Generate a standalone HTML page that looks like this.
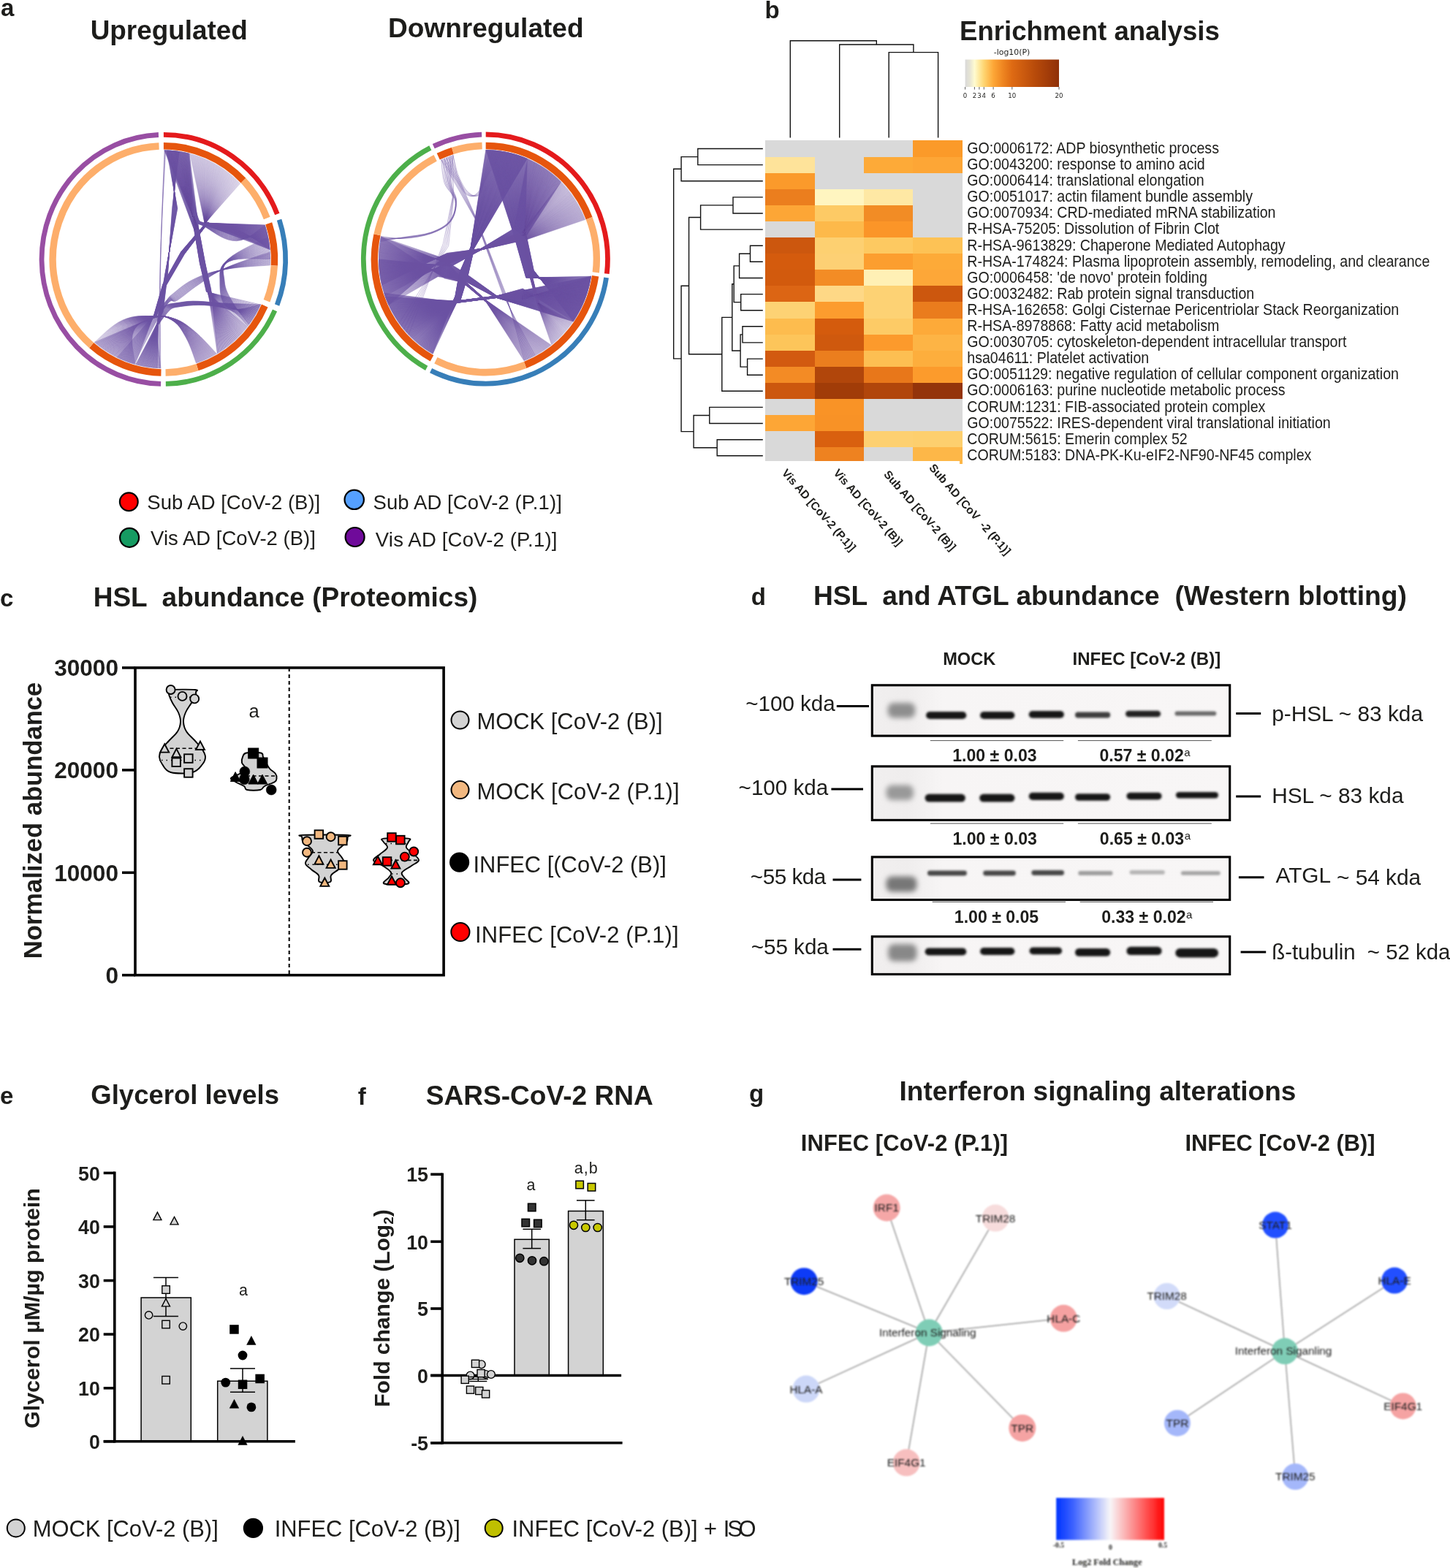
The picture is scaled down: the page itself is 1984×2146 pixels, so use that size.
<!DOCTYPE html>
<html lang="en"><head><meta charset="utf-8"><title>Figure</title>
<style>
html,body{margin:0;padding:0;background:#fff;}
body{width:1984px;height:2146px;overflow:hidden;}
svg{display:block;}
text{font-family:"Liberation Sans",sans-serif;fill:#1d1d1b;white-space:pre;}
.b{font-weight:700;}
.ser{font-family:"Liberation Serif",serif;font-weight:700;}
</style></head><body>
<svg width="1984" height="2146" viewBox="0 0 1984 2146">
<defs>
<filter id="bl1" x="-20%" y="-20%" width="140%" height="140%"><feGaussianBlur stdDeviation="1"/></filter>
<filter id="bl15" x="-30%" y="-60%" width="160%" height="220%"><feGaussianBlur stdDeviation="1.5"/></filter>
<filter id="bl08" x="-10%" y="-30%" width="120%" height="160%"><feGaussianBlur stdDeviation="0.85"/></filter>
<filter id="bl2" x="-30%" y="-60%" width="160%" height="220%"><feGaussianBlur stdDeviation="2.2"/></filter>
<filter id="bl3" x="-30%" y="-60%" width="160%" height="220%"><feGaussianBlur stdDeviation="3.5"/></filter>
<filter id="bl05" x="-10%" y="-10%" width="120%" height="120%"><feGaussianBlur stdDeviation="0.6"/></filter>
</defs>
<!-- p10_a.py -->
<text x="1.0" y="21.5" font-size="33.00" xml:space="preserve" class="b">a</text>
<text x="123.7" y="53.8" font-size="36.90" xml:space="preserve" class="b">Upregulated</text>
<text x="531.0" y="51.3" font-size="37.05" xml:space="preserve" class="b">Downregulated</text>
<g transform="translate(223.90 354.90) scale(0.9780 1)">
<path d="M1.1 -149.4C0.0 -118.5 -3.1 -54.6 -4.2 5.1C-5.3 64.9 -4.3 120.5 -4.3 149.3M1.7 -149.4C0.4 -118.5 -3.1 -54.6 -4.4 5.1C-5.7 64.8 -4.9 120.5 -5.0 149.3M2.2 -149.4C0.9 -118.5 -3.0 -54.6 -4.6 5.1C-6.2 64.8 -5.5 120.5 -5.7 149.3M2.8 -149.4C1.3 -118.5 -2.9 -54.6 -4.8 5.1C-6.6 64.8 -6.1 120.4 -6.4 149.3M141.8 -46.9L59.1 -49.8L24.3 -10.3L-1.1 34.1L-13.2 75.2L-39.9 144.0M142.0 -46.4L59.1 -49.8L24.3 -10.3L-1.1 34.1L-13.2 75.2L-40.8 143.7M142.2 -46.0L59.1 -49.7L24.4 -10.2L-1.0 34.1L-13.2 75.3L-41.7 143.5M142.3 -45.5L59.1 -49.7L24.5 -10.2L-0.9 34.2L-13.1 75.3L-42.6 143.2M142.5 -45.0L59.1 -49.7L24.5 -10.1L-0.9 34.2L-13.1 75.3L-43.5 142.9M142.6 -44.5L59.1 -49.6L24.6 -10.1L-0.8 34.2L-13.0 75.4L-44.4 142.7M142.8 -44.1L59.2 -49.6L24.7 -10.1L-0.7 34.3L-13.0 75.4L-45.3 142.4M142.9 -43.6L59.2 -49.5L24.8 -10.0L-0.7 34.3L-12.9 75.4L-46.2 142.1M143.0 -43.1L59.2 -49.5L24.8 -10.0L-0.6 34.3L-12.9 75.5L-47.1 141.8M143.2 -42.6L59.2 -49.4L24.9 -9.9L-0.5 34.4L-12.8 75.5L-48.0 141.5M143.3 -42.2L59.2 -49.4L25.0 -9.9L-0.5 34.4L-12.8 75.5L-48.9 141.2M143.5 -41.7L59.2 -49.3L25.0 -9.8L-0.4 34.4L-12.7 75.6L-49.8 140.9M143.6 -41.2L59.2 -49.3L25.1 -9.8L-0.3 34.4L-12.7 75.6L-50.7 140.6M143.7 -40.7L59.2 -49.2L25.2 -9.7L-0.3 34.5L-12.6 75.6L-51.5 140.2M143.9 -40.2L59.2 -49.2L25.2 -9.7L-0.2 34.5L-12.6 75.7L-52.4 139.9M144.0 -39.8L59.2 -49.1L25.3 -9.6L-0.1 34.5L-12.6 75.7L-53.3 139.6M144.1 -39.3L59.2 -49.1L25.4 -9.6L-0.1 34.6L-12.5 75.7L-54.2 139.2M144.3 -38.8L59.3 -49.0L25.5 -9.5L-0.0 34.6L-12.5 75.8L-55.1 138.9M144.4 -38.3L59.3 -49.0L25.5 -9.5L0.1 34.6L-12.4 75.8L-55.9 138.5M144.5 -37.8L59.3 -48.9L25.6 -9.4L0.1 34.6L-12.4 75.8L-56.8 138.2M144.7 -37.3L59.3 -48.9L25.7 -9.4L0.2 34.7L-12.3 75.9L-57.7 137.8M144.8 -36.9L59.3 -48.8L25.7 -9.3L0.2 34.7L-12.3 75.9L-58.5 137.5M144.9 -36.4L59.3 -48.8L25.8 -9.3L0.3 34.7L-12.2 75.9L-59.4 137.1M145.0 -35.9L59.3 -48.7L25.9 -9.2L0.4 34.8L-12.2 76.0L-60.3 136.7M145.1 -35.4L59.3 -48.7L25.9 -9.2L0.4 34.8L-12.1 76.0L-61.1 136.3M145.3 -34.9L59.3 -48.6L26.0 -9.1L0.5 34.8L-12.1 76.0L-62.0 135.9M145.4 -34.4L59.3 -48.6L26.1 -9.1L0.6 34.9L-12.0 76.1L-62.9 135.5M145.5 -34.0L59.3 -48.5L26.2 -9.0L0.6 34.9L-12.0 76.1L-63.7 135.1M145.6 -33.5L59.3 -48.5L26.2 -9.0L0.7 34.9L-12.0 76.1L-64.6 134.7M145.7 -33.0L59.4 -48.4L26.3 -8.9L0.8 34.9L-11.9 76.2L-65.4 134.3M145.8 -32.5L59.4 -48.4L26.4 -8.9L0.8 35.0L-11.9 76.2L-66.2 133.9M145.9 -32.0L59.4 -48.3L26.4 -8.8L0.9 35.0L-11.8 76.2L-67.1 133.5M146.0 -31.5L59.4 -48.3L26.5 -8.8L1.0 35.0L-11.8 76.3L-67.9 133.1M146.1 -31.0L59.4 -48.2L26.6 -8.7L1.0 35.1L-11.7 76.3L-68.8 132.6M146.2 -30.5L59.4 -48.2L26.7 -8.7L1.1 35.1L-11.7 76.3L-69.6 132.2M146.3 -30.1L59.4 -48.1L26.7 -8.6L1.2 35.1L-11.6 76.4L-70.4 131.8M146.4 -29.6L59.4 -48.1L26.8 -8.6L1.2 35.1L-11.6 76.4L-71.3 131.3M146.5 -29.1L59.4 -48.0L26.9 -8.5L1.3 35.2L-11.5 76.4L-72.1 130.9M146.6 -28.6L59.4 -48.0L26.9 -8.5L1.4 35.2L-11.5 76.5L-72.9 130.4M146.7 -28.1L59.4 -47.9L27.0 -8.4L1.4 35.2L-11.4 76.5L-73.7 129.9M146.8 -27.6L59.5 -47.9L27.1 -8.4L1.5 35.3L-11.4 76.5L-74.6 129.5M146.9 -27.1L59.5 -47.8L27.1 -8.3L1.5 35.3L-11.4 76.6L-75.4 129.0M147.0 -26.6L59.5 -47.8L27.2 -8.3L1.6 35.3L-11.3 76.6L-76.2 128.5M147.1 -26.1L59.5 -47.7L27.3 -8.2L1.7 35.3L-11.3 76.6L-77.0 128.0M147.2 -25.6L59.5 -47.7L27.4 -8.2L1.7 35.4L-11.2 76.7L-77.8 127.5M147.3 -25.1L59.5 -47.6L27.4 -8.1L1.8 35.4L-11.2 76.7L-78.6 127.0M147.4 -24.7L59.5 -47.6L27.5 -8.1L1.9 35.4L-11.1 76.7L-79.4 126.6M147.4 -24.2L59.5 -47.5L27.6 -8.0L1.9 35.5L-11.1 76.8L-80.2 126.0M147.5 -23.7L59.5 -47.5L27.6 -8.0L2.0 35.5L-11.0 76.8L-81.0 125.5M147.6 -23.2L59.5 -47.4L27.7 -7.9L2.1 35.5L-11.0 76.8L-81.8 125.0M147.7 -22.7L59.5 -47.4L27.8 -7.9L2.1 35.6L-10.9 76.9L-82.6 124.5M147.7 -22.2L59.6 -47.3L27.8 -7.8L2.2 35.6L-10.9 76.9L-83.4 124.0M147.8 -21.7L59.6 -47.3L27.9 -7.8L2.3 35.6L-10.9 76.9L-84.1 123.5M147.9 -21.2L59.6 -47.2L28.0 -7.7L2.3 35.6L-10.8 77.0L-84.9 122.9M148.0 -20.7L59.6 -47.2L28.1 -7.7L2.4 35.7L-10.8 77.0L-85.7 122.4M148.0 -20.2L59.6 -47.1L28.1 -7.6L2.5 35.7L-10.7 77.0L-86.5 121.8M148.1 -19.7L59.6 -47.1L28.2 -7.6L2.5 35.7L-10.7 77.1L-87.2 121.3M148.2 -19.2L59.6 -47.0L28.3 -7.5L2.6 35.8L-10.6 77.1L-88.0 120.7M148.2 -18.7L59.6 -47.0L28.3 -7.5L2.7 35.8L-10.6 77.1L-88.7 120.2M148.3 -18.2L59.6 -46.9L28.4 -7.4L2.7 35.8L-10.5 77.2L-89.5 119.6M148.3 -17.7L59.6 -46.9L28.5 -7.4L2.8 35.8L-10.5 77.2L-90.3 119.1M148.4 -17.2L59.6 -46.8L28.5 -7.3L2.9 35.9L-10.4 77.2L-91.0 118.5M148.5 -16.7L59.7 -46.8L28.6 -7.3L2.9 35.9L-10.4 77.3L-91.8 117.9M148.5 -16.2L59.7 -46.7L28.7 -7.2L3.0 35.9L-10.3 77.3L-92.5 117.3M148.6 -15.8L59.7 -46.7L28.8 -7.2L3.0 36.0L-10.3 77.3L-93.2 116.7M148.6 -15.3L59.7 -46.6L28.8 -7.2L3.1 36.0L-10.3 77.4L-94.0 116.1M148.7 -14.8L59.7 -46.6L28.9 -7.1L3.2 36.0L-10.2 77.4L-94.7 115.6M148.7 -14.3L59.7 -46.6L29.0 -7.1L3.2 36.1L-10.2 77.4L-95.4 115.0M148.8 -13.8L59.7 -46.5L29.0 -7.0L3.3 36.1L-10.1 77.5L-96.1 114.4M148.8 -13.3L59.7 -46.5L29.1 -7.0L3.4 36.1L-10.1 77.5L-96.9 113.7" fill="none" stroke="#6A51A3" stroke-width="0.50" stroke-opacity="0.80" stroke-linejoin="round"/>
<path d="M4.1 -149.3L19.3 -69.7L2.5 17.4L-7.1 70.7L-8.2 149.2M4.6 -149.3L19.2 -69.7L2.6 17.4L-6.9 70.7L-9.0 149.1M5.1 -149.3L19.0 -69.7L2.7 17.4L-6.8 70.8L-9.8 149.1M5.5 -149.3L18.8 -69.7L2.8 17.4L-6.6 70.8L-10.6 149.0M6.0 -149.3L18.6 -69.7L2.8 17.4L-6.5 70.8L-11.4 149.0M6.4 -149.3L18.4 -69.8L2.9 17.4L-6.3 70.9L-12.2 148.9M6.9 -149.2L18.2 -69.8L3.0 17.4L-6.1 70.9L-13.0 148.8M7.3 -149.2L18.0 -69.8L3.1 17.4L-6.0 70.9L-13.8 148.8M7.8 -149.2L17.8 -69.8L3.2 17.5L-5.8 71.0L-14.6 148.7M8.2 -149.2L17.7 -69.8L3.3 17.5L-5.7 71.0L-15.4 148.6M8.7 -149.1L17.5 -69.8L3.4 17.5L-5.5 71.0L-16.2 148.5M9.2 -149.1L17.3 -69.8L3.5 17.5L-5.3 71.1L-17.0 148.4M9.6 -149.1L17.1 -69.8L3.5 17.5L-5.2 71.1L-17.8 148.3M10.1 -149.1L16.9 -69.8L3.6 17.5L-5.0 71.1L-18.6 148.2M10.5 -149.0L16.7 -69.8L3.7 17.5L-4.9 71.2L-19.4 148.1M11.0 -149.0L16.5 -69.9L3.8 17.5L-4.7 71.2L-20.2 148.0M11.4 -149.0L16.4 -69.9L3.9 17.6L-4.5 71.2L-21.0 147.9M11.9 -148.9L16.2 -69.9L4.0 17.6L-4.4 71.3L-21.8 147.8M12.3 -148.9L16.0 -69.9L4.1 17.6L-4.2 71.3L-22.6 147.7M12.8 -148.9L15.8 -69.9L4.1 17.6L-4.1 71.3L-23.4 147.6M13.2 -148.8L15.6 -69.9L4.2 17.6L-3.9 71.4L-24.2 147.4M13.7 -148.8L15.4 -69.9L4.3 17.6L-3.7 71.4L-24.9 147.3M14.2 -148.7L15.2 -69.9L4.4 17.6L-3.6 71.4L-25.7 147.2M14.6 -148.7L15.0 -69.9L4.5 17.6L-3.4 71.5L-26.5 147.0M15.1 -148.6L14.9 -69.9L4.6 17.7L-3.3 71.5L-27.3 146.9M15.5 -148.6L14.7 -70.0L4.7 17.7L-3.1 71.5L-28.1 146.7M16.0 -148.5L14.5 -70.0L4.8 17.7L-3.0 71.6L-28.9 146.6M16.4 -148.5L14.3 -70.0L4.8 17.7L-2.8 71.6L-29.7 146.4M16.9 -148.4L14.1 -70.0L4.9 17.7L-2.6 71.6L-30.5 146.3M17.3 -148.4L13.9 -70.0L5.0 17.7L-2.5 71.7L-31.2 146.1M17.8 -148.3L13.7 -70.0L5.1 17.7L-2.3 71.7L-32.0 145.9M18.2 -148.3L13.5 -70.0L5.2 17.7L-2.2 71.7L-32.8 145.8M18.7 -148.2L13.4 -70.0L5.3 17.8L-2.0 71.8L-33.6 145.6M19.1 -148.2L13.2 -70.0L5.4 17.8L-1.8 71.8L-34.4 145.4M19.6 -148.1L13.0 -70.0L5.4 17.8L-1.7 71.8L-35.2 145.2M20.0 -148.0L12.8 -70.1L5.5 17.8L-1.5 71.9L-35.9 145.0M20.5 -148.0L12.6 -70.1L5.6 17.8L-1.4 71.9L-36.7 144.8M21.0 -147.9L12.4 -70.1L5.7 17.8L-1.2 71.9L-37.5 144.6M21.4 -147.9L12.2 -70.1L5.8 17.8L-1.0 72.0L-38.3 144.4M21.9 -147.8L12.0 -70.1L5.9 17.8L-0.9 72.0L-39.0 144.2M1.1 -149.4L42.7 -40.4L50.7 5.8L59.8 44.5L135.8 62.2M1.7 -149.4L42.9 -40.4L50.8 5.8L59.9 44.4L135.2 63.6M2.3 -149.4L43.0 -40.5L50.9 5.8L60.0 44.4L134.5 65.0M2.9 -149.4L43.1 -40.5L51.0 5.8L60.1 44.3L133.8 66.4M3.5 -149.4L43.2 -40.5L51.2 5.7L60.2 44.2L133.1 67.8M4.1 -149.3L43.3 -40.5L51.3 5.7L60.4 44.2L132.4 69.2M4.7 -149.3L43.4 -40.6L51.4 5.7L60.5 44.1L131.7 70.5M5.2 -149.3L43.5 -40.6L51.5 5.7L60.6 44.0L131.0 71.9M5.8 -149.3L43.6 -40.6L51.7 5.6L60.7 44.0L130.2 73.2M6.4 -149.3L43.7 -40.6L51.8 5.6L60.8 43.9L129.4 74.6M7.0 -149.2L43.8 -40.7L51.9 5.6L60.9 43.8L128.7 75.9M7.6 -149.2L43.9 -40.7L52.0 5.6L61.0 43.8L127.9 77.3M8.2 -149.2L44.0 -40.7L52.2 5.5L61.1 43.7L127.1 78.6M8.8 -149.1L44.1 -40.7L52.3 5.5L61.2 43.7L126.2 79.9M9.4 -149.1L44.2 -40.8L52.4 5.5L61.3 43.6L125.4 81.2M10.0 -149.1L44.3 -40.8L52.5 5.5L61.4 43.5L124.6 82.5M10.6 -149.0L44.4 -40.8L52.6 5.4L61.5 43.5L123.7 83.8M11.2 -149.0L44.5 -40.8L52.8 5.4L61.6 43.4L122.8 85.1M11.8 -148.9L44.6 -40.9L52.9 5.4L61.7 43.3L121.9 86.3M12.4 -148.9L44.8 -40.9L53.0 5.4L61.9 43.3L121.0 87.6M13.0 -148.8L44.9 -40.9L53.1 5.3L62.0 43.2L120.1 88.9M13.6 -148.8L45.0 -40.9L53.3 5.3L62.1 43.1L119.2 90.1M14.2 -148.7L45.1 -41.0L53.4 5.3L62.2 43.1L118.2 91.3M14.7 -148.7L45.2 -41.0L53.5 5.3L62.3 43.0L117.3 92.6M15.3 -148.6L45.3 -41.0L53.6 5.2L62.4 43.0L116.3 93.8M15.9 -148.5L45.4 -41.0L53.7 5.2L62.5 42.9L115.3 95.0M16.5 -148.5L45.5 -41.1L53.9 5.2L62.6 42.8L114.3 96.2M17.1 -148.4L45.6 -41.1L54.0 5.2L62.7 42.8L113.3 97.3M17.7 -148.3L45.7 -41.1L54.1 5.1L62.8 42.7L112.3 98.5M18.3 -148.3L45.8 -41.1L54.2 5.1L62.9 42.6L111.3 99.7M18.9 -148.2L45.9 -41.2L54.4 5.1L63.0 42.6L110.2 100.8M19.5 -148.1L46.0 -41.2L54.5 5.1L63.1 42.5L109.2 102.0M20.1 -148.0L46.1 -41.2L54.6 5.0L63.3 42.4L108.1 103.1M20.7 -148.0L46.2 -41.2L54.7 5.0L63.4 42.4L107.0 104.2M21.3 -147.9L46.3 -41.3L54.8 5.0L63.5 42.3L106.0 105.3M21.8 -147.8L46.4 -41.3L55.0 5.0L63.6 42.2L104.9 106.4M22.4 -147.7L46.5 -41.3L55.1 4.9L63.7 42.2L103.7 107.5M23.0 -147.6L46.7 -41.3L55.2 4.9L63.8 42.1L102.6 108.6M23.6 -147.5L46.8 -41.4L55.3 4.9L63.9 42.1L101.5 109.6M24.2 -147.4L46.9 -41.4L55.5 4.9L64.0 42.0L100.4 110.7M24.8 -147.3L47.0 -41.4L55.6 4.8L64.1 41.9L99.2 111.7M25.4 -147.2L47.1 -41.4L55.7 4.8L64.2 41.9L98.0 112.7M26.0 -147.1L47.2 -41.5L55.8 4.8L64.3 41.8L96.9 113.8M26.5 -147.0L47.3 -41.5L55.9 4.8L64.4 41.7L95.7 114.8M27.1 -146.9L47.4 -41.5L56.1 4.7L64.5 41.7L94.5 115.7M27.7 -146.8L47.5 -41.5L56.2 4.7L64.7 41.6L93.3 116.7M28.3 -146.7L47.6 -41.6L56.3 4.7L64.8 41.5L92.0 117.7M28.9 -146.6L47.7 -41.6L56.4 4.7L64.9 41.5L90.8 118.6M29.5 -146.5L47.8 -41.6L56.6 4.6L65.0 41.4L89.6 119.6M30.0 -146.3L47.9 -41.6L56.7 4.6L65.1 41.4L88.3 120.5M30.6 -146.2L48.0 -41.7L56.8 4.6L65.2 41.3L87.1 121.4M31.2 -146.1L48.1 -41.7L56.9 4.6L65.3 41.2L85.8 122.3M31.8 -146.0L48.2 -41.7L57.0 4.5L65.4 41.2L84.5 123.2M32.4 -145.8L48.3 -41.7L57.2 4.5L65.5 41.1L83.3 124.1M33.0 -145.7L48.4 -41.8L57.3 4.5L65.6 41.0L82.0 124.9M33.5 -145.6L48.5 -41.8L57.4 4.5L65.7 41.0L80.7 125.8M34.1 -145.5L48.7 -41.8L57.5 4.4L65.8 40.9L79.4 126.6M34.7 -145.3L48.8 -41.8L57.7 4.4L65.9 40.8L78.0 127.4M35.3 -145.2L48.9 -41.9L57.8 4.4L66.0 40.8L76.7 128.2M35.9 -145.0L49.0 -41.9L57.9 4.4L66.2 40.7L75.4 129.0M1.8 -149.4C9.2 -132.2 27.3 -84.6 38.7 -63.5C50.1 -42.4 46.1 -51.7 58.8 -44.0C71.5 -36.3 85.4 -24.7 102.1 -25.2C118.7 -25.8 134.0 -42.4 141.9 -46.7M2.8 -149.4C10.0 -132.2 27.6 -84.7 38.9 -63.6C50.1 -42.6 46.2 -51.7 58.9 -44.1C71.5 -36.5 85.5 -25.4 102.1 -25.7C118.8 -26.0 134.2 -41.7 142.2 -45.7M3.8 -149.4C10.8 -132.2 28.0 -84.7 39.1 -63.7C50.1 -42.7 46.3 -51.8 58.9 -44.3C71.6 -36.7 85.5 -26.0 102.2 -26.1C118.9 -26.2 134.5 -41.0 142.6 -44.7M4.8 -149.3C11.7 -132.2 28.4 -84.8 39.3 -63.8C50.1 -42.8 46.4 -51.8 59.0 -44.4C71.6 -36.9 85.5 -26.7 102.3 -26.5C119.1 -26.4 134.7 -40.3 142.9 -43.7M5.8 -149.3C12.5 -132.2 28.8 -84.8 39.5 -63.9C50.1 -42.9 46.5 -51.9 59.1 -44.5C71.6 -37.1 85.6 -27.3 102.4 -27.0C119.2 -26.6 135.0 -39.6 143.2 -42.7M6.8 -149.2C13.4 -132.2 29.2 -84.9 39.7 -63.9C50.1 -43.0 46.6 -52.0 59.1 -44.7C71.7 -37.3 85.6 -28.0 102.5 -27.4C119.3 -26.8 135.2 -38.9 143.4 -41.8M7.8 -149.2C14.2 -132.2 29.6 -84.9 39.9 -64.0C50.2 -43.1 46.7 -52.0 59.2 -44.8C71.7 -37.5 85.6 -28.6 102.5 -27.8C119.4 -27.0 135.5 -38.2 143.7 -40.8M8.8 -149.1C15.0 -132.1 30.0 -85.0 40.1 -64.1C50.2 -43.3 46.8 -52.1 59.3 -44.9C71.8 -37.7 85.7 -29.3 102.6 -28.3C119.6 -27.3 135.7 -37.5 144.0 -39.8M9.8 -149.1C15.9 -132.1 30.4 -85.0 40.3 -64.2C50.2 -43.4 46.9 -52.1 59.3 -45.0C71.8 -37.9 85.7 -30.0 102.7 -28.7C119.7 -27.5 136.0 -36.8 144.3 -38.8M10.8 -149.0C16.7 -132.1 30.8 -85.0 40.5 -64.3C50.2 -43.5 46.9 -52.2 59.4 -45.2C71.9 -38.1 85.7 -30.6 102.8 -29.1C119.8 -27.7 136.2 -36.1 144.5 -37.8M11.8 -148.9C17.5 -132.0 31.2 -85.1 40.7 -64.4C50.2 -43.6 47.0 -52.3 59.5 -45.3C71.9 -38.3 85.8 -31.3 102.9 -29.6C119.9 -27.9 136.4 -35.4 144.8 -36.8M12.8 -148.9C18.4 -132.0 31.5 -85.1 40.9 -64.4C50.3 -43.8 47.1 -52.3 59.5 -45.4C71.9 -38.5 85.8 -31.9 102.9 -30.0C120.0 -28.1 136.6 -34.6 145.0 -35.8M13.7 -148.8C19.2 -131.9 31.9 -85.2 41.1 -64.5C50.3 -43.9 47.2 -52.4 59.6 -45.6C72.0 -38.7 85.9 -32.6 103.0 -30.4C120.2 -28.3 136.8 -33.9 145.3 -34.8M14.7 -148.7C20.1 -131.9 32.3 -85.2 41.3 -64.6C50.3 -44.0 47.3 -52.4 59.7 -45.7C72.0 -38.9 85.9 -33.3 103.1 -30.9C120.3 -28.5 137.0 -33.2 145.5 -33.8M15.7 -148.6C20.9 -131.8 32.7 -85.2 41.5 -64.7C50.3 -44.1 47.4 -52.5 59.7 -45.8C72.1 -39.1 86.0 -33.9 103.2 -31.3C120.4 -28.7 137.2 -32.5 145.8 -32.8M16.7 -148.5C21.7 -131.7 33.1 -85.3 41.7 -64.8C50.3 -44.3 47.5 -52.6 59.8 -46.0C72.1 -39.3 86.0 -34.6 103.3 -31.7C120.5 -28.9 137.4 -31.8 146.0 -31.8M17.7 -148.3C22.6 -131.6 33.5 -85.3 41.9 -64.9C50.4 -44.4 47.6 -52.6 59.9 -46.1C72.2 -39.5 86.1 -35.2 103.3 -32.2C120.6 -29.1 137.6 -31.1 146.2 -30.8M18.7 -148.2C23.4 -131.6 33.9 -85.3 42.1 -64.9C50.4 -44.5 47.7 -52.7 60.0 -46.2C72.2 -39.8 86.1 -35.9 103.4 -32.6C120.7 -29.3 137.8 -30.4 146.4 -29.8M19.7 -148.1C24.2 -131.5 34.3 -85.4 42.3 -65.0C50.4 -44.7 47.8 -52.7 60.0 -46.3C72.3 -40.0 86.2 -36.6 103.5 -33.1C120.8 -29.5 138.0 -29.6 146.6 -28.8M20.7 -148.0C25.0 -131.4 34.7 -85.4 42.5 -65.1C50.4 -44.8 47.9 -52.8 60.1 -46.5C72.3 -40.2 86.2 -37.2 103.6 -33.5C120.9 -29.7 138.2 -28.9 146.8 -27.8M21.7 -147.8C25.9 -131.3 35.0 -85.4 42.7 -65.2C50.4 -44.9 48.0 -52.9 60.2 -46.6C72.3 -40.4 86.3 -37.9 103.7 -33.9C121.0 -30.0 138.3 -28.2 147.0 -26.8M22.7 -147.7C26.7 -131.2 35.4 -85.5 42.9 -65.3C50.5 -45.1 48.1 -52.9 60.2 -46.7C72.4 -40.6 86.3 -38.5 103.7 -34.4C121.1 -30.2 138.5 -27.5 147.2 -25.8M23.6 -147.5C27.5 -131.1 35.8 -85.5 43.1 -65.4C50.5 -45.2 48.2 -53.0 60.3 -46.9C72.4 -40.8 86.4 -39.2 103.8 -34.8C121.2 -30.4 138.6 -26.8 147.3 -24.7M24.6 -147.4C28.4 -131.0 36.2 -85.5 43.4 -65.4C50.5 -45.4 48.3 -53.0 60.4 -47.0C72.5 -41.0 86.5 -39.9 103.9 -35.2C121.3 -30.6 138.8 -26.0 147.5 -23.7M25.6 -147.2C29.2 -130.9 36.6 -85.5 43.6 -65.5C50.5 -45.5 48.4 -53.1 60.4 -47.1C72.5 -41.2 86.5 -40.5 104.0 -35.7C121.4 -30.8 138.9 -25.3 147.7 -22.7M26.6 -147.0C30.0 -130.7 37.0 -85.6 43.8 -65.6C50.5 -45.7 48.4 -53.2 60.5 -47.3C72.6 -41.4 86.6 -41.2 104.1 -36.1C121.5 -31.0 139.1 -24.6 147.8 -21.7M27.6 -146.8C30.8 -130.6 37.4 -85.6 44.0 -65.7C50.6 -45.8 48.5 -53.2 60.6 -47.4C72.6 -41.6 86.7 -41.9 104.1 -36.5C121.6 -31.2 139.2 -23.8 148.0 -20.7M28.5 -146.6C31.7 -130.5 37.7 -85.6 44.2 -65.8C50.6 -45.9 48.6 -53.3 60.6 -47.5C72.6 -41.8 86.7 -42.5 104.2 -37.0C121.7 -31.4 139.3 -23.1 148.1 -19.7M29.5 -146.5C32.5 -130.3 38.1 -85.6 44.4 -65.9C50.6 -46.1 48.7 -53.3 60.7 -47.6C72.7 -42.0 86.8 -43.2 104.3 -37.4C121.8 -31.6 139.4 -22.4 148.2 -18.6M30.5 -146.3C33.3 -130.2 38.5 -85.6 44.6 -65.9C50.6 -46.2 48.8 -53.4 60.8 -47.8C72.7 -42.2 86.9 -43.9 104.4 -37.8C121.9 -31.8 139.6 -21.7 148.4 -17.6M31.5 -146.0C34.1 -130.0 38.9 -85.7 44.8 -66.0C50.7 -46.4 48.9 -53.5 60.8 -47.9C72.8 -42.4 86.9 -44.5 104.4 -38.3C122.0 -32.0 139.7 -20.9 148.5 -16.6M32.4 -145.8C35.0 -129.9 39.3 -85.7 45.0 -66.1C50.7 -46.5 49.0 -53.5 60.9 -48.0C72.8 -42.6 87.0 -45.2 104.5 -38.7C122.1 -32.2 139.8 -20.2 148.6 -15.6M33.4 -145.6C35.8 -129.7 39.7 -85.7 45.2 -66.2C50.7 -46.7 49.1 -53.6 61.0 -48.2C72.9 -42.8 87.1 -45.8 104.6 -39.1C122.1 -32.4 139.9 -19.5 148.7 -14.6M34.4 -145.4C36.6 -129.6 40.1 -85.7 45.4 -66.3C50.7 -46.9 49.2 -53.6 61.1 -48.3C72.9 -43.0 87.1 -46.5 104.7 -39.6C122.2 -32.6 140.0 -18.7 148.8 -13.5M135.9 62.0C126.5 61.6 110.5 61.0 88.6 60.3C66.7 59.6 45.4 55.1 26.2 58.5C7.1 61.8 -1.1 58.9 -7.2 77.1C-13.2 95.2 -4.8 134.9 -4.2 149.3M135.5 62.9C126.1 62.4 110.4 61.3 88.6 60.5C66.7 59.6 45.4 55.3 26.2 58.7C7.1 62.0 -0.7 59.0 -7.0 77.2C-13.3 95.3 -5.6 134.9 -5.2 149.3M135.1 63.9C125.8 63.2 110.3 61.7 88.5 60.7C66.8 59.7 45.3 55.5 26.3 58.8C7.2 62.1 -0.3 59.2 -6.8 77.3C-13.3 95.4 -6.4 134.9 -6.3 149.3M134.6 64.8C125.4 64.0 110.2 62.1 88.5 60.9C66.8 59.7 45.3 55.7 26.3 59.0C7.3 62.3 0.1 59.4 -6.6 77.4C-13.3 95.4 -7.2 134.9 -7.4 149.2M134.2 65.8C125.0 64.8 110.0 62.4 88.5 61.1C66.9 59.8 45.3 55.9 26.3 59.2C7.4 62.4 0.6 59.5 -6.4 77.5C-13.3 95.5 -8.0 134.8 -8.4 149.2M133.7 66.7C124.6 65.6 109.9 62.8 88.4 61.3C67.0 59.9 45.3 56.1 26.4 59.3C7.4 62.6 1.0 59.7 -6.2 77.6C-13.4 95.6 -8.8 134.8 -9.5 149.1M133.2 67.6C124.2 66.4 109.8 63.2 88.4 61.6C67.0 59.9 45.3 56.3 26.4 59.5C7.5 62.8 1.4 59.8 -6.0 77.7C-13.4 95.6 -9.7 134.8 -10.6 149.0M132.7 68.6C123.9 67.2 109.6 63.6 88.4 61.8C67.1 60.0 45.3 56.5 26.4 59.7C7.6 62.9 1.8 60.0 -5.8 77.8C-13.4 95.7 -10.5 134.7 -11.6 148.9M132.2 69.5C123.5 68.0 109.5 63.9 88.3 62.0C67.2 60.1 45.2 56.7 26.4 59.9C7.7 63.1 2.2 60.1 -5.6 77.9C-13.5 95.7 -11.3 134.7 -12.7 148.9M131.8 70.4C123.1 68.8 109.4 64.3 88.3 62.2C67.2 60.1 45.2 56.9 26.5 60.0C7.7 63.2 2.6 60.3 -5.4 78.0C-13.5 95.8 -12.1 134.6 -13.8 148.8M131.3 71.4C122.7 69.6 109.2 64.7 88.3 62.4C67.3 60.2 45.2 57.1 26.5 60.2C7.8 63.4 3.0 60.5 -5.2 78.1C-13.5 95.8 -12.9 134.6 -14.8 148.7M130.8 72.3C122.2 70.4 109.1 65.0 88.2 62.7C67.4 60.3 45.2 57.3 26.5 60.4C7.9 63.5 3.4 60.6 -5.0 78.3C-13.5 95.9 -13.7 134.5 -15.9 148.6M130.2 73.2C121.8 71.1 108.9 65.4 88.2 62.9C67.5 60.3 45.2 57.5 26.6 60.6C8.0 63.7 3.8 60.8 -4.9 78.4C-13.6 95.9 -14.5 134.4 -16.9 148.4M129.7 74.1C121.4 71.9 108.8 65.8 88.2 63.1C67.5 60.4 45.2 57.7 26.6 60.7C8.0 63.8 4.3 61.0 -4.7 78.5C-13.6 96.0 -15.3 134.3 -18.0 148.3M129.2 75.0C121.0 72.7 108.6 66.1 88.1 63.3C67.6 60.5 45.1 57.9 26.6 60.9C8.1 64.0 4.7 61.1 -4.5 78.6C-13.6 96.0 -16.1 134.3 -19.1 148.2M128.7 75.9C120.6 73.4 108.5 66.5 88.1 63.5C67.7 60.6 45.1 58.1 26.6 61.1C8.2 64.1 5.1 61.3 -4.3 78.7C-13.6 96.1 -16.9 134.2 -20.1 148.0M128.1 76.8C120.1 74.2 108.3 66.9 88.1 63.7C67.8 60.6 45.1 58.3 26.7 61.3C8.2 64.3 5.5 61.5 -4.1 78.8C-13.7 96.1 -17.8 134.1 -21.2 147.9M127.6 77.7C119.7 75.0 108.2 67.2 88.0 64.0C67.8 60.7 45.1 58.4 26.7 61.4C8.3 64.4 5.9 61.6 -3.9 78.9C-13.7 96.2 -18.6 134.0 -22.2 147.7M127.0 78.6C119.2 75.7 108.0 67.6 88.0 64.2C67.9 60.8 45.1 58.6 26.7 61.6C8.4 64.6 6.3 61.8 -3.7 79.0C-13.7 96.2 -19.4 133.9 -23.3 147.6M126.5 79.5C118.8 76.5 107.9 67.9 88.0 64.4C68.0 60.8 45.0 58.8 26.8 61.8C8.5 64.7 6.7 62.0 -3.5 79.1C-13.7 96.2 -20.2 133.7 -24.3 147.4M125.9 80.4C118.3 77.2 107.7 68.3 87.9 64.6C68.1 60.9 45.0 59.0 26.8 62.0C8.5 64.9 7.1 62.2 -3.3 79.2C-13.7 96.3 -21.0 133.6 -25.4 147.2M125.3 81.3C117.9 78.0 107.6 68.7 87.9 64.8C68.2 61.0 45.0 59.2 26.8 62.1C8.6 65.0 7.5 62.4 -3.1 79.3C-13.8 96.3 -21.8 133.5 -26.4 147.0M124.8 82.2C117.4 78.7 107.4 69.0 87.8 65.0C68.3 61.1 45.0 59.4 26.8 62.3C8.7 65.2 7.9 62.5 -2.9 79.4C-13.8 96.4 -22.6 133.4 -27.5 146.9M124.2 83.0C116.9 79.5 107.3 69.4 87.8 65.3C68.3 61.2 45.0 59.6 26.9 62.5C8.8 65.3 8.3 62.7 -2.7 79.6C-13.8 96.4 -23.4 133.2 -28.5 146.7M123.6 83.9C116.4 80.2 107.1 69.7 87.8 65.5C68.4 61.2 45.0 59.8 26.9 62.7C8.8 65.5 8.8 62.9 -2.5 79.7C-13.8 96.4 -24.2 133.1 -29.6 146.4M123.0 84.8C116.0 81.0 107.0 70.1 87.7 65.7C68.5 61.3 44.9 60.0 26.9 62.8C8.9 65.6 9.2 63.1 -2.4 79.8C-13.9 96.4 -25.0 132.9 -30.6 146.2M122.4 85.6C115.5 81.7 106.8 70.4 87.7 65.9C68.6 61.4 44.9 60.2 27.0 63.0C9.0 65.8 9.6 63.3 -2.2 79.9C-13.9 96.5 -25.8 132.8 -31.7 146.0M121.8 86.5C115.0 82.4 106.6 70.8 87.7 66.1C68.7 61.5 44.9 60.4 27.0 63.2C9.1 65.9 10.0 63.5 -2.0 80.0C-13.9 96.5 -26.6 132.6 -32.7 145.8M121.2 87.4C114.5 83.2 106.5 71.2 87.6 66.4C68.8 61.6 44.9 60.6 27.0 63.4C9.1 66.1 10.4 63.7 -1.8 80.1C-13.9 96.5 -27.3 132.5 -33.7 145.5M120.6 88.2C114.0 83.9 106.3 71.5 87.6 66.6C68.9 61.6 44.9 60.8 27.0 63.5C9.2 66.3 10.8 63.8 -1.6 80.2C-13.9 96.6 -28.1 132.3 -34.8 145.3M120.0 89.1C113.5 84.6 106.2 71.9 87.6 66.8C69.0 61.7 44.9 61.0 27.1 63.7C9.3 66.4 11.2 64.0 -1.4 80.3C-14.0 96.6 -28.9 132.1 -35.8 145.0M119.3 89.9C113.0 85.3 106.0 72.2 87.5 67.0C69.1 61.8 44.8 61.2 27.1 63.9C9.4 66.6 11.6 64.2 -1.2 80.4C-14.0 96.6 -29.7 131.9 -36.8 144.8M118.7 90.7C112.5 86.0 105.8 72.6 87.5 67.2C69.2 61.9 44.8 61.4 27.1 64.0C9.4 66.7 12.0 64.4 -1.0 80.5C-14.0 96.6 -30.5 131.7 -37.9 144.5M118.1 91.6C111.9 86.7 105.6 72.9 87.5 67.4C69.3 62.0 44.8 61.6 27.2 64.2C9.5 66.9 12.4 64.6 -0.8 80.6C-14.0 96.6 -31.3 131.5 -38.9 144.2" fill="none" stroke="#6A51A3" stroke-width="0.50" stroke-opacity="0.90" stroke-linejoin="round"/>
<path d="M36.4 -144.9L57.4 -49.5L141.8 -47.0M37.0 -144.8L57.4 -49.5L141.9 -46.8M37.5 -144.6L57.5 -49.6L141.9 -46.6M38.0 -144.5L57.5 -49.6L142.0 -46.4M38.6 -144.3L57.5 -49.6L142.1 -46.2M39.1 -144.2L57.5 -49.6L142.2 -45.9M39.6 -144.0L57.5 -49.6L142.2 -45.7M40.2 -143.9L57.5 -49.6L142.3 -45.5M40.7 -143.7L57.6 -49.6L142.4 -45.3M41.2 -143.6L57.6 -49.6L142.4 -45.1M41.8 -143.4L57.6 -49.6L142.5 -44.8M42.3 -143.3L57.6 -49.7L142.6 -44.6M42.8 -143.1L57.6 -49.7L142.7 -44.4M43.4 -143.0L57.6 -49.7L142.7 -44.2M43.9 -142.8L57.7 -49.7L142.8 -43.9M44.4 -142.6L57.7 -49.7L142.9 -43.7M45.0 -142.5L57.7 -49.7L142.9 -43.5M45.5 -142.3L57.7 -49.7L143.0 -43.3M46.0 -142.1L57.7 -49.7L143.1 -43.0M46.6 -142.0L57.7 -49.7L143.1 -42.8M47.1 -141.8L57.8 -49.8L143.2 -42.6M47.6 -141.6L57.8 -49.8L143.3 -42.4M48.1 -141.4L57.8 -49.8L143.3 -42.2M48.7 -141.2L57.8 -49.8L143.4 -41.9M49.2 -141.1L57.8 -49.8L143.5 -41.7M49.7 -140.9L57.8 -49.8L143.5 -41.5M50.2 -140.7L57.9 -49.8L143.6 -41.3M50.8 -140.5L57.9 -49.8L143.7 -41.0M51.3 -140.3L57.9 -49.9L143.7 -40.8M51.8 -140.1L57.9 -49.9L143.8 -40.6M52.3 -139.9L57.9 -49.9L143.8 -40.4M52.9 -139.7L57.9 -49.9L143.9 -40.1M53.4 -139.5L58.0 -49.9L144.0 -39.9M53.9 -139.3L58.0 -49.9L144.0 -39.7M54.4 -139.1L58.0 -49.9L144.1 -39.5M54.9 -138.9L58.0 -49.9L144.2 -39.2M55.5 -138.7L58.0 -49.9L144.2 -39.0M56.0 -138.5L58.0 -50.0L144.3 -38.8M56.5 -138.3L58.0 -50.0L144.3 -38.6M57.0 -138.1L58.1 -50.0L144.4 -38.3M57.5 -137.9L58.1 -50.0L144.5 -38.1M58.0 -137.7L58.1 -50.0L144.5 -37.9M58.5 -137.5L58.1 -50.0L144.6 -37.7M59.0 -137.2L58.1 -50.0L144.6 -37.4M59.6 -137.0L58.1 -50.0L144.7 -37.2M60.1 -136.8L58.2 -50.1L144.7 -37.0M60.6 -136.6L58.2 -50.1L144.8 -36.8M61.1 -136.3L58.2 -50.1L144.9 -36.5M61.6 -136.1L58.2 -50.1L144.9 -36.3M62.1 -135.9L58.2 -50.1L145.0 -36.1M62.6 -135.7L58.2 -50.1L145.0 -35.9M63.1 -135.4L58.3 -50.1L145.1 -35.6M63.6 -135.2L58.3 -50.1L145.1 -35.4M64.1 -134.9L58.3 -50.1L145.2 -35.2M64.6 -134.7L58.3 -50.2L145.3 -35.0M65.1 -134.5L58.3 -50.2L145.3 -34.7M65.6 -134.2L58.3 -50.2L145.4 -34.5M66.1 -134.0L58.4 -50.2L145.4 -34.3M66.6 -133.7L58.4 -50.2L145.5 -34.0M67.1 -133.5L58.4 -50.2L145.5 -33.8M67.6 -133.2L58.4 -50.2L145.6 -33.6M68.1 -133.0L58.4 -50.2L145.6 -33.4M68.6 -132.7L58.4 -50.3L145.7 -33.1M69.1 -132.5L58.5 -50.3L145.7 -32.9M69.6 -132.2L58.5 -50.3L145.8 -32.7M70.1 -131.9L58.5 -50.3L145.8 -32.5M70.6 -131.7L58.5 -50.3L145.9 -32.2M71.1 -131.4L58.5 -50.3L145.9 -32.0M71.5 -131.2L58.5 -50.3L146.0 -31.8M72.0 -130.9L58.6 -50.3L146.0 -31.5M72.5 -130.6L58.6 -50.3L146.1 -31.3M73.0 -130.3L58.6 -50.4L146.1 -31.1M73.5 -130.1L58.6 -50.4L146.2 -30.9M74.0 -129.8L58.6 -50.4L146.2 -30.6M74.5 -129.5L58.6 -50.4L146.3 -30.4M74.9 -129.2L58.6 -50.4L146.3 -30.2M75.4 -129.0L58.7 -50.4L146.4 -30.0M75.9 -128.7L58.7 -50.4L146.4 -29.7M76.4 -128.4L58.7 -50.4L146.5 -29.5M76.9 -128.1L58.7 -50.5L146.5 -29.3M77.3 -127.8L58.7 -50.5L146.6 -29.0M77.8 -127.5L58.7 -50.5L146.6 -28.8M78.3 -127.2L58.8 -50.5L146.6 -28.6M78.8 -127.0L58.8 -50.5L146.7 -28.4M79.2 -126.7L58.8 -50.5L146.7 -28.1M79.7 -126.4L58.8 -50.5L146.8 -27.9M80.2 -126.1L58.8 -50.5L146.8 -27.7M80.6 -125.8L58.8 -50.5L146.9 -27.4M81.1 -125.5L58.9 -50.6L146.9 -27.2M81.6 -125.2L58.9 -50.6L146.9 -27.0M82.0 -124.9L58.9 -50.6L147.0 -26.8M82.5 -124.6L58.9 -50.6L147.0 -26.5M83.0 -124.2L58.9 -50.6L147.1 -26.3M83.4 -123.9L58.9 -50.6L147.1 -26.1M83.9 -123.6L59.0 -50.6L147.1 -25.8M84.3 -123.3L59.0 -50.6L147.2 -25.6M84.8 -123.0L59.0 -50.7L147.2 -25.4M85.3 -122.7L59.0 -50.7L147.3 -25.1M85.7 -122.4L59.0 -50.7L147.3 -24.9M86.2 -122.0L59.0 -50.7L147.3 -24.7M86.6 -121.7L59.1 -50.7L147.4 -24.5M87.1 -121.4L59.1 -50.7L147.4 -24.2M87.5 -121.1L59.1 -50.7L147.5 -24.0M88.0 -120.7L59.1 -50.7L147.5 -23.8M88.4 -120.4L59.1 -50.7L147.5 -23.5M88.9 -120.1L59.1 -50.8L147.6 -23.3M89.3 -119.8L59.2 -50.8L147.6 -23.1M89.8 -119.4L59.2 -50.8L147.6 -22.8M90.2 -119.1L59.2 -50.8L147.7 -22.6M90.7 -118.7L59.2 -50.8L147.7 -22.4M91.1 -118.4L59.2 -50.8L147.7 -22.2M91.5 -118.1L59.2 -50.8L147.8 -21.9M92.0 -117.7L59.2 -50.8L147.8 -21.7M92.4 -117.4L59.3 -50.9L147.8 -21.5M92.9 -117.0L59.3 -50.9L147.9 -21.2M93.3 -116.7L59.3 -50.9L147.9 -21.0M93.7 -116.3L59.3 -50.9L147.9 -20.8M94.2 -116.0L59.3 -50.9L148.0 -20.5M94.6 -115.6L59.3 -50.9L148.0 -20.3M95.0 -115.3L59.4 -50.9L148.0 -20.1M95.4 -114.9L59.4 -50.9L148.1 -19.9M95.9 -114.6L59.4 -50.9L148.1 -19.6M96.3 -114.2L59.4 -51.0L148.1 -19.4M96.7 -113.9L59.4 -51.0L148.2 -19.2M97.1 -113.5L59.4 -51.0L148.2 -18.9M97.6 -113.1L59.5 -51.0L148.2 -18.7M98.0 -112.8L59.5 -51.0L148.3 -18.5M98.4 -112.4L59.5 -51.0L148.3 -18.2M98.8 -112.0L59.5 -51.0L148.3 -18.0M99.2 -111.7L59.5 -51.0L148.3 -17.8M99.7 -111.3L59.5 -51.1L148.4 -17.5M100.1 -110.9L59.6 -51.1L148.4 -17.3M100.5 -110.6L59.6 -51.1L148.4 -17.1M100.9 -110.2L59.6 -51.1L148.4 -16.8M101.3 -109.8L59.6 -51.1L148.5 -16.6M101.7 -109.4L59.6 -51.1L148.5 -16.4M102.1 -109.1L59.6 -51.1L148.5 -16.2M102.5 -108.7L59.7 -51.1L148.5 -15.9M102.9 -108.3L59.7 -51.1L148.6 -15.7M103.3 -107.9L59.7 -51.2L148.6 -15.5M103.7 -107.5L59.7 -51.2L148.6 -15.2M104.1 -107.1L59.7 -51.2L148.6 -15.0M104.5 -106.7L59.7 -51.2L148.7 -14.8M104.9 -106.4L59.8 -51.2L148.7 -14.5M105.3 -106.0L59.8 -51.2L148.7 -14.3M105.7 -105.6L59.8 -51.2L148.7 -14.1M106.1 -105.2L59.8 -51.2L148.8 -13.8M106.5 -104.8L59.8 -51.2L148.8 -13.6M106.9 -104.4L59.8 -51.3L148.8 -13.4M107.3 -104.0L59.8 -51.3L148.8 -13.1M117.6 92.2L66.6 50.7L57.9 4.3L49.0 -41.9L0.9 -149.4M117.2 92.6L66.6 50.7L57.9 4.4L48.9 -41.9L1.3 -149.4M116.9 93.0L66.6 50.7L57.8 4.4L48.9 -41.9L1.6 -149.4M116.6 93.4L66.5 50.7L57.7 4.4L48.8 -41.8L1.9 -149.4M116.3 93.8L66.5 50.7L57.7 4.4L48.8 -41.8L2.2 -149.4M115.9 94.2L66.5 50.8L57.6 4.4L48.7 -41.8L2.6 -149.4M115.6 94.6L66.5 50.8L57.5 4.4L48.7 -41.8L2.9 -149.4M115.3 95.0L66.4 50.8L57.5 4.4L48.6 -41.8L3.2 -149.4M114.9 95.4L66.4 50.8L57.4 4.5L48.5 -41.8L3.5 -149.4M114.6 95.8L66.4 50.8L57.3 4.5L48.5 -41.8L3.9 -149.3M114.3 96.2L66.3 50.8L57.3 4.5L48.4 -41.7L4.2 -149.3M113.9 96.6L66.3 50.8L57.2 4.5L48.4 -41.7L4.5 -149.3M113.6 97.0L66.3 50.8L57.1 4.5L48.3 -41.7L4.8 -149.3M113.3 97.4L66.3 50.9L57.1 4.5L48.2 -41.7L5.2 -149.3M112.9 97.8L66.2 50.9L57.0 4.5L48.2 -41.7L5.5 -149.3M112.6 98.2L66.2 50.9L56.9 4.6L48.1 -41.7L5.8 -149.3M112.2 98.6L66.2 50.9L56.9 4.6L48.1 -41.7L6.1 -149.3M111.9 99.0L66.1 50.9L56.8 4.6L48.0 -41.7L6.5 -149.3M111.5 99.4L66.1 50.9L56.7 4.6L48.0 -41.6L6.8 -149.2M111.2 99.8L66.1 50.9L56.7 4.6L47.9 -41.6L7.1 -149.2M110.9 100.2L66.0 50.9L56.6 4.6L47.8 -41.6L7.4 -149.2M110.5 100.5L66.0 50.9L56.5 4.6L47.8 -41.6L7.8 -149.2M110.1 100.9L66.0 51.0L56.5 4.7L47.7 -41.6L8.1 -149.2M109.8 101.3L66.0 51.0L56.4 4.7L47.7 -41.6L8.4 -149.2M109.4 101.7L65.9 51.0L56.3 4.7L47.6 -41.6L8.7 -149.1M109.1 102.1L65.9 51.0L56.3 4.7L47.6 -41.5L9.1 -149.1M108.7 102.5L65.9 51.0L56.2 4.7L47.5 -41.5L9.4 -149.1M108.4 102.8L65.8 51.0L56.1 4.7L47.4 -41.5L9.7 -149.1M108.0 103.2L65.8 51.0L56.1 4.7L47.4 -41.5L10.0 -149.1M107.7 103.6L65.8 51.0L56.0 4.7L47.3 -41.5L10.4 -149.0M107.3 104.0L65.8 51.1L55.9 4.8L47.3 -41.5L10.7 -149.0M106.9 104.3L65.7 51.1L55.9 4.8L47.2 -41.5L11.0 -149.0M106.6 104.7L65.7 51.1L55.8 4.8L47.2 -41.5L11.3 -149.0M106.2 105.1L65.7 51.1L55.7 4.8L47.1 -41.4L11.6 -148.9M105.8 105.5L65.6 51.1L55.7 4.8L47.0 -41.4L12.0 -148.9M105.5 105.8L65.6 51.1L55.6 4.8L47.0 -41.4L12.3 -148.9M105.1 106.2L65.6 51.1L55.5 4.8L46.9 -41.4L12.6 -148.9M104.7 106.6L65.5 51.1L55.5 4.9L46.9 -41.4L12.9 -148.8M104.3 106.9L65.5 51.2L55.4 4.9L46.8 -41.4L13.3 -148.8M104.0 107.3L65.5 51.2L55.3 4.9L46.8 -41.4L13.6 -148.8M103.6 107.7L65.5 51.2L55.3 4.9L46.7 -41.3L13.9 -148.8M103.2 108.0L65.4 51.2L55.2 4.9L46.6 -41.3L14.2 -148.7M102.8 108.4L65.4 51.2L55.1 4.9L46.6 -41.3L14.6 -148.7M102.5 108.7L65.4 51.2L55.1 4.9L46.5 -41.3L14.9 -148.7M102.1 109.1L65.3 51.2L55.0 5.0L46.5 -41.3L15.2 -148.6M101.7 109.4L65.3 51.2L54.9 5.0L46.4 -41.3L15.5 -148.6M101.3 109.8L65.3 51.2L54.9 5.0L46.3 -41.3L15.9 -148.6M100.9 110.1L65.3 51.3L54.8 5.0L46.3 -41.3L16.2 -148.5M100.5 110.5L65.2 51.3L54.7 5.0L46.2 -41.2L16.5 -148.5M100.2 110.9L65.2 51.3L54.7 5.0L46.2 -41.2L16.8 -148.4M99.8 111.2L65.2 51.3L54.6 5.0L46.1 -41.2L17.1 -148.4M99.4 111.5L65.1 51.3L54.5 5.1L46.1 -41.2L17.5 -148.4M99.0 111.9L65.1 51.3L54.5 5.1L46.0 -41.2L17.8 -148.3M98.6 112.2L65.1 51.3L54.4 5.1L45.9 -41.2L18.1 -148.3M98.2 112.6L65.0 51.3L54.3 5.1L45.9 -41.2L18.4 -148.3M97.8 112.9L65.0 51.4L54.3 5.1L45.8 -41.1L18.8 -148.2M97.4 113.3L65.0 51.4L54.2 5.1L45.8 -41.1L19.1 -148.2M97.0 113.6L65.0 51.4L54.1 5.1L45.7 -41.1L19.4 -148.1M96.6 113.9L64.9 51.4L54.1 5.1L45.7 -41.1L19.7 -148.1M96.2 114.3L64.9 51.4L54.0 5.2L45.6 -41.1L20.0 -148.0M95.8 114.6L64.9 51.4L53.9 5.2L45.5 -41.1L20.4 -148.0M95.4 114.9L64.8 51.4L53.9 5.2L45.5 -41.1L20.7 -148.0M95.0 115.3L64.8 51.4L53.8 5.2L45.4 -41.0L21.0 -147.9M94.6 115.6L64.8 51.5L53.7 5.2L45.4 -41.0L21.3 -147.9M94.2 115.9L64.8 51.5L53.7 5.2L45.3 -41.0L21.7 -147.8M93.8 116.3L64.7 51.5L53.6 5.2L45.3 -41.0L22.0 -147.8M93.4 116.6L64.7 51.5L53.5 5.3L45.2 -41.0L22.3 -147.7M93.0 116.9L64.7 51.5L53.5 5.3L45.1 -41.0L22.6 -147.7M92.6 117.2L64.6 51.5L53.4 5.3L45.1 -41.0L22.9 -147.6M92.2 117.6L64.6 51.5L53.3 5.3L45.0 -41.0L23.3 -147.6M91.8 117.9L64.6 51.5L53.3 5.3L45.0 -40.9L23.6 -147.5M91.4 118.2L64.5 51.5L53.2 5.3L44.9 -40.9L23.9 -147.5M90.9 118.5L64.5 51.6L53.1 5.3L44.9 -40.9L24.2 -147.4M90.5 118.8L64.5 51.6L53.1 5.4L44.8 -40.9L24.5 -147.4M90.1 119.2L64.5 51.6L53.0 5.4L44.7 -40.9L24.9 -147.3M89.7 119.5L64.4 51.6L52.9 5.4L44.7 -40.9L25.2 -147.3M89.3 119.8L64.4 51.6L52.9 5.4L44.6 -40.9L25.5 -147.2M88.9 120.1L64.4 51.6L52.8 5.4L44.6 -40.8L25.8 -147.2M88.4 120.4L64.3 51.6L52.7 5.4L44.5 -40.8L26.1 -147.1M88.0 120.7L64.3 51.6L52.7 5.4L44.4 -40.8L26.5 -147.0M87.6 121.0L64.3 51.7L52.6 5.5L44.4 -40.8L26.8 -147.0M87.2 121.3L64.2 51.7L52.5 5.5L44.3 -40.8L27.1 -146.9M86.8 121.6L64.2 51.7L52.5 5.5L44.3 -40.8L27.4 -146.9M86.3 121.9L64.2 51.7L52.4 5.5L44.2 -40.8L27.7 -146.8M85.9 122.2L64.2 51.7L52.3 5.5L44.2 -40.8L28.1 -146.7M85.5 122.5L64.1 51.7L52.3 5.5L44.1 -40.7L28.4 -146.7M85.1 122.8L64.1 51.7L52.2 5.5L44.0 -40.7L28.7 -146.6M84.6 123.1L64.1 51.7L52.1 5.5L44.0 -40.7L29.0 -146.6M84.2 123.4L64.0 51.8L52.1 5.6L43.9 -40.7L29.3 -146.5M83.8 123.7L64.0 51.8L52.0 5.6L43.9 -40.7L29.6 -146.4M83.3 124.0L64.0 51.8L51.9 5.6L43.8 -40.7L30.0 -146.4M82.9 124.3L64.0 51.8L51.9 5.6L43.8 -40.7L30.3 -146.3M82.5 124.6L63.9 51.8L51.8 5.6L43.7 -40.6L30.6 -146.2M82.0 124.9L63.9 51.8L51.7 5.6L43.6 -40.6L30.9 -146.2M81.6 125.2L63.9 51.8L51.7 5.6L43.6 -40.6L31.2 -146.1M81.2 125.4L63.8 51.8L51.6 5.7L43.5 -40.6L31.6 -146.0M80.7 125.7L63.8 51.8L51.5 5.7L43.5 -40.6L31.9 -146.0M80.3 126.0L63.8 51.9L51.5 5.7L43.4 -40.6L32.2 -145.9M79.8 126.3L63.7 51.9L51.4 5.7L43.4 -40.6L32.5 -145.8M79.4 126.6L63.7 51.9L51.3 5.7L43.3 -40.6L32.8 -145.7M78.9 126.8L63.7 51.9L51.3 5.7L43.2 -40.5L33.1 -145.7M78.5 127.1L63.7 51.9L51.2 5.7L43.2 -40.5L33.5 -145.6M78.1 127.4L63.6 51.9L51.1 5.8L43.1 -40.5L33.8 -145.5M77.6 127.7L63.6 51.9L51.1 5.8L43.1 -40.5L34.1 -145.5M77.2 127.9L63.6 51.9L51.0 5.8L43.0 -40.5L34.4 -145.4M76.7 128.2L63.5 52.0L50.9 5.8L43.0 -40.5L34.7 -145.3M76.3 128.5L63.5 52.0L50.9 5.8L42.9 -40.5L35.0 -145.2M75.8 128.7L63.5 52.0L50.8 5.8L42.8 -40.4L35.4 -145.2M75.4 129.0L63.5 52.0L50.7 5.8L42.8 -40.4L35.7 -145.1M74.9 129.3L63.4 52.0L50.7 5.9L42.7 -40.4L36.0 -145.0M-39.7 144.0C-40.2 135.1 -47.3 112.1 -42.3 99.4C-37.3 86.7 -25.6 84.3 -14.5 80.6C-3.4 76.8 1.8 77.3 13.2 80.7C24.6 84.2 30.2 88.0 42.5 97.7C54.8 107.4 68.2 123.1 74.6 129.4M-40.2 143.9C-40.6 135.0 -47.5 112.0 -42.4 99.3C-37.3 86.6 -25.6 84.3 -14.5 80.5C-3.4 76.8 1.8 77.3 13.2 80.8C24.6 84.2 30.2 88.0 42.4 97.8C54.7 107.5 68.0 123.2 74.4 129.6M-40.6 143.8C-41.0 134.8 -47.8 111.8 -42.5 99.2C-37.3 86.5 -25.7 84.2 -14.5 80.5C-3.4 76.9 1.9 77.3 13.2 80.8C24.6 84.3 30.1 88.1 42.3 97.8C54.5 107.6 67.8 123.3 74.2 129.7M-41.1 143.6C-41.4 134.7 -48.0 111.7 -42.6 99.0C-37.3 86.4 -25.7 84.2 -14.5 80.5C-3.3 76.9 1.9 77.3 13.2 80.8C24.6 84.3 30.1 88.1 42.2 97.9C54.4 107.7 67.6 123.4 74.0 129.8M-41.6 143.5C-41.8 134.6 -48.2 111.5 -42.8 98.9C-37.3 86.3 -25.7 84.1 -14.5 80.5C-3.3 76.9 1.9 77.3 13.2 80.8C24.5 84.3 30.1 88.2 42.2 98.0C54.3 107.8 67.4 123.5 73.7 129.9M-42.1 143.3C-42.3 134.4 -48.4 111.4 -42.9 98.8C-37.4 86.2 -25.7 84.0 -14.5 80.5C-3.3 76.9 1.9 77.3 13.2 80.9C24.5 84.4 30.0 88.2 42.1 98.1C54.1 107.9 67.2 123.7 73.5 130.1M-42.6 143.2C-42.7 134.3 -48.6 111.2 -43.0 98.7C-37.4 86.1 -25.8 84.0 -14.5 80.4C-3.3 76.9 1.9 77.3 13.2 80.9C24.5 84.4 30.0 88.3 42.0 98.2C54.0 108.0 67.0 123.8 73.3 130.2M-43.1 143.1C-43.1 134.2 -48.8 111.1 -43.1 98.5C-37.4 86.0 -25.8 83.9 -14.5 80.4C-3.3 76.9 1.9 77.3 13.2 80.9C24.5 84.5 29.9 88.3 41.9 98.2C53.9 108.1 66.9 123.9 73.1 130.3M-43.6 142.9C-43.5 134.0 -49.0 110.9 -43.2 98.4C-37.4 85.9 -25.8 83.9 -14.5 80.4C-3.3 76.9 1.9 77.3 13.2 80.9C24.4 84.5 29.9 88.4 41.8 98.3C53.8 108.2 66.7 124.0 72.9 130.4M-44.1 142.8C-43.9 133.9 -49.3 110.8 -43.4 98.3C-37.5 85.8 -25.8 83.8 -14.5 80.4C-3.2 76.9 1.9 77.3 13.2 80.9C24.4 84.5 29.8 88.5 41.7 98.4C53.6 108.3 66.5 124.1 72.7 130.5M-44.5 142.6C-44.3 133.7 -49.5 110.6 -43.5 98.2C-37.5 85.7 -25.9 83.8 -14.5 80.3C-3.2 76.9 1.9 77.3 13.1 81.0C24.4 84.6 29.8 88.5 41.6 98.5C53.5 108.4 66.3 124.2 72.4 130.7M-45.0 142.5C-44.7 133.6 -49.7 110.5 -43.6 98.0C-37.5 85.6 -25.9 83.7 -14.5 80.3C-3.2 76.9 1.9 77.3 13.1 81.0C24.4 84.6 29.7 88.6 41.6 98.5C53.4 108.5 66.1 124.3 72.2 130.8M-45.5 142.3C-45.1 133.4 -49.9 110.3 -43.7 97.9C-37.5 85.5 -25.9 83.7 -14.5 80.3C-3.2 76.9 1.9 77.3 13.1 81.0C24.3 84.7 29.7 88.6 41.5 98.6C53.2 108.6 65.9 124.4 72.0 130.9M-46.0 142.1C-45.6 133.3 -50.1 110.2 -43.8 97.8C-37.6 85.4 -25.9 83.6 -14.6 80.3C-3.2 76.9 1.9 77.3 13.1 81.0C24.3 84.7 29.6 88.7 41.4 98.7C53.1 108.7 65.7 124.6 71.8 131.0M-46.5 142.0C-46.0 133.1 -50.3 110.0 -44.0 97.7C-37.6 85.3 -26.0 83.6 -14.6 80.3C-3.1 76.9 1.9 77.3 13.1 81.0C24.3 84.7 29.6 88.7 41.3 98.8C53.0 108.8 65.5 124.7 71.6 131.1M-47.0 141.8C-46.4 133.0 -50.6 109.9 -44.1 97.5C-37.6 85.2 -26.0 83.5 -14.6 80.2C-3.1 76.9 1.9 77.3 13.1 81.1C24.3 84.8 29.6 88.8 41.2 98.8C52.9 108.9 65.3 124.8 71.4 131.3M-47.4 141.7C-46.8 132.8 -50.8 109.7 -44.2 97.4C-37.6 85.1 -26.0 83.5 -14.6 80.2C-3.1 76.9 2.0 77.3 13.1 81.1C24.2 84.8 29.5 88.9 41.1 98.9C52.7 109.0 65.1 124.9 71.1 131.4M-47.9 141.5C-47.2 132.7 -51.0 109.6 -44.3 97.3C-37.6 85.0 -26.0 83.4 -14.6 80.2C-3.1 76.9 2.0 77.3 13.1 81.1C24.2 84.9 29.5 88.9 41.0 99.0C52.6 109.1 65.0 125.0 70.9 131.5M-48.4 141.3C-47.6 132.5 -51.2 109.4 -44.4 97.2C-37.7 84.9 -26.1 83.4 -14.6 80.2C-3.1 77.0 2.0 77.3 13.1 81.1C24.2 84.9 29.4 89.0 40.9 99.1C52.5 109.2 64.8 125.1 70.7 131.6M-48.9 141.2C-48.0 132.4 -51.4 109.3 -44.6 97.0C-37.7 84.8 -26.1 83.3 -14.6 80.1C-3.0 77.0 2.0 77.3 13.1 81.1C24.1 84.9 29.4 89.0 40.9 99.1C52.3 109.3 64.6 125.2 70.5 131.7M-49.4 141.0C-48.4 132.2 -51.6 109.1 -44.7 96.9C-37.7 84.7 -26.1 83.3 -14.6 80.1C-3.0 77.0 2.0 77.3 13.1 81.2C24.1 85.0 29.3 89.1 40.8 99.2C52.2 109.4 64.4 125.3 70.3 131.8M-49.8 140.8C-48.8 132.0 -51.8 108.9 -44.8 96.8C-37.7 84.6 -26.1 83.2 -14.6 80.1C-3.0 77.0 2.0 77.3 13.0 81.2C24.1 85.0 29.3 89.1 40.7 99.3C52.1 109.4 64.2 125.4 70.1 132.0M-50.3 140.7C-49.2 131.9 -52.1 108.8 -44.9 96.7C-37.8 84.5 -26.2 83.2 -14.6 80.1C-3.0 77.0 2.0 77.3 13.0 81.2C24.1 85.1 29.2 89.2 40.6 99.4C52.0 109.5 64.0 125.5 69.8 132.1M-50.8 140.5C-49.6 131.7 -52.3 108.6 -45.0 96.5C-37.8 84.5 -26.2 83.1 -14.6 80.0C-3.0 77.0 2.0 77.3 13.0 81.2C24.0 85.1 29.2 89.3 40.5 99.4C51.8 109.6 63.8 125.6 69.6 132.2M-51.3 140.3C-50.0 131.5 -52.5 108.5 -45.2 96.4C-37.8 84.4 -26.2 83.1 -14.6 80.0C-3.0 77.0 2.0 77.4 13.0 81.2C24.0 85.1 29.1 89.3 40.4 99.5C51.7 109.7 63.6 125.7 69.4 132.3M-51.7 140.2C-50.4 131.4 -52.7 108.3 -45.3 96.3C-37.8 84.3 -26.2 83.0 -14.6 80.0C-2.9 77.0 2.0 77.4 13.0 81.3C24.0 85.2 29.1 89.4 40.3 99.6C51.6 109.8 63.4 125.9 69.2 132.4M-52.2 140.0C-50.9 131.2 -52.9 108.2 -45.4 96.2C-37.9 84.2 -26.3 83.0 -14.6 80.0C-2.9 77.0 2.0 77.4 13.0 81.3C24.0 85.2 29.1 89.4 40.3 99.7C51.4 109.9 63.2 126.0 69.0 132.5M-52.7 139.8C-51.3 131.0 -53.1 108.0 -45.5 96.0C-37.9 84.1 -26.3 82.9 -14.6 80.0C-2.9 77.0 2.0 77.4 13.0 81.3C23.9 85.3 29.0 89.5 40.2 99.7C51.3 110.0 63.0 126.1 68.7 132.6M-53.2 139.6C-51.7 130.9 -53.3 107.9 -45.6 95.9C-37.9 84.0 -26.3 82.8 -14.6 79.9C-2.9 77.0 2.0 77.4 13.0 81.3C23.9 85.3 29.0 89.5 40.1 99.8C51.2 110.1 62.8 126.2 68.5 132.8M-53.6 139.4C-52.1 130.7 -53.6 107.7 -45.8 95.8C-37.9 83.9 -26.3 82.8 -14.6 79.9C-2.9 77.0 2.0 77.4 13.0 81.4C23.9 85.4 28.9 89.6 40.0 99.9C51.1 110.2 62.6 126.3 68.3 132.9M-54.1 139.3C-52.5 130.5 -53.8 107.5 -45.9 95.7C-38.0 83.8 -26.4 82.7 -14.6 79.9C-2.8 77.0 2.1 77.4 13.0 81.4C23.9 85.4 28.9 89.7 39.9 100.0C50.9 110.3 62.5 126.4 68.1 133.0M-54.6 139.1C-52.9 130.4 -54.0 107.4 -46.0 95.5C-38.0 83.7 -26.4 82.7 -14.6 79.9C-2.8 77.0 2.1 77.4 12.9 81.4C23.8 85.4 28.8 89.7 39.8 100.1C50.8 110.4 62.3 126.5 67.9 133.1M-55.1 138.9C-53.3 130.2 -54.2 107.2 -46.1 95.4C-38.0 83.6 -26.4 82.6 -14.6 79.8C-2.8 77.0 2.1 77.4 12.9 81.4C23.8 85.5 28.8 89.8 39.7 100.1C50.7 110.5 62.1 126.6 67.7 133.2M-55.5 138.7C-53.7 130.0 -54.4 107.1 -46.2 95.3C-38.0 83.5 -26.4 82.6 -14.6 79.8C-2.8 77.0 2.1 77.4 12.9 81.4C23.8 85.5 28.7 89.8 39.6 100.2C50.5 110.6 61.9 126.7 67.4 133.3M-56.0 138.5C-54.1 129.8 -54.6 106.9 -46.4 95.2C-38.1 83.4 -26.5 82.5 -14.6 79.8C-2.8 77.1 2.1 77.4 12.9 81.5C23.8 85.6 28.7 89.9 39.6 100.3C50.4 110.7 61.7 126.8 67.2 133.4M-56.5 138.3C-54.5 129.7 -54.8 106.7 -46.5 95.0C-38.1 83.3 -26.5 82.5 -14.6 79.8C-2.7 77.1 2.1 77.4 12.9 81.5C23.7 85.6 28.7 89.9 39.5 100.4C50.3 110.8 61.5 126.9 67.0 133.5M-56.9 138.1C-54.9 129.5 -55.1 106.6 -46.6 94.9C-38.1 83.2 -26.5 82.4 -14.6 79.8C-2.7 77.1 2.1 77.4 12.9 81.5C23.7 85.6 28.6 90.0 39.4 100.4C50.2 110.9 61.3 127.0 66.8 133.6M-57.4 137.9C-55.3 129.3 -55.3 106.4 -46.7 94.8C-38.2 83.1 -26.6 82.4 -14.6 79.7C-2.7 77.1 2.1 77.4 12.9 81.5C23.7 85.7 28.6 90.1 39.3 100.5C50.0 111.0 61.1 127.1 66.5 133.8M-57.9 137.7C-55.7 129.1 -55.5 106.3 -46.8 94.7C-38.2 83.1 -26.6 82.3 -14.6 79.7C-2.7 77.1 2.1 77.4 12.9 81.5C23.7 85.7 28.5 90.1 39.2 100.6C49.9 111.1 60.9 127.2 66.3 133.9M-58.3 137.5C-56.1 128.9 -55.7 106.1 -46.9 94.5C-38.2 83.0 -26.6 82.3 -14.6 79.7C-2.7 77.1 2.1 77.4 12.9 81.6C23.6 85.8 28.5 90.2 39.1 100.7C49.8 111.1 60.7 127.3 66.1 134.0M-58.8 137.3C-56.5 128.8 -55.9 106.0 -47.1 94.4C-38.2 82.9 -26.6 82.2 -14.6 79.7C-2.7 77.1 2.1 77.4 12.9 81.6C23.6 85.8 28.4 90.2 39.0 100.7C49.6 111.2 60.5 127.4 65.9 134.1M-59.3 137.1C-56.9 128.6 -56.1 105.8 -47.2 94.3C-38.3 82.8 -26.7 82.2 -14.6 79.6C-2.6 77.1 2.1 77.4 12.9 81.6C23.6 85.8 28.4 90.3 39.0 100.8C49.5 111.3 60.3 127.5 65.7 134.2M-59.7 136.9C-57.3 128.4 -56.3 105.6 -47.3 94.2C-38.3 82.7 -26.7 82.1 -14.6 79.6C-2.6 77.1 2.1 77.4 12.8 81.6C23.5 85.9 28.3 90.4 38.9 100.9C49.4 111.4 60.1 127.6 65.4 134.3M-60.2 136.7C-57.7 128.2 -56.5 105.5 -47.4 94.0C-38.3 82.6 -26.7 82.1 -14.7 79.6C-2.6 77.1 2.1 77.4 12.8 81.6C23.5 85.9 28.3 90.4 38.8 101.0C49.3 111.5 59.9 127.7 65.2 134.4M-60.7 136.5C-58.0 128.0 -56.8 105.3 -47.5 93.9C-38.3 82.5 -26.7 82.0 -14.7 79.6C-2.6 77.1 2.2 77.4 12.8 81.7C23.5 86.0 28.3 90.5 38.7 101.0C49.1 111.6 59.7 127.8 65.0 134.5M-61.1 136.3C-58.4 127.8 -57.0 105.1 -47.7 93.8C-38.4 82.4 -26.8 82.0 -14.7 79.5C-2.6 77.1 2.2 77.4 12.8 81.7C23.5 86.0 28.2 90.5 38.6 101.1C49.0 111.7 59.5 127.9 64.8 134.6M-61.6 136.1C-58.8 127.6 -57.2 105.0 -47.8 93.7C-38.4 82.3 -26.8 81.9 -14.7 79.5C-2.5 77.1 2.2 77.4 12.8 81.7C23.4 86.0 28.2 90.6 38.5 101.2C48.9 111.8 59.3 128.0 64.6 134.7M-62.1 135.9C-59.2 127.4 -57.4 104.8 -47.9 93.5C-38.4 82.3 -26.8 81.9 -14.7 79.5C-2.5 77.1 2.2 77.4 12.8 81.7C23.4 86.1 28.1 90.6 38.4 101.3C48.7 111.9 59.2 128.1 64.3 134.8M-62.5 135.7C-59.6 127.2 -57.6 104.7 -48.0 93.4C-38.5 82.2 -26.8 81.8 -14.7 79.5C-2.5 77.1 2.2 77.4 12.8 81.8C23.4 86.1 28.1 90.7 38.3 101.3C48.6 112.0 59.0 128.2 64.1 134.9M-63.0 135.5C-60.0 127.0 -57.8 104.5 -48.1 93.3C-38.5 82.1 -26.9 81.8 -14.7 79.5C-2.5 77.2 2.2 77.4 12.8 81.8C23.4 86.2 28.0 90.8 38.3 101.4C48.5 112.1 58.8 128.3 63.9 135.1M-63.4 135.3C-60.4 126.8 -58.0 104.3 -48.3 93.2C-38.5 82.0 -26.9 81.7 -14.7 79.4C-2.5 77.2 2.2 77.4 12.8 81.8C23.3 86.2 28.0 90.8 38.2 101.5C48.3 112.2 58.6 128.4 63.7 135.2M-63.9 135.0C-60.8 126.6 -58.2 104.2 -48.4 93.0C-38.5 81.9 -26.9 81.7 -14.7 79.4C-2.4 77.2 2.2 77.4 12.8 81.8C23.3 86.2 27.9 90.9 38.1 101.6C48.2 112.3 58.4 128.5 63.4 135.3M-64.4 134.8C-61.2 126.4 -58.4 104.0 -48.5 92.9C-38.6 81.8 -26.9 81.6 -14.7 79.4C-2.4 77.2 2.2 77.4 12.7 81.8C23.3 86.3 27.9 90.9 38.0 101.6C48.1 112.4 58.2 128.6 63.2 135.4M-64.8 134.6C-61.6 126.2 -58.7 103.8 -48.6 92.8C-38.6 81.7 -27.0 81.5 -14.7 79.4C-2.4 77.2 2.2 77.4 12.7 81.9C23.3 86.3 27.9 91.0 37.9 101.7C48.0 112.4 58.0 128.7 63.0 135.5M-65.3 134.4C-62.0 126.0 -58.9 103.7 -48.7 92.7C-38.6 81.7 -27.0 81.5 -14.7 79.3C-2.4 77.2 2.2 77.4 12.7 81.9C23.2 86.4 27.8 91.1 37.8 101.8C47.8 112.5 57.8 128.8 62.8 135.6M-65.7 134.2C-62.4 125.8 -59.1 103.5 -48.9 92.5C-38.7 81.6 -27.0 81.4 -14.7 79.3C-2.4 77.2 2.2 77.4 12.7 81.9C23.2 86.4 27.8 91.1 37.7 101.9C47.7 112.6 57.6 128.9 62.5 135.7M-66.2 133.9C-62.7 125.6 -59.3 103.3 -49.0 92.4C-38.7 81.5 -27.0 81.4 -14.7 79.3C-2.4 77.2 2.2 77.4 12.7 81.9C23.2 86.5 27.7 91.2 37.6 102.0C47.6 112.7 57.4 129.0 62.3 135.8M-66.6 133.7C-63.1 125.4 -59.5 103.2 -49.1 92.3C-38.7 81.4 -27.1 81.3 -14.7 79.3C-2.3 77.2 2.2 77.4 12.7 81.9C23.2 86.5 27.7 91.2 37.6 102.0C47.4 112.8 57.2 129.1 62.1 135.9M-67.1 133.5C-63.5 125.2 -59.7 103.0 -49.2 92.2C-38.7 81.3 -27.1 81.3 -14.7 79.2C-2.3 77.2 2.3 77.4 12.7 82.0C23.1 86.5 27.6 91.3 37.5 102.1C47.3 112.9 57.0 129.2 61.9 136.0M-67.5 133.3C-63.9 125.0 -59.9 102.8 -49.3 92.0C-38.8 81.2 -27.1 81.2 -14.7 79.2C-2.3 77.2 2.3 77.4 12.7 82.0C23.1 86.6 27.6 91.4 37.4 102.2C47.2 113.0 56.8 129.3 61.6 136.1M-68.0 133.0C-64.3 124.8 -60.1 102.7 -49.5 91.9C-38.8 81.1 -27.1 81.2 -14.7 79.2C-2.3 77.2 2.3 77.4 12.7 82.0C23.1 86.6 27.6 91.4 37.3 102.3C47.1 113.1 56.6 129.4 61.4 136.2M-68.5 132.8C-64.7 124.6 -60.3 102.5 -49.6 91.8C-38.8 81.1 -27.2 81.1 -14.7 79.2C-2.3 77.2 2.3 77.4 12.7 82.0C23.0 86.7 27.5 91.5 37.2 102.3C46.9 113.2 56.4 129.5 61.2 136.3M-68.9 132.6C-65.1 124.4 -60.5 102.3 -49.7 91.7C-38.9 81.0 -27.2 81.1 -14.7 79.2C-2.2 77.2 2.3 77.4 12.7 82.0C23.0 86.7 27.5 91.5 37.1 102.4C46.8 113.3 56.2 129.6 61.0 136.4M-69.4 132.3C-65.4 124.2 -60.7 102.2 -49.8 91.5C-38.9 80.9 -27.2 81.0 -14.7 79.1C-2.2 77.2 2.3 77.4 12.6 82.1C23.0 86.7 27.4 91.6 37.0 102.5C46.7 113.4 56.0 129.7 60.7 136.5M-69.8 132.1C-65.8 124.0 -61.0 102.0 -49.9 91.4C-38.9 80.8 -27.2 81.0 -14.7 79.1C-2.2 77.2 2.3 77.4 12.6 82.1C23.0 86.8 27.4 91.7 37.0 102.6C46.5 113.5 55.8 129.8 60.5 136.6M-70.2 131.9C-66.2 123.7 -61.2 101.8 -50.1 91.3C-39.0 80.7 -27.3 80.9 -14.7 79.1C-2.2 77.3 2.3 77.4 12.6 82.1C22.9 86.8 27.3 91.7 36.9 102.6C46.4 113.6 55.6 129.9 60.3 136.7M-70.7 131.6C-66.6 123.5 -61.4 101.7 -50.2 91.2C-39.0 80.7 -27.3 80.9 -14.7 79.1C-2.2 77.3 2.3 77.4 12.6 82.1C22.9 86.9 27.3 91.8 36.8 102.7C46.3 113.6 55.4 130.0 60.1 136.8M-71.1 131.4C-67.0 123.3 -61.6 101.5 -50.3 91.0C-39.0 80.6 -27.3 80.8 -14.7 79.0C-2.2 77.3 2.3 77.4 12.6 82.2C22.9 86.9 27.2 91.8 36.7 102.8C46.1 113.7 55.2 130.1 59.8 136.9M-71.6 131.1C-67.4 123.1 -61.8 101.3 -50.4 90.9C-39.0 80.5 -27.3 80.8 -14.7 79.0C-2.1 77.3 2.3 77.4 12.6 82.2C22.9 86.9 27.2 91.9 36.6 102.9C46.0 113.8 55.0 130.2 59.6 137.0M-72.0 130.9C-67.7 122.9 -62.0 101.2 -50.5 90.8C-39.1 80.4 -27.4 80.7 -14.7 79.0C-2.1 77.3 2.3 77.4 12.6 82.2C22.8 87.0 27.2 92.0 36.5 102.9C45.9 113.9 54.8 130.3 59.4 137.1M-72.5 130.6C-68.1 122.6 -62.2 101.0 -50.7 90.7C-39.1 80.3 -27.4 80.7 -14.7 79.0C-2.1 77.3 2.3 77.4 12.6 82.2C22.8 87.0 27.1 92.0 36.4 103.0C45.8 114.0 54.6 130.4 59.2 137.2M-72.9 130.4C-68.5 122.4 -62.4 100.8 -50.8 90.5C-39.1 80.2 -27.4 80.6 -14.7 79.0C-2.1 77.3 2.3 77.4 12.6 82.2C22.8 87.1 27.1 92.1 36.3 103.1C45.6 114.1 54.4 130.4 58.9 137.3M-73.4 130.1C-68.9 122.2 -62.6 100.7 -50.9 90.4C-39.2 80.2 -27.4 80.6 -14.7 78.9C-2.1 77.3 2.4 77.4 12.6 82.3C22.8 87.1 27.0 92.1 36.3 103.2C45.5 114.2 54.2 130.5 58.7 137.4M-73.8 129.9C-69.2 122.0 -62.8 100.5 -51.0 90.3C-39.2 80.1 -27.5 80.5 -14.8 78.9C-2.0 77.3 2.4 77.4 12.5 82.3C22.7 87.1 27.0 92.2 36.2 103.2C45.4 114.3 54.0 130.6 58.5 137.5M-74.2 129.6C-69.6 121.7 -63.0 100.3 -51.1 90.2C-39.2 80.0 -27.5 80.5 -14.8 78.9C-2.0 77.3 2.4 77.4 12.5 82.3C22.7 87.2 26.9 92.3 36.1 103.3C45.2 114.4 53.8 130.7 58.3 137.6M-74.7 129.4C-70.0 121.5 -63.2 100.1 -51.3 90.0C-39.3 79.9 -27.5 80.4 -14.8 78.9C-2.0 77.3 2.4 77.4 12.5 82.3C22.7 87.2 26.9 92.3 36.0 103.4C45.1 114.5 53.6 130.8 58.0 137.7M-75.1 129.1C-70.4 121.3 -63.4 100.0 -51.4 89.9C-39.3 79.9 -27.5 80.4 -14.8 78.8C-2.0 77.3 2.4 77.4 12.5 82.3C22.7 87.3 26.9 92.4 35.9 103.5C45.0 114.6 53.4 130.9 57.8 137.8M-75.6 128.9C-70.7 121.1 -63.7 99.8 -51.5 89.8C-39.3 79.8 -27.6 80.3 -14.8 78.8C-2.0 77.3 2.4 77.4 12.5 82.4C22.6 87.3 26.8 92.5 35.8 103.6C44.8 114.6 53.2 131.0 57.6 137.9M-76.0 128.6C-71.1 120.8 -63.9 99.6 -51.6 89.7C-39.4 79.7 -27.6 80.2 -14.8 78.8C-1.9 77.3 2.4 77.4 12.5 82.4C22.6 87.4 26.8 92.5 35.7 103.6C44.7 114.7 53.0 131.1 57.3 138.0M-76.4 128.4C-71.5 120.6 -64.1 99.5 -51.7 89.5C-39.4 79.6 -27.6 80.2 -14.8 78.8C-1.9 77.3 2.4 77.4 12.5 82.4C22.6 87.4 26.7 92.6 35.7 103.7C44.6 114.8 52.8 131.2 57.1 138.0M-76.9 128.1C-71.9 120.4 -64.3 99.3 -51.9 89.4C-39.4 79.5 -27.6 80.1 -14.8 78.7C-1.9 77.3 2.4 77.4 12.5 82.4C22.5 87.4 26.7 92.6 35.6 103.8C44.4 114.9 52.6 131.3 56.9 138.1M-77.3 127.8C-72.2 120.1 -64.5 99.1 -52.0 89.3C-39.5 79.5 -27.7 80.1 -14.8 78.7C-1.9 77.4 2.4 77.4 12.5 82.4C22.5 87.5 26.6 92.7 35.5 103.9C44.3 115.0 52.4 131.4 56.7 138.2M-77.7 127.6C-72.6 119.9 -64.7 98.9 -52.1 89.2C-39.5 79.4 -27.7 80.0 -14.8 78.7C-1.9 77.4 2.4 77.4 12.5 82.5C22.5 87.5 26.6 92.8 35.4 103.9C44.2 115.1 52.2 131.5 56.4 138.3M-78.2 127.3C-73.0 119.7 -64.9 98.8 -52.2 89.0C-39.5 79.3 -27.7 80.0 -14.8 78.7C-1.9 77.4 2.4 77.4 12.5 82.5C22.5 87.6 26.6 92.8 35.3 104.0C44.1 115.2 52.0 131.5 56.2 138.4M-78.6 127.0C-73.4 119.4 -65.1 98.6 -52.3 88.9C-39.6 79.2 -27.7 79.9 -14.8 78.7C-1.8 77.4 2.4 77.4 12.4 82.5C22.4 87.6 26.5 92.9 35.2 104.1C43.9 115.3 51.8 131.6 56.0 138.5M-79.0 126.8C-73.7 119.2 -65.3 98.4 -52.5 88.8C-39.6 79.2 -27.8 79.9 -14.8 78.6C-1.8 77.4 2.4 77.4 12.4 82.5C22.4 87.6 26.5 92.9 35.1 104.2C43.8 115.4 51.6 131.7 55.7 138.6M-79.5 126.5C-74.1 118.9 -65.5 98.2 -52.6 88.7C-39.6 79.1 -27.8 79.8 -14.8 78.6C-1.8 77.4 2.5 77.4 12.4 82.6C22.4 87.7 26.4 93.0 35.0 104.2C43.7 115.5 51.4 131.8 55.5 138.7M-79.9 126.2C-74.5 118.7 -65.7 98.1 -52.7 88.5C-39.7 79.0 -27.8 79.8 -14.8 78.6C-1.8 77.4 2.5 77.4 12.4 82.6C22.4 87.7 26.4 93.1 35.0 104.3C43.5 115.6 51.2 131.9 55.3 138.8M-80.3 126.0C-74.8 118.5 -65.9 97.9 -52.8 88.4C-39.7 78.9 -27.8 79.7 -14.8 78.6C-1.8 77.4 2.5 77.4 12.4 82.6C22.3 87.8 26.3 93.1 34.9 104.4C43.4 115.6 51.0 132.0 55.1 138.9M-80.8 125.7C-75.2 118.2 -66.1 97.7 -52.9 88.3C-39.7 78.9 -27.9 79.7 -14.8 78.5C-1.7 77.4 2.5 77.4 12.4 82.6C22.3 87.8 26.3 93.2 34.8 104.5C43.3 115.7 50.8 132.1 54.8 139.0M-81.2 125.4C-75.6 118.0 -66.3 97.5 -53.1 88.2C-39.8 78.8 -27.9 79.6 -14.8 78.5C-1.7 77.4 2.5 77.4 12.4 82.6C22.3 87.8 26.3 93.3 34.7 104.5C43.1 115.8 50.6 132.2 54.6 139.1M-81.6 125.1C-75.9 117.7 -66.5 97.4 -53.2 88.0C-39.8 78.7 -27.9 79.6 -14.8 78.5C-1.7 77.4 2.5 77.4 12.4 82.7C22.3 87.9 26.2 93.3 34.6 104.6C43.0 115.9 50.4 132.2 54.4 139.2M-82.0 124.9C-76.3 117.5 -66.7 97.2 -53.3 87.9C-39.8 78.6 -27.9 79.5 -14.8 78.5C-1.7 77.4 2.5 77.4 12.4 82.7C22.2 87.9 26.2 93.4 34.5 104.7C42.9 116.0 50.2 132.3 54.1 139.2M-82.5 124.6C-76.6 117.2 -66.9 97.0 -53.4 87.8C-39.9 78.6 -28.0 79.5 -14.8 78.4C-1.7 77.4 2.5 77.4 12.4 82.7C22.2 88.0 26.1 93.4 34.4 104.8C42.8 116.1 50.0 132.4 53.9 139.3M-82.9 124.3C-77.0 117.0 -67.1 96.8 -53.5 87.7C-39.9 78.5 -28.0 79.4 -14.8 78.4C-1.6 77.4 2.5 77.4 12.3 82.7C22.2 88.0 26.1 93.5 34.4 104.8C42.6 116.2 49.8 132.5 53.7 139.4M-83.3 124.0C-77.4 116.7 -67.3 96.7 -53.6 87.5C-40.0 78.4 -28.0 79.4 -14.8 78.4C-1.6 77.4 2.5 77.4 12.3 82.7C22.2 88.0 26.0 93.6 34.3 104.9C42.5 116.3 49.6 132.6 53.5 139.5M-83.7 123.7C-77.7 116.5 -67.5 96.5 -53.8 87.4C-40.0 78.3 -28.0 79.3 -14.8 78.4C-1.6 77.5 2.5 77.4 12.3 82.8C22.1 88.1 26.0 93.6 34.2 105.0C42.4 116.4 49.4 132.7 53.2 139.6M-84.1 123.5C-78.1 116.2 -67.7 96.3 -53.9 87.3C-40.0 78.3 -28.1 79.3 -14.8 78.4C-1.6 77.5 2.5 77.4 12.3 82.8C22.1 88.1 26.0 93.7 34.1 105.1C42.2 116.5 49.2 132.8 53.0 139.7M-84.6 123.2C-78.4 116.0 -68.0 96.1 -54.0 87.2C-40.1 78.2 -28.1 79.2 -14.8 78.3C-1.6 77.5 2.5 77.4 12.3 82.8C22.1 88.2 25.9 93.8 34.0 105.1C42.1 116.5 49.0 132.8 52.8 139.8M-85.0 122.9C-78.8 115.7 -68.2 95.9 -54.1 87.0C-40.1 78.1 -28.1 79.2 -14.8 78.3C-1.6 77.5 2.5 77.4 12.3 82.8C22.0 88.2 25.9 93.8 33.9 105.2C42.0 116.6 48.8 132.9 52.5 139.9M-85.4 122.6C-79.2 115.5 -68.4 95.8 -54.2 86.9C-40.1 78.0 -28.2 79.1 -14.8 78.3C-1.5 77.5 2.6 77.4 12.3 82.8C22.0 88.2 25.8 93.9 33.8 105.3C41.8 116.7 48.6 133.0 52.3 139.9M-85.8 122.3C-79.5 115.2 -68.6 95.6 -54.4 86.8C-40.2 78.0 -28.2 79.1 -14.8 78.3C-1.5 77.5 2.6 77.4 12.3 82.9C22.0 88.3 25.8 93.9 33.7 105.4C41.7 116.8 48.4 133.1 52.1 140.0M-86.2 122.0C-79.9 114.9 -68.8 95.4 -54.5 86.7C-40.2 77.9 -28.2 79.0 -14.9 78.2C-1.5 77.5 2.6 77.4 12.3 82.9C22.0 88.3 25.7 94.0 33.7 105.5C41.6 116.9 48.2 133.2 51.8 140.1M-86.6 121.7C-80.2 114.7 -69.0 95.2 -54.6 86.5C-40.2 77.8 -28.2 78.9 -14.9 78.2C-1.5 77.5 2.6 77.4 12.3 82.9C21.9 88.4 25.7 94.1 33.6 105.5C41.4 117.0 48.0 133.3 51.6 140.2M-87.0 121.4C-80.6 114.4 -69.2 95.1 -54.7 86.4C-40.3 77.8 -28.3 78.9 -14.9 78.2C-1.5 77.5 2.6 77.4 12.3 82.9C21.9 88.4 25.7 94.1 33.5 105.6C41.3 117.1 47.8 133.4 51.4 140.3M-87.5 121.1C-80.9 114.2 -69.4 94.9 -54.8 86.3C-40.3 77.7 -28.3 78.8 -14.9 78.2C-1.4 77.5 2.6 77.4 12.2 83.0C21.9 88.5 25.6 94.2 33.4 105.7C41.2 117.2 47.6 133.4 51.1 140.4M-87.9 120.8C-81.3 113.9 -69.6 94.7 -55.0 86.2C-40.4 77.6 -28.3 78.8 -14.9 78.2C-1.4 77.5 2.6 77.5 12.2 83.0C21.9 88.5 25.6 94.3 33.3 105.8C41.0 117.3 47.4 133.5 50.9 140.5M-88.3 120.5C-81.6 113.6 -69.8 94.5 -55.1 86.0C-40.4 77.6 -28.3 78.7 -14.9 78.1C-1.4 77.5 2.6 77.5 12.2 83.0C21.8 88.5 25.5 94.3 33.2 105.8C40.9 117.3 47.2 133.6 50.7 140.5M-88.7 120.2C-82.0 113.4 -70.0 94.3 -55.2 85.9C-40.4 77.5 -28.4 78.7 -14.9 78.1C-1.4 77.5 2.6 77.5 12.2 83.0C21.8 88.6 25.5 94.4 33.1 105.9C40.8 117.4 47.0 133.7 50.4 140.6M-89.1 119.9C-82.3 113.1 -70.2 94.2 -55.3 85.8C-40.5 77.4 -28.4 78.6 -14.9 78.1C-1.4 77.5 2.6 77.5 12.2 83.0C21.8 88.6 25.4 94.4 33.0 106.0C40.7 117.5 46.8 133.8 50.2 140.7M-89.5 119.6C-82.7 112.8 -70.4 94.0 -55.4 85.7C-40.5 77.3 -28.4 78.6 -14.9 78.1C-1.4 77.5 2.6 77.5 12.2 83.1C21.8 88.7 25.4 94.5 33.0 106.1C40.5 117.6 46.6 133.8 50.0 140.8M-89.9 119.3C-83.0 112.6 -70.6 93.8 -55.6 85.5C-40.6 77.3 -28.4 78.5 -14.9 78.0C-1.3 77.5 2.6 77.5 12.2 83.1C21.7 88.7 25.4 94.6 32.9 106.1C40.4 117.7 46.4 133.9 49.7 140.9M-90.3 119.0C-83.4 112.3 -70.8 93.6 -55.7 85.4C-40.6 77.2 -28.5 78.5 -14.9 78.0C-1.3 77.6 2.6 77.5 12.2 83.1C21.7 88.7 25.3 94.6 32.8 106.2C40.3 117.8 46.2 134.0 49.5 141.0M-90.7 118.7C-83.7 112.0 -71.0 93.4 -55.8 85.3C-40.6 77.1 -28.5 78.4 -14.9 78.0C-1.3 77.6 2.6 77.5 12.2 83.1C21.7 88.8 25.3 94.7 32.7 106.3C40.1 117.9 46.0 134.1 49.3 141.0M-91.1 118.4C-84.1 111.7 -71.2 93.2 -55.9 85.2C-40.7 77.1 -28.5 78.4 -14.9 78.0C-1.3 77.6 2.7 77.5 12.2 83.1C21.7 88.8 25.2 94.8 32.6 106.4C40.0 118.0 45.8 134.2 49.1 141.1M-91.5 118.1C-84.4 111.5 -71.4 93.1 -56.0 85.0C-40.7 77.0 -28.5 78.3 -14.9 77.9C-1.3 77.6 2.7 77.5 12.1 83.2C21.6 88.9 25.2 94.8 32.5 106.4C39.9 118.0 45.6 134.2 48.8 141.2M-91.9 117.8C-84.8 111.2 -71.6 92.9 -56.2 84.9C-40.8 76.9 -28.6 78.3 -14.9 77.9C-1.2 77.6 2.7 77.5 12.1 83.2C21.6 88.9 25.2 94.9 32.4 106.5C39.7 118.1 45.4 134.3 48.6 141.3M-92.3 117.5C-85.1 110.9 -71.8 92.7 -56.3 84.8C-40.8 76.9 -28.6 78.2 -14.9 77.9C-1.2 77.6 2.7 77.5 12.1 83.2C21.6 88.9 25.1 95.0 32.4 106.6C39.6 118.2 45.2 134.4 48.4 141.4M-92.7 117.1C-85.5 110.6 -72.0 92.5 -56.4 84.7C-40.8 76.8 -28.6 78.2 -14.9 77.9C-1.2 77.6 2.7 77.5 12.1 83.2C21.6 89.0 25.1 95.0 32.3 106.7C39.5 118.3 44.9 134.5 48.1 141.4M-93.1 116.8C-85.8 110.4 -72.2 92.3 -56.5 84.5C-40.9 76.7 -28.6 78.1 -14.9 77.9C-1.2 77.6 2.7 77.5 12.1 83.2C21.5 89.0 25.0 95.1 32.2 106.7C39.3 118.4 44.7 134.6 47.9 141.5M-93.5 116.5C-86.1 110.1 -72.4 92.1 -56.6 84.4C-40.9 76.7 -28.7 78.1 -14.9 77.8C-1.2 77.6 2.7 77.5 12.1 83.3C21.5 89.1 25.0 95.2 32.1 106.8C39.2 118.5 44.5 134.6 47.6 141.6M-93.9 116.2C-86.5 109.8 -72.6 92.0 -56.8 84.3C-41.0 76.6 -28.7 78.0 -14.9 77.8C-1.1 77.6 2.7 77.5 12.1 83.3C21.5 89.1 24.9 95.2 32.0 106.9C39.1 118.6 44.3 134.7 47.4 141.7M-94.3 115.9C-86.8 109.5 -72.8 91.8 -56.9 84.2C-41.0 76.5 -28.7 78.0 -14.9 77.8C-1.1 77.6 2.7 77.5 12.1 83.3C21.4 89.1 24.9 95.3 31.9 107.0C38.9 118.7 44.1 134.8 47.2 141.8M-94.7 115.6C-87.2 109.2 -73.0 91.6 -57.0 84.0C-41.0 76.5 -28.7 77.9 -14.9 77.8C-1.1 77.6 2.7 77.5 12.1 83.3C21.4 89.2 24.9 95.3 31.8 107.0C38.8 118.7 43.9 134.9 46.9 141.8M-95.1 115.2C-87.5 109.0 -73.1 91.4 -57.1 83.9C-41.1 76.4 -28.8 77.9 -14.9 77.7C-1.1 77.6 2.7 77.5 12.1 83.3C21.4 89.2 24.8 95.4 31.7 107.1C38.7 118.8 43.7 135.0 46.7 141.9M-95.5 114.9C-87.8 108.7 -73.3 91.2 -57.2 83.8C-41.1 76.3 -28.8 77.8 -14.9 77.7C-1.1 77.6 2.7 77.5 12.0 83.4C21.4 89.3 24.8 95.5 31.7 107.2C38.5 118.9 43.5 135.0 46.5 142.0M-95.9 114.6C-88.2 108.4 -73.5 91.0 -57.4 83.7C-41.2 76.3 -28.8 77.7 -14.9 77.7C-1.1 77.6 2.7 77.5 12.0 83.4C21.3 89.3 24.7 95.5 31.6 107.3C38.4 119.0 43.3 135.1 46.2 142.1M-96.3 114.3C-88.5 108.1 -73.7 90.8 -57.5 83.5C-41.2 76.2 -28.8 77.7 -14.9 77.7C-1.0 77.6 2.7 77.5 12.0 83.4C21.3 89.3 24.7 95.6 31.5 107.4C38.3 119.1 43.1 135.2 46.0 142.1M-96.6 113.9C-88.8 107.8 -73.9 90.7 -57.6 83.4C-41.3 76.2 -28.9 77.6 -14.9 77.7C-1.0 77.7 2.8 77.5 12.0 83.4C21.3 89.4 24.7 95.7 31.4 107.4C38.2 119.2 42.9 135.3 45.8 142.2M-97.0 113.6C-89.2 107.5 -74.1 90.5 -57.7 83.3C-41.3 76.1 -28.9 77.6 -14.9 77.6C-1.0 77.7 2.8 77.5 12.0 83.5C21.3 89.4 24.6 95.7 31.3 107.5C38.0 119.3 42.7 135.3 45.5 142.3" fill="none" stroke="#6A51A3" stroke-width="0.45" stroke-opacity="0.42" stroke-linejoin="round"/>
<path d="M149.1 -10.1C136.7 -5.7 107.2 2.8 87.2 11.7C67.3 20.6 62.9 25.5 49.4 34.3C35.9 43.1 29.3 49.5 19.7 55.8C10.2 62.2 14.0 48.6 1.7 66.1C-10.5 83.6 -33.0 128.0 -41.7 143.5M149.1 -9.3C136.7 -5.1 107.2 3.1 87.3 11.8C67.3 20.4 62.8 25.2 49.3 34.0C35.7 42.7 29.0 49.1 19.5 55.5C9.9 61.9 14.0 48.4 1.6 66.0C-10.8 83.5 -33.8 127.7 -42.6 143.2M149.2 -8.6C136.8 -4.5 107.3 3.4 87.3 11.8C67.3 20.3 62.7 25.0 49.1 33.6C35.5 42.3 28.7 48.7 19.2 55.1C9.7 61.5 14.0 48.3 1.4 65.9C-11.1 83.4 -34.6 127.5 -43.6 142.9M149.2 -7.9C136.8 -3.9 107.4 3.7 87.3 11.9C67.3 20.1 62.6 24.7 48.9 33.3C35.2 41.9 28.5 48.3 18.9 54.7C9.4 61.2 14.0 48.2 1.3 65.7C-11.4 83.3 -35.4 127.2 -44.5 142.6M149.2 -7.2C136.8 -3.3 107.4 3.9 87.3 12.0C67.2 20.0 62.4 24.5 48.7 33.0C35.0 41.5 28.2 47.9 18.7 54.4C9.2 60.9 14.0 48.0 1.1 65.6C-11.7 83.2 -36.2 127.0 -45.5 142.3M149.3 -6.5C136.9 -2.8 107.5 4.2 87.4 12.0C67.2 19.9 62.3 24.2 48.5 32.6C34.7 41.0 27.9 47.5 18.4 54.0C8.9 60.6 14.0 47.9 1.0 65.5C-12.0 83.1 -37.0 126.7 -46.5 142.0M149.3 -5.7C136.9 -2.2 107.6 4.5 87.4 12.1C67.2 19.7 62.2 24.0 48.3 32.3C34.5 40.6 27.7 47.1 18.2 53.7C8.7 60.3 13.9 47.8 0.8 65.4C-12.3 83.0 -37.8 126.4 -47.4 141.7M149.3 -5.0C136.9 -1.6 107.6 4.8 87.4 12.2C67.2 19.6 62.1 23.7 48.1 32.0C34.2 40.2 27.4 46.7 17.9 53.3C8.4 60.0 13.9 47.6 0.7 65.3C-12.6 82.9 -38.5 126.1 -48.4 141.4M149.3 -4.3C137.0 -1.0 107.7 5.1 87.4 12.3C67.2 19.5 61.9 23.5 48.0 31.6C34.0 39.8 27.1 46.3 17.6 53.0C8.1 59.7 13.9 47.5 0.5 65.1C-12.9 82.8 -39.3 125.9 -49.3 141.0M149.4 -3.6C137.0 -0.4 107.8 5.4 87.4 12.3C67.1 19.3 61.8 23.2 47.8 31.3C33.8 39.3 26.9 45.9 17.4 52.6C7.9 59.3 13.9 47.4 0.4 65.0C-13.2 82.6 -40.1 125.6 -50.2 140.7M149.4 -2.8C137.0 0.2 107.8 5.7 87.5 12.4C67.1 19.2 61.7 23.0 47.6 30.9C33.5 38.9 26.6 45.5 17.1 52.2C7.6 59.0 13.9 47.3 0.2 64.9C-13.4 82.5 -40.9 125.3 -51.2 140.4M149.4 -2.1C137.0 0.8 107.9 5.9 87.5 12.5C67.1 19.0 61.5 22.7 47.4 30.6C33.3 38.5 26.3 45.1 16.9 51.9C7.4 58.7 13.9 47.2 0.1 64.8C-13.7 82.4 -41.7 125.0 -52.1 140.0M149.4 -1.4C137.0 1.4 107.9 6.2 87.5 12.6C67.1 18.9 61.4 22.5 47.2 30.3C33.0 38.1 26.1 44.7 16.6 51.5C7.1 58.4 13.9 47.0 -0.1 64.7C-14.0 82.3 -42.5 124.7 -53.1 139.7M149.4 -0.7C137.0 2.0 108.0 6.5 87.5 12.6C67.1 18.8 61.3 22.2 47.0 29.9C32.8 37.6 25.8 44.2 16.3 51.2C6.9 58.1 13.8 46.9 -0.2 64.5C-14.3 82.2 -43.3 124.3 -54.0 139.3M149.4 0.0C137.0 2.6 108.1 6.8 87.6 12.7C67.1 18.6 61.2 22.0 46.9 29.6C32.6 37.2 25.5 43.8 16.1 50.8C6.6 57.8 13.8 46.8 -0.4 64.4C-14.6 82.0 -44.0 124.0 -54.9 138.9M149.4 0.8C137.0 3.2 108.1 7.1 87.6 12.8C67.0 18.5 61.0 21.7 46.7 29.3C32.3 36.8 25.3 43.4 15.8 50.5C6.4 57.5 13.8 46.7 -0.5 64.3C-14.9 81.9 -44.8 123.7 -55.9 138.6M149.4 1.5C137.0 3.8 108.2 7.4 87.6 12.9C67.0 18.3 60.9 21.5 46.5 28.9C32.1 36.4 25.0 43.0 15.5 50.1C6.1 57.2 13.8 46.6 -0.7 64.2C-15.2 81.8 -45.6 123.4 -56.8 138.2M149.4 2.2C137.0 4.4 108.2 7.7 87.6 12.9C67.0 18.2 60.8 21.2 46.3 28.6C31.8 35.9 24.7 42.6 15.3 49.7C5.9 56.8 13.8 46.5 -0.8 64.1C-15.4 81.7 -46.3 123.0 -57.7 137.8M149.4 2.9C137.0 4.9 108.3 7.9 87.6 13.0C67.0 18.1 60.6 21.0 46.1 28.2C31.6 35.5 24.4 42.2 15.0 49.4C5.6 56.5 13.8 46.3 -1.0 63.9C-15.7 81.5 -47.1 122.7 -58.7 137.4M149.4 3.7C137.0 5.5 108.4 8.2 87.7 13.1C67.0 17.9 60.5 20.7 45.9 27.9C31.4 35.1 24.2 41.8 14.8 49.0C5.4 56.2 13.7 46.2 -1.1 63.8C-16.0 81.4 -47.9 122.4 -59.6 137.0M149.3 4.4C137.0 6.1 108.4 8.5 87.7 13.2C67.0 17.8 60.4 20.5 45.8 27.6C31.1 34.7 23.9 41.4 14.5 48.7C5.1 55.9 13.7 46.1 -1.3 63.7C-16.3 81.3 -48.6 122.0 -60.5 136.6M149.3 5.1C137.0 6.7 108.5 8.8 87.7 13.2C67.0 17.7 60.3 20.2 45.6 27.2C30.9 34.2 23.6 41.0 14.2 48.3C4.8 55.6 13.7 46.0 -1.4 63.6C-16.6 81.2 -49.4 121.7 -61.4 136.2M149.3 5.8C137.0 7.3 108.5 9.1 87.7 13.3C67.0 17.5 60.1 20.0 45.4 26.9C30.6 33.8 23.4 40.6 14.0 48.0C4.6 55.3 13.7 45.9 -1.6 63.5C-16.8 81.0 -50.2 121.3 -62.3 135.8M149.3 6.5C137.0 7.9 108.6 9.4 87.8 13.4C67.0 17.4 60.0 19.7 45.2 26.6C30.4 33.4 23.1 40.2 13.7 47.6C4.3 55.0 13.7 45.8 -1.7 63.3C-17.1 80.9 -50.9 121.0 -63.2 135.4M149.2 7.3C136.9 8.5 108.6 9.7 87.8 13.4C66.9 17.2 59.9 19.5 45.0 26.2C30.2 33.0 22.8 39.8 13.5 47.2C4.1 54.6 13.6 45.7 -1.9 63.2C-17.4 80.8 -51.7 120.6 -64.1 134.9M149.2 8.0C136.9 9.1 108.7 9.9 87.8 13.5C66.9 17.1 59.8 19.2 44.8 25.9C29.9 32.6 22.6 39.4 13.2 46.9C3.8 54.3 13.6 45.6 -2.0 63.1C-17.7 80.6 -52.4 120.2 -65.0 134.5M146.2 -30.6C135.0 -24.5 103.6 -12.2 90.1 -0.1C76.6 12.1 78.7 16.9 78.8 30.2C78.8 43.6 78.8 60.2 90.2 66.6C101.7 72.9 126.8 62.8 136.0 61.9M146.4 -29.7C135.2 -23.8 103.7 -12.0 90.2 0.0C76.7 12.0 78.9 17.0 78.9 30.2C79.0 43.5 79.1 59.8 90.5 66.3C101.8 72.9 126.5 63.5 135.6 62.8M146.6 -28.8C135.3 -23.0 103.8 -11.7 90.3 0.1C76.8 11.9 79.1 17.0 79.1 30.2C79.2 43.4 79.5 59.4 90.7 66.1C101.9 72.8 126.2 64.2 135.1 63.7M146.8 -27.9C135.5 -22.3 103.8 -11.4 90.3 0.2C76.8 11.8 79.2 17.1 79.3 30.2C79.4 43.4 79.8 59.1 90.9 65.9C102.0 72.8 126.0 64.8 134.7 64.6M146.9 -27.0C135.6 -21.5 103.9 -11.2 90.4 0.3C76.9 11.7 79.4 17.1 79.5 30.2C79.7 43.3 80.1 58.7 91.1 65.7C102.0 72.8 125.7 65.5 134.3 65.4M147.1 -26.1C135.8 -20.8 103.9 -10.9 90.4 0.4C77.0 11.6 79.5 17.2 79.7 30.2C79.9 43.2 80.5 58.3 91.3 65.5C102.1 72.7 125.4 66.2 133.9 66.3M147.3 -25.2C135.9 -20.1 104.0 -10.6 90.5 0.5C77.0 11.5 79.7 17.2 79.9 30.2C80.1 43.2 80.8 57.9 91.5 65.3C102.2 72.7 125.0 66.8 133.4 67.2M147.4 -24.3C136.0 -19.3 104.0 -10.3 90.6 0.5C77.1 11.4 79.9 17.3 80.1 30.2C80.3 43.1 81.1 57.5 91.7 65.1C102.3 72.7 124.7 67.5 133.0 68.1M147.6 -23.4C136.2 -18.6 104.1 -10.1 90.6 0.6C77.2 11.3 80.0 17.3 80.3 30.2C80.5 43.0 81.4 57.1 91.9 64.9C102.4 72.6 124.4 68.1 132.5 68.9M147.7 -22.5C136.3 -17.8 104.1 -9.8 90.7 0.7C77.2 11.2 80.2 17.4 80.5 30.2C80.8 43.0 81.8 56.7 92.1 64.7C102.4 72.6 124.1 68.8 132.1 69.8M147.8 -21.6C136.4 -17.1 104.2 -9.5 90.7 0.8C77.3 11.1 80.3 17.4 80.7 30.2C81.0 42.9 82.1 56.4 92.3 64.5C102.5 72.6 123.8 69.4 131.6 70.6M148.0 -20.6C136.5 -16.3 104.2 -9.3 90.8 0.9C77.4 11.0 80.5 17.5 80.9 30.1C81.2 42.8 82.5 56.0 92.5 64.3C102.6 72.5 123.4 70.1 131.2 71.5M148.1 -19.7C136.6 -15.6 104.3 -9.0 90.8 1.0C77.4 10.9 80.7 17.5 81.0 30.1C81.4 42.8 82.8 55.6 92.7 64.0C102.7 72.5 123.1 70.7 130.7 72.4M148.2 -18.8C136.7 -14.8 104.3 -8.7 90.9 1.1C77.5 10.8 80.8 17.6 81.2 30.1C81.6 42.7 83.1 55.2 92.9 63.8C102.7 72.4 122.8 71.3 130.2 73.2M148.3 -17.9C136.9 -14.1 104.3 -8.5 91.0 1.1C77.6 10.7 81.0 17.6 81.4 30.1C81.9 42.6 83.5 54.8 93.1 63.6C102.8 72.4 122.4 72.0 129.8 74.1M148.4 -17.0C136.9 -13.3 104.4 -8.2 91.0 1.2C77.7 10.6 81.1 17.7 81.6 30.1C82.1 42.6 83.8 54.5 93.4 63.4C102.9 72.4 122.1 72.6 129.3 74.9M148.5 -16.1C137.0 -12.6 104.4 -7.9 91.1 1.3C77.7 10.5 81.3 17.7 81.8 30.1C82.3 42.5 84.2 54.1 93.6 63.2C103.0 72.3 121.7 73.2 128.8 75.7M148.6 -15.2C137.1 -11.8 104.5 -7.7 91.1 1.4C77.8 10.4 81.5 17.8 82.0 30.1C82.5 42.4 84.5 53.7 93.8 63.0C103.0 72.3 121.4 73.9 128.3 76.6M148.7 -14.2C137.2 -11.1 104.5 -7.4 91.2 1.5C77.9 10.3 81.6 17.8 82.2 30.1C82.7 42.3 84.9 53.3 94.0 62.8C103.1 72.3 121.0 74.5 127.8 77.4M148.8 -13.3C137.3 -10.3 104.5 -7.1 91.2 1.6C78.0 10.2 81.8 17.9 82.4 30.1C83.0 42.3 85.2 52.9 94.2 62.6C103.2 72.2 120.7 75.1 127.3 78.2M148.9 -12.4C137.4 -9.6 104.6 -6.8 91.3 1.6C78.0 10.1 82.0 17.9 82.6 30.1C83.2 42.2 85.5 52.6 94.4 62.4C103.2 72.2 120.3 75.7 126.8 79.1M149.0 -11.5C137.4 -8.8 104.6 -6.6 91.4 1.7C78.1 10.0 82.1 18.0 82.8 30.1C83.4 42.1 85.9 52.2 94.6 62.2C103.3 72.1 119.9 76.4 126.2 79.9M149.0 -10.6C137.5 -8.1 104.6 -6.3 91.4 1.8C78.2 9.9 82.3 18.0 83.0 30.1C83.6 42.1 86.2 51.8 94.8 61.9C103.4 72.1 119.5 77.0 125.7 80.7M149.1 -9.7C137.6 -7.3 104.7 -6.0 91.5 1.9C78.3 9.8 82.4 18.1 83.1 30.0C83.8 42.0 86.6 51.4 95.0 61.7C103.4 72.0 119.2 77.6 125.2 81.5M149.1 -8.7C137.6 -6.6 104.7 -5.8 91.5 2.0C78.4 9.7 82.6 18.1 83.3 30.0C84.1 41.9 86.9 51.1 95.2 61.5C103.5 72.0 118.8 78.2 124.7 82.4M149.2 -7.8C137.7 -5.8 104.7 -5.5 91.6 2.1C78.5 9.6 82.8 18.2 83.5 30.0C84.3 41.9 87.3 50.7 95.4 61.3C103.5 71.9 118.4 78.8 124.1 83.2M149.2 -6.9C137.7 -5.1 104.8 -5.2 91.7 2.2C78.6 9.5 82.9 18.2 83.7 30.0C84.5 41.8 87.7 50.3 95.6 61.1C103.6 71.9 118.0 79.4 123.6 84.0M149.3 -6.0C137.8 -4.3 104.8 -5.0 91.7 2.2C78.6 9.4 83.1 18.3 83.9 30.0C84.7 41.7 88.0 50.0 95.8 60.9C103.7 71.9 117.6 80.0 123.0 84.8M149.3 -5.1C137.8 -3.6 104.8 -4.7 91.8 2.3C78.7 9.3 83.2 18.3 84.1 30.0C85.0 41.7 88.4 49.6 96.0 60.7C103.7 71.8 117.2 80.6 122.5 85.6M149.3 -4.1C137.8 -2.8 104.8 -4.4 91.8 2.4C78.8 9.2 83.4 18.4 84.3 30.0C85.2 41.6 88.7 49.2 96.2 60.5C103.8 71.8 116.8 81.2 121.9 86.4M149.4 -3.2C137.9 -2.1 104.9 -4.1 91.9 2.5C78.9 9.1 83.6 18.4 84.5 30.0C85.4 41.5 89.1 48.8 96.5 60.3C103.8 71.7 116.4 81.8 121.3 87.2M149.4 -2.3C137.9 -1.3 104.9 -3.9 91.9 2.6C79.0 9.0 83.7 18.5 84.7 30.0C85.6 41.5 89.4 48.5 96.7 60.1C103.9 71.7 115.9 82.4 120.8 88.0M149.4 -1.4C137.9 -0.6 104.9 -3.6 92.0 2.7C79.1 8.9 83.9 18.5 84.9 30.0C85.8 41.4 89.8 48.1 96.9 59.9C103.9 71.6 115.5 83.0 120.2 88.7M149.4 -0.5C137.9 0.2 104.9 -3.3 92.1 2.8C79.2 8.8 84.1 18.6 85.1 30.0C86.1 41.3 90.2 47.7 97.1 59.6C104.0 71.6 115.1 83.5 119.6 89.5" fill="none" stroke="#6A51A3" stroke-width="0.50" stroke-opacity="0.75" stroke-linejoin="round"/>
<path d="M0.00 -170.55A170.55 170.55 0 0 1 158.90 -61.95" fill="none" stroke="#E41A1C" stroke-width="6.90"/>
<path d="M161.74 -54.12A170.55 170.55 0 0 1 158.68 62.51" fill="none" stroke="#377EB8" stroke-width="6.90"/>
<path d="M155.56 69.91A170.55 170.55 0 0 1 2.98 170.52" fill="none" stroke="#4DAF4A" stroke-width="6.90"/>
<path d="M-3.87 170.51A170.55 170.55 0 0 1 -7.14 -170.40" fill="none" stroke="#984EA3" stroke-width="6.90"/>
<path d="M0.00 -155.10A155.10 155.10 0 0 1 111.57 -107.74" fill="none" stroke="#E6550D" stroke-width="9.60"/>
<path d="M111.57 -107.74A155.10 155.10 0 0 1 144.51 -56.34" fill="none" stroke="#FDAE6B" stroke-width="9.60"/>
<path d="M147.08 -49.21A155.10 155.10 0 0 1 154.86 8.66" fill="none" stroke="#E6550D" stroke-width="9.60"/>
<path d="M154.86 8.66A155.10 155.10 0 0 1 144.31 56.84" fill="none" stroke="#FDAE6B" stroke-width="9.60"/>
<path d="M141.47 63.58A155.10 155.10 0 0 1 47.16 147.76" fill="none" stroke="#E6550D" stroke-width="9.60"/>
<path d="M47.16 147.76A155.10 155.10 0 0 1 2.71 155.08" fill="none" stroke="#FDAE6B" stroke-width="9.60"/>
<path d="M-3.52 155.06A155.10 155.10 0 0 1 -100.94 117.76" fill="none" stroke="#E6550D" stroke-width="9.60"/>
<path d="M-100.94 117.76A155.10 155.10 0 0 1 -6.49 -154.96" fill="none" stroke="#FDAE6B" stroke-width="9.60"/>
</g>
<g transform="translate(664.40 354.55) scale(0.9796 1)">
<path d="M0.4 -149.4L-20.6 -16.6L-36.5 18.7L-42.3 50.5L-73.8 129.9M0.7 -149.4L-20.6 -16.6L-36.4 18.7L-42.3 50.6L-74.3 129.6M1.0 -149.4L-20.6 -16.6L-36.4 18.7L-42.2 50.6L-74.8 129.3M1.4 -149.4L-20.5 -16.6L-36.3 18.7L-42.2 50.6L-75.3 129.1M1.7 -149.4L-20.5 -16.6L-36.2 18.8L-42.2 50.7L-75.7 128.8M2.0 -149.4L-20.5 -16.6L-36.2 18.8L-42.1 50.7L-76.2 128.5M2.3 -149.4L-20.5 -16.6L-36.1 18.8L-42.1 50.8L-76.7 128.2M2.6 -149.4L-20.4 -16.6L-36.0 18.8L-42.0 50.8L-77.2 127.9M2.9 -149.4L-20.4 -16.6L-36.0 18.8L-42.0 50.8L-77.6 127.6M3.2 -149.4L-20.4 -16.6L-35.9 18.9L-42.0 50.9L-78.1 127.4M3.6 -149.4L-20.4 -16.6L-35.9 18.9L-41.9 50.9L-78.6 127.1M3.9 -149.3L-20.3 -16.5L-35.8 18.9L-41.9 51.0L-79.1 126.8M4.2 -149.3L-20.3 -16.5L-35.7 18.9L-41.9 51.0L-79.5 126.5M4.5 -149.3L-20.3 -16.5L-35.7 18.9L-41.8 51.0L-80.0 126.2M4.8 -149.3L-20.3 -16.5L-35.6 19.0L-41.8 51.1L-80.5 125.9M5.1 -149.3L-20.2 -16.5L-35.5 19.0L-41.8 51.1L-80.9 125.6M5.4 -149.3L-20.2 -16.5L-35.5 19.0L-41.7 51.1L-81.4 125.3M5.8 -149.3L-20.2 -16.5L-35.4 19.0L-41.7 51.2L-81.9 125.0M6.1 -149.3L-20.2 -16.5L-35.3 19.0L-41.7 51.2L-82.3 124.7M6.4 -149.3L-20.1 -16.5L-35.3 19.0L-41.6 51.3L-82.8 124.4M6.7 -149.2L-20.1 -16.5L-35.2 19.1L-41.6 51.3L-83.3 124.0M7.0 -149.2L-20.1 -16.5L-35.2 19.1L-41.5 51.3L-83.7 123.7M7.3 -149.2L-20.1 -16.4L-35.1 19.1L-41.5 51.4L-84.2 123.4M7.6 -149.2L-20.0 -16.4L-35.0 19.1L-41.5 51.4L-84.6 123.1M8.0 -149.2L-20.0 -16.4L-35.0 19.1L-41.4 51.5L-85.1 122.8M8.3 -149.2L-20.0 -16.4L-34.9 19.2L-41.4 51.5L-85.6 122.5M8.6 -149.2L-20.0 -16.4L-34.8 19.2L-41.4 51.5L-86.0 122.2M8.9 -149.1L-19.9 -16.4L-34.8 19.2L-41.3 51.6L-86.5 121.8M9.2 -149.1L-19.9 -16.4L-34.7 19.2L-41.3 51.6L-86.9 121.5M9.5 -149.1L-19.9 -16.4L-34.7 19.2L-41.3 51.7L-87.4 121.2M9.8 -149.1L-19.9 -16.4L-34.6 19.2L-41.2 51.7L-87.8 120.9M10.2 -149.1L-19.8 -16.4L-34.5 19.3L-41.2 51.7L-88.3 120.5M10.5 -149.0L-19.8 -16.4L-34.5 19.3L-41.2 51.8L-88.7 120.2M10.8 -149.0L-19.8 -16.4L-34.4 19.3L-41.1 51.8L-89.2 119.9M11.1 -149.0L-19.8 -16.3L-34.3 19.3L-41.1 51.8L-89.6 119.5M11.4 -149.0L-19.7 -16.3L-34.3 19.3L-41.1 51.9L-90.1 119.2M11.7 -148.9L-19.7 -16.3L-34.2 19.4L-41.0 51.9L-90.5 118.9M12.0 -148.9L-19.7 -16.3L-34.2 19.4L-41.0 52.0L-90.9 118.5M12.3 -148.9L-19.7 -16.3L-34.1 19.4L-40.9 52.0L-91.4 118.2M12.7 -148.9L-19.6 -16.3L-34.0 19.4L-40.9 52.0L-91.8 117.9M13.0 -148.8L-19.6 -16.3L-34.0 19.4L-40.9 52.1L-92.3 117.5M13.3 -148.8L-19.6 -16.3L-33.9 19.5L-40.8 52.1L-92.7 117.2M13.6 -148.8L-19.6 -16.3L-33.8 19.5L-40.8 52.2L-93.1 116.8M13.9 -148.8L-19.5 -16.3L-33.8 19.5L-40.8 52.2L-93.6 116.5M14.2 -148.7L-19.5 -16.3L-33.7 19.5L-40.7 52.2L-94.0 116.1M14.5 -148.7L-19.5 -16.2L-33.6 19.5L-40.7 52.3L-94.4 115.8M14.8 -148.7L-19.5 -16.2L-33.6 19.5L-40.7 52.3L-94.9 115.4M15.2 -148.6L-19.4 -16.2L-33.5 19.6L-40.6 52.4L-95.3 115.1M15.5 -148.6L-19.4 -16.2L-33.5 19.6L-40.6 52.4L-95.7 114.7M15.8 -148.6L-19.4 -16.2L-33.4 19.6L-40.6 52.4L-96.1 114.4M16.1 -148.5L-19.4 -16.2L-33.3 19.6L-40.5 52.5L-96.6 114.0M16.4 -148.5L-19.3 -16.2L-33.3 19.6L-40.5 52.5L-97.0 113.6M16.7 -148.5L-19.3 -16.2L-33.2 19.7L-40.5 52.5L-97.4 113.3M17.0 -148.4L-19.3 -16.2L-33.1 19.7L-40.4 52.6L-97.8 112.9M17.3 -148.4L-19.3 -16.2L-33.1 19.7L-40.4 52.6L-98.2 112.6M17.7 -148.4L-19.3 -16.2L-33.0 19.7L-40.3 52.7L-98.7 112.2M18.0 -148.3L-19.2 -16.1L-33.0 19.7L-40.3 52.7L-99.1 111.8M18.3 -148.3L-19.2 -16.1L-32.9 19.8L-40.3 52.7L-99.5 111.4M18.6 -148.2L-19.2 -16.1L-32.8 19.8L-40.2 52.8L-99.9 111.1M18.9 -148.2L-19.2 -16.1L-32.8 19.8L-40.2 52.8L-100.3 110.7M19.2 -148.2L-19.1 -16.1L-32.7 19.8L-40.2 52.9L-100.7 110.3M19.5 -148.1L-19.1 -16.1L-32.6 19.8L-40.1 52.9L-101.1 110.0M19.8 -148.1L-19.1 -16.1L-32.6 19.8L-40.1 52.9L-101.6 109.6M20.2 -148.0L-19.1 -16.1L-32.5 19.9L-40.1 53.0L-102.0 109.2M20.5 -148.0L-19.0 -16.1L-32.4 19.9L-40.0 53.0L-102.4 108.8M20.8 -147.9L-19.0 -16.1L-32.4 19.9L-40.0 53.1L-102.8 108.4M21.1 -147.9L-19.0 -16.1L-32.3 19.9L-40.0 53.1L-103.2 108.1M21.4 -147.9L-19.0 -16.0L-32.3 19.9L-39.9 53.1L-103.6 107.7M21.7 -147.8L-18.9 -16.0L-32.2 20.0L-39.9 53.2L-104.0 107.3M22.0 -147.8L-18.9 -16.0L-32.1 20.0L-39.8 53.2L-104.4 106.9M22.3 -147.7L-18.9 -16.0L-32.1 20.0L-39.8 53.2L-104.8 106.5M22.6 -147.7L-18.9 -16.0L-32.0 20.0L-39.8 53.3L-105.2 106.1M23.0 -147.6L-18.8 -16.0L-31.9 20.0L-39.7 53.3L-105.6 105.7M23.3 -147.6L-18.8 -16.0L-31.9 20.0L-39.7 53.4L-105.9 105.3M23.6 -147.5L-18.8 -16.0L-31.8 20.1L-39.7 53.4L-106.3 104.9M23.9 -147.5L-18.8 -16.0L-31.8 20.1L-39.6 53.4L-106.7 104.5M24.2 -147.4L-18.7 -16.0L-31.7 20.1L-39.6 53.5L-107.1 104.1M24.5 -147.4L-18.7 -16.0L-31.6 20.1L-39.6 53.5L-107.5 103.7M24.8 -147.3L-18.7 -15.9L-31.6 20.1L-39.5 53.6L-107.9 103.3M25.1 -147.3L-18.7 -15.9L-31.5 20.2L-39.5 53.6L-108.3 102.9M25.4 -147.2L-18.6 -15.9L-31.4 20.2L-39.5 53.6L-108.7 102.5M25.7 -147.2L-18.6 -15.9L-31.4 20.2L-39.4 53.7L-109.0 102.1M26.1 -147.1L-18.6 -15.9L-31.3 20.2L-39.4 53.7L-109.4 101.7M26.4 -147.1L-18.6 -15.9L-31.2 20.2L-39.4 53.8L-109.8 101.3M26.7 -147.0L-18.5 -15.9L-31.2 20.3L-39.3 53.8L-110.2 100.9M27.0 -146.9L-18.5 -15.9L-31.1 20.3L-39.3 53.8L-110.5 100.5M27.3 -146.9L-18.5 -15.9L-31.1 20.3L-39.2 53.9L-110.9 100.1M27.6 -146.8L-18.5 -15.9L-31.0 20.3L-39.2 53.9L-111.3 99.7M27.9 -146.8L-18.4 -15.9L-30.9 20.3L-39.2 53.9L-111.7 99.3M28.2 -146.7L-18.4 -15.8L-30.9 20.3L-39.1 54.0L-112.0 98.8M28.5 -146.7L-18.4 -15.8L-30.8 20.4L-39.1 54.0L-112.4 98.4M28.8 -146.6L-18.4 -15.8L-30.7 20.4L-39.1 54.1L-112.8 98.0M29.1 -146.5L-18.3 -15.8L-30.7 20.4L-39.0 54.1L-113.1 97.6M29.5 -146.5L-18.3 -15.8L-30.6 20.4L-39.0 54.1L-113.5 97.2M29.8 -146.4L-18.3 -15.8L-30.6 20.4L-39.0 54.2L-113.8 96.7M30.1 -146.3L-18.3 -15.8L-30.5 20.5L-38.9 54.2L-114.2 96.3M30.4 -146.3L-18.2 -15.8L-30.4 20.5L-38.9 54.3L-114.6 95.9M30.7 -146.2L-18.2 -15.8L-30.4 20.5L-38.9 54.3L-114.9 95.5M31.0 -146.2L-18.2 -15.8L-30.3 20.5L-38.8 54.3L-115.3 95.0M31.3 -146.1L-18.2 -15.8L-30.2 20.5L-38.8 54.4L-115.6 94.6M31.6 -146.0L-18.1 -15.8L-30.2 20.6L-38.7 54.4L-116.0 94.2M31.9 -146.0L-18.1 -15.7L-30.1 20.6L-38.7 54.5L-116.3 93.7M32.2 -145.9L-18.1 -15.7L-30.0 20.6L-38.7 54.5L-116.7 93.3M32.5 -145.8L-18.1 -15.7L-30.0 20.6L-38.6 54.5L-117.0 92.9M32.8 -145.7L-18.0 -15.7L-29.9 20.6L-38.6 54.6L-117.4 92.4M33.1 -145.7L-18.0 -15.7L-29.9 20.6L-38.6 54.6L-117.7 92.0M33.4 -145.6L-18.0 -15.7L-29.8 20.7L-38.5 54.6L-118.1 91.6M33.8 -145.5L-18.0 -15.7L-29.7 20.7L-38.5 54.7L-118.4 91.1M34.1 -145.5L-17.9 -15.7L-29.7 20.7L-38.5 54.7L-118.7 90.7M34.4 -145.4L-17.9 -15.7L-29.6 20.7L-38.4 54.8L-119.1 90.2M34.7 -145.3L-17.9 -15.7L-29.5 20.7L-38.4 54.8L-119.4 89.8M35.0 -145.2L-17.9 -15.7L-29.5 20.8L-38.4 54.8L-119.7 89.4M35.3 -145.2L-17.8 -15.6L-29.4 20.8L-38.3 54.9L-120.1 88.9M35.6 -145.1L-17.8 -15.6L-29.4 20.8L-38.3 54.9L-120.4 88.5M35.9 -145.0L-17.8 -15.6L-29.3 20.8L-38.3 55.0L-120.7 88.0M36.2 -144.9L-17.8 -15.6L-29.2 20.8L-38.2 55.0L-121.1 87.6M36.5 -144.9L-17.7 -15.6L-29.2 20.9L-38.2 55.0L-121.4 87.1M36.8 -144.8L-17.7 -15.6L-29.1 20.9L-38.1 55.1L-121.7 86.7M37.1 -144.7L-17.7 -15.6L-29.0 20.9L-38.1 55.1L-122.0 86.2M37.4 -144.6L-17.7 -15.6L-29.0 20.9L-38.1 55.2L-122.3 85.8M37.7 -144.6L-17.6 -15.6L-28.9 20.9L-38.0 55.2L-122.7 85.3M38.0 -144.5L-17.6 -15.6L-28.9 20.9L-38.0 55.2L-123.0 84.8M38.3 -144.4L-17.6 -15.6L-28.8 21.0L-38.0 55.3L-123.3 84.4M38.6 -144.3L-17.6 -15.5L-28.7 21.0L-37.9 55.3L-123.6 83.9M38.9 -144.2L-17.5 -15.5L-28.7 21.0L-37.9 55.3L-123.9 83.5M39.2 -144.2L-17.5 -15.5L-28.6 21.0L-37.9 55.4L-124.2 83.0M39.5 -144.1L-17.5 -15.5L-28.5 21.0L-37.8 55.4L-124.5 82.5M39.8 -144.0L-17.5 -15.5L-28.5 21.1L-37.8 55.5L-124.8 82.1M40.1 -143.9L-17.4 -15.5L-28.4 21.1L-37.8 55.5L-125.1 81.6M40.4 -143.8L-17.4 -15.5L-28.3 21.1L-37.7 55.5L-125.4 81.1M40.8 -143.7L-17.4 -15.5L-28.3 21.1L-37.7 55.6L-125.7 80.7M41.1 -143.6L-17.4 -15.5L-28.2 21.1L-37.7 55.6L-126.0 80.2M41.4 -143.6L-17.3 -15.5L-28.2 21.1L-37.6 55.7L-126.3 79.7M41.7 -143.5L-17.3 -15.5L-28.1 21.2L-37.6 55.7L-126.6 79.3M42.0 -143.4L-17.3 -15.4L-28.0 21.2L-37.5 55.7L-126.9 78.8M42.3 -143.3L-17.3 -15.4L-28.0 21.2L-37.5 55.8L-127.2 78.3M42.6 -143.2L-17.2 -15.4L-27.9 21.2L-37.5 55.8L-127.5 77.8M42.9 -143.1L-17.2 -15.4L-27.8 21.2L-37.4 55.9L-127.8 77.4M43.2 -143.0L-17.2 -15.4L-27.8 21.3L-37.4 55.9L-128.1 76.9M43.5 -142.9L-17.2 -15.4L-27.7 21.3L-37.4 55.9L-128.4 76.4M43.8 -142.8L-17.1 -15.4L-27.7 21.3L-37.3 56.0L-128.7 75.9M44.1 -142.8L-17.1 -15.4L-27.6 21.3L-37.3 56.0L-128.9 75.5M44.4 -142.7L-17.1 -15.4L-27.5 21.3L-37.3 56.0L-129.2 75.0M44.7 -142.6L-17.1 -15.4L-27.5 21.4L-37.2 56.1L-129.5 74.5M45.0 -142.5L-17.0 -15.4L-27.4 21.4L-37.2 56.1L-129.8 74.0M45.3 -142.4L-17.0 -15.3L-27.3 21.4L-37.2 56.2L-130.0 73.5M45.6 -142.3L-17.0 -15.3L-27.3 21.4L-37.1 56.2L-130.3 73.1M45.9 -142.2L-17.0 -15.3L-27.2 21.4L-37.1 56.2L-130.6 72.6M46.2 -142.1L-16.9 -15.3L-27.1 21.4L-37.0 56.3L-130.9 72.1M46.5 -142.0L-16.9 -15.3L-27.1 21.5L-37.0 56.3L-131.1 71.6M46.8 -141.9L-16.9 -15.3L-27.0 21.5L-37.0 56.4L-131.4 71.1M47.1 -141.8L-16.9 -15.3L-27.0 21.5L-36.9 56.4L-131.7 70.6M47.4 -141.7L-16.9 -15.3L-26.9 21.5L-36.9 56.4L-131.9 70.1M47.7 -141.6L-16.8 -15.3L-26.8 21.5L-36.9 56.5L-132.2 69.6M48.0 -141.5L-16.8 -15.3L-26.8 21.6L-36.8 56.5L-132.4 69.1M48.2 -141.4L-16.8 -15.3L-26.7 21.6L-36.8 56.6L-132.7 68.6M48.5 -141.3L-16.8 -15.2L-26.6 21.6L-36.8 56.6L-132.9 68.2M48.8 -141.2L-16.7 -15.2L-26.6 21.6L-36.7 56.6L-133.2 67.7M49.1 -141.1L-16.7 -15.2L-26.5 21.6L-36.7 56.7L-133.5 67.2M49.4 -141.0L-16.7 -15.2L-26.5 21.7L-36.7 56.7L-133.7 66.7M49.7 -140.9L-16.7 -15.2L-26.4 21.7L-36.6 56.7L-133.9 66.2M50.0 -140.8L-16.6 -15.2L-26.3 21.7L-36.6 56.8L-134.2 65.7M50.3 -140.7L-16.6 -15.2L-26.3 21.7L-36.6 56.8L-134.4 65.2M50.6 -140.6L-16.6 -15.2L-26.2 21.7L-36.5 56.9L-134.7 64.7M50.9 -140.5L-16.6 -15.2L-26.1 21.7L-36.5 56.9L-134.9 64.2M51.2 -140.3L-16.5 -15.2L-26.1 21.8L-36.4 56.9L-135.2 63.7M51.5 -140.2L-16.5 -15.2L-26.0 21.8L-36.4 57.0L-135.4 63.2M51.8 -140.1L-16.5 -15.2L-25.9 21.8L-36.4 57.0L-135.6 62.7M52.1 -140.0L-16.5 -15.1L-25.9 21.8L-36.3 57.1L-135.9 62.2M52.4 -139.9L-16.4 -15.1L-25.8 21.8L-36.3 57.1L-136.1 61.6M52.7 -139.8L-16.4 -15.1L-25.8 21.9L-36.3 57.1L-136.3 61.1M53.0 -139.7L-16.4 -15.1L-25.7 21.9L-36.2 57.2L-136.5 60.6M53.3 -139.6L-16.4 -15.1L-25.6 21.9L-36.2 57.2L-136.8 60.1M53.6 -139.5L-16.3 -15.1L-25.6 21.9L-36.2 57.3L-137.0 59.6M53.9 -139.4L-16.3 -15.1L-25.5 21.9L-36.1 57.3L-137.2 59.1M54.2 -139.2L-16.3 -15.1L-25.4 21.9L-36.1 57.3L-137.4 58.6M54.4 -139.1L-16.3 -15.1L-25.4 22.0L-36.1 57.4L-137.6 58.1M54.7 -139.0L-16.2 -15.1L-25.3 22.0L-36.0 57.4L-137.9 57.6M55.0 -138.9L-16.2 -15.1L-25.3 22.0L-36.0 57.4L-138.1 57.1M55.3 -138.8L-16.2 -15.0L-25.2 22.0L-35.9 57.5L-138.3 56.5M55.6 -138.7L-16.2 -15.0L-25.1 22.0L-35.9 57.5L-138.5 56.0M55.9 -138.5L-16.1 -15.0L-25.1 22.1L-35.9 57.6L-138.7 55.5M56.2 -138.4L-16.1 -15.0L-25.0 22.1L-35.8 57.6L-138.9 55.0M56.5 -138.3L-16.1 -15.0L-24.9 22.1L-35.8 57.6L-139.1 54.5M56.8 -138.2L-16.1 -15.0L-24.9 22.1L-35.8 57.7L-139.3 54.0M57.1 -138.1L-16.0 -15.0L-24.8 22.1L-35.7 57.7L-139.5 53.4M57.4 -137.9L-16.0 -15.0L-24.7 22.2L-35.7 57.8L-139.7 52.9M57.7 -137.8L-16.0 -15.0L-24.7 22.2L-35.7 57.8L-139.9 52.4M57.9 -137.7L-16.0 -15.0L-24.6 22.2L-35.6 57.8L-140.1 51.9M58.2 -137.6L-15.9 -15.0L-24.6 22.2L-35.6 57.9L-140.3 51.4M0.4 -149.4L38.0 -37.9L56.5 25.6L147.5 23.6M0.8 -149.4L38.1 -37.9L56.6 25.6L147.5 24.0M1.1 -149.4L38.2 -38.0L56.6 25.5L147.4 24.4M1.5 -149.4L38.3 -38.0L56.7 25.4L147.3 24.7M1.8 -149.4L38.4 -38.0L56.7 25.4L147.3 25.1M2.2 -149.4L38.5 -38.0L56.8 25.3L147.2 25.5M2.5 -149.4L38.6 -38.0L56.9 25.3L147.1 25.9M2.9 -149.4L38.7 -38.0L56.9 25.2L147.1 26.3M3.2 -149.4L38.8 -38.1L57.0 25.1L147.0 26.7M3.6 -149.4L38.9 -38.1L57.1 25.1L146.9 27.1M3.9 -149.3L39.0 -38.1L57.1 25.0L146.8 27.5M4.3 -149.3L39.1 -38.1L57.2 24.9L146.8 27.9M4.7 -149.3L39.2 -38.1L57.3 24.9L146.7 28.3M5.0 -149.3L39.3 -38.2L57.3 24.8L146.6 28.7M5.4 -149.3L39.4 -38.2L57.4 24.8L146.5 29.1M5.7 -149.3L39.5 -38.2L57.4 24.7L146.5 29.5M6.1 -149.3L39.6 -38.2L57.5 24.6L146.4 29.8M6.4 -149.3L39.7 -38.2L57.6 24.6L146.3 30.2M6.8 -149.2L39.8 -38.3L57.6 24.5L146.2 30.6M7.1 -149.2L39.9 -38.3L57.7 24.5L146.1 31.0M7.5 -149.2L40.0 -38.3L57.8 24.4L146.1 31.4M7.8 -149.2L40.1 -38.3L57.8 24.3L146.0 31.8M8.2 -149.2L40.2 -38.3L57.9 24.3L145.9 32.2M8.5 -149.2L40.3 -38.4L58.0 24.2L145.8 32.6M8.9 -149.1L40.4 -38.4L58.0 24.2L145.7 33.0M9.2 -149.1L40.5 -38.4L58.1 24.1L145.6 33.4M9.6 -149.1L40.6 -38.4L58.1 24.0L145.5 33.7M9.9 -149.1L40.7 -38.4L58.2 24.0L145.4 34.1M10.3 -149.0L40.8 -38.5L58.3 23.9L145.4 34.5M10.6 -149.0L40.9 -38.5L58.3 23.8L145.3 34.9M11.0 -149.0L41.0 -38.5L58.4 23.8L145.2 35.3M11.3 -149.0L41.1 -38.5L58.5 23.7L145.1 35.7M11.7 -148.9L41.2 -38.5L58.5 23.7L145.0 36.1M12.0 -148.9L41.3 -38.6L58.6 23.6L144.9 36.5M12.4 -148.9L41.4 -38.6L58.7 23.5L144.8 36.8M12.7 -148.9L41.5 -38.6L58.7 23.5L144.7 37.2M13.1 -148.8L41.6 -38.6L58.8 23.4L144.6 37.6M13.4 -148.8L41.7 -38.6L58.8 23.4L144.5 38.0M13.8 -148.8L41.8 -38.6L58.9 23.3L144.4 38.4M14.1 -148.7L41.9 -38.7L59.0 23.2L144.3 38.8M14.5 -148.7L42.1 -38.7L59.0 23.2L144.2 39.2M14.8 -148.7L42.2 -38.7L59.1 23.1L144.1 39.5M15.2 -148.6L42.3 -38.7L59.2 23.1L144.0 39.9M15.5 -148.6L42.4 -38.7L59.2 23.0L143.9 40.3M15.9 -148.6L42.5 -38.8L59.3 22.9L143.8 40.7M16.2 -148.5L42.6 -38.8L59.4 22.9L143.6 41.1M16.6 -148.5L42.7 -38.8L59.4 22.8L143.5 41.5M16.9 -148.4L42.8 -38.8L59.5 22.7L143.4 41.8M17.3 -148.4L42.9 -38.8L59.5 22.7L143.3 42.2M17.6 -148.4L43.0 -38.9L59.6 22.6L143.2 42.6M18.0 -148.3L43.1 -38.9L59.7 22.6L143.1 43.0M18.3 -148.3L43.2 -38.9L59.7 22.5L143.0 43.4M18.7 -148.2L43.3 -38.9L59.8 22.4L142.8 43.8M19.0 -148.2L43.4 -38.9L59.9 22.4L142.7 44.1M19.3 -148.1L43.5 -39.0L59.9 22.3L142.6 44.5M19.7 -148.1L43.6 -39.0L60.0 22.3L142.5 44.9M20.0 -148.0L43.7 -39.0L60.1 22.2L142.4 45.3M20.4 -148.0L43.8 -39.0L60.1 22.1L142.3 45.7M20.7 -148.0L43.9 -39.0L60.2 22.1L142.1 46.0M21.1 -147.9L44.0 -39.1L60.2 22.0L142.0 46.4M21.4 -147.9L44.1 -39.1L60.3 21.9L141.9 46.8M21.8 -147.8L44.2 -39.1L60.4 21.9L141.8 47.2M22.1 -147.8L44.3 -39.1L60.4 21.8L141.6 47.6M22.5 -147.7L44.4 -39.1L60.5 21.8L141.5 47.9M22.8 -147.6L44.5 -39.2L60.6 21.7L141.4 48.3M23.2 -147.6L44.6 -39.2L60.6 21.6L141.2 48.7M23.5 -147.5L44.7 -39.2L60.7 21.6L141.1 49.1M23.9 -147.5L44.8 -39.2L60.7 21.5L141.0 49.4M24.2 -147.4L44.9 -39.2L60.8 21.5L140.9 49.8M24.6 -147.4L45.0 -39.2L60.9 21.4L140.7 50.2M24.9 -147.3L45.1 -39.3L60.9 21.3L140.6 50.6M25.3 -147.3L45.2 -39.3L61.0 21.3L140.4 50.9M25.6 -147.2L45.3 -39.3L61.1 21.2L140.3 51.3M25.9 -147.1L45.4 -39.3L61.1 21.2L140.2 51.7M26.3 -147.1L45.5 -39.3L61.2 21.1L140.0 52.1M26.6 -147.0L45.6 -39.4L61.3 21.0L139.9 52.4M27.0 -146.9L45.7 -39.4L61.3 21.0L139.8 52.8M27.3 -146.9L45.8 -39.4L61.4 20.9L139.6 53.2M27.7 -146.8L45.9 -39.4L61.4 20.8L139.5 53.6M28.0 -146.7L46.0 -39.4L61.5 20.8L139.3 53.9M28.4 -146.7L46.1 -39.5L61.6 20.7L139.2 54.3M28.7 -146.6L46.2 -39.5L61.6 20.7L139.0 54.7M29.1 -146.5L46.3 -39.5L61.7 20.6L138.9 55.0M29.4 -146.5L46.4 -39.5L61.8 20.5L138.7 55.4M29.7 -146.4L46.5 -39.5L61.8 20.5L138.6 55.8M30.1 -146.3L46.6 -39.6L61.9 20.4L138.4 56.2M30.4 -146.3L46.7 -39.6L62.0 20.4L138.3 56.5M30.8 -146.2L46.8 -39.6L62.0 20.3L138.1 56.9M31.1 -146.1L46.9 -39.6L62.1 20.2L138.0 57.3M31.5 -146.1L47.0 -39.6L62.1 20.2L137.8 57.6M31.8 -146.0L47.1 -39.7L62.2 20.1L137.7 58.0M32.1 -145.9L47.2 -39.7L62.3 20.1L137.5 58.4M32.5 -145.8L47.3 -39.7L62.3 20.0L137.4 58.7M32.8 -145.7L47.4 -39.7L62.4 19.9L137.2 59.1M33.2 -145.7L47.5 -39.7L62.5 19.9L137.1 59.5M33.5 -145.6L47.6 -39.8L62.5 19.8L136.9 59.8M33.9 -145.5L47.7 -39.8L62.6 19.7L136.7 60.2M34.2 -145.4L47.8 -39.8L62.7 19.7L136.6 60.6M34.5 -145.4L47.9 -39.8L62.7 19.6L136.4 60.9M34.9 -145.3L48.0 -39.8L62.8 19.6L136.3 61.3M35.2 -145.2L48.1 -39.9L62.8 19.5L136.1 61.6M35.6 -145.1L48.2 -39.9L62.9 19.4L135.9 62.0M35.9 -145.0L48.3 -39.9L63.0 19.4L135.8 62.4M36.2 -144.9L48.4 -39.9L63.0 19.3L135.6 62.7M36.6 -144.8L48.5 -39.9L63.1 19.3L135.4 63.1M36.9 -144.8L48.6 -39.9L63.2 19.2L135.3 63.5M37.3 -144.7L48.7 -40.0L63.2 19.1L135.1 63.8M37.6 -144.6L48.8 -40.0L63.3 19.1L134.9 64.2M38.0 -144.5L48.9 -40.0L63.4 19.0L134.7 64.5M38.3 -144.4L49.0 -40.0L63.4 19.0L134.6 64.9M38.6 -144.3L49.1 -40.0L63.5 18.9L134.4 65.3M39.0 -144.2L49.2 -40.1L63.5 18.8L134.2 65.6M39.3 -144.1L49.3 -40.1L63.6 18.8L134.0 66.0M39.6 -144.0L49.4 -40.1L63.7 18.7L133.9 66.3M40.0 -143.9L49.5 -40.1L63.7 18.6L133.7 66.7M40.3 -143.9L49.6 -40.1L63.8 18.6L133.5 67.0M40.7 -143.8L49.7 -40.2L63.9 18.5L133.3 67.4M41.0 -143.7L49.8 -40.2L63.9 18.5L133.2 67.8M41.3 -143.6L49.9 -40.2L64.0 18.4L133.0 68.1M41.7 -143.5L50.0 -40.2L64.1 18.3L132.8 68.5M42.0 -143.4L50.1 -40.2L64.1 18.3L132.6 68.8M42.3 -143.3L50.2 -40.3L64.2 18.2L132.4 69.2M42.7 -143.2L50.3 -40.3L64.2 18.2L132.2 69.5M43.0 -143.1L50.4 -40.3L64.3 18.1L132.0 69.9M43.4 -143.0L50.5 -40.3L64.4 18.0L131.9 70.2M43.7 -142.9L50.6 -40.3L64.4 18.0L131.7 70.6M44.0 -142.8L50.7 -40.4L64.5 17.9L131.5 70.9M44.4 -142.7L50.8 -40.4L64.6 17.8L131.3 71.3M44.7 -142.6L50.9 -40.4L64.6 17.8L131.1 71.6M45.0 -142.5L51.0 -40.4L64.7 17.7L130.9 72.0M45.4 -142.3L51.1 -40.4L64.8 17.7L130.7 72.3M45.7 -142.2L51.3 -40.5L64.8 17.6L130.5 72.7M46.0 -142.1L51.4 -40.5L64.9 17.5L130.3 73.0M46.4 -142.0L51.5 -40.5L64.9 17.5L130.1 73.4M46.7 -141.9L51.6 -40.5L65.0 17.4L129.9 73.7M47.0 -141.8L51.7 -40.5L65.1 17.4L129.7 74.1M47.4 -141.7L51.8 -40.5L65.1 17.3L129.5 74.4M47.7 -141.6L51.9 -40.6L65.2 17.2L129.3 74.8M48.0 -141.5L52.0 -40.6L65.3 17.2L129.1 75.1M48.4 -141.4L52.1 -40.6L65.3 17.1L128.9 75.5M48.7 -141.2L52.2 -40.6L65.4 17.1L128.7 75.8M49.0 -141.1L52.3 -40.6L65.5 17.0L128.5 76.1M49.4 -141.0L52.4 -40.7L65.5 16.9L128.3 76.5M49.7 -140.9L52.5 -40.7L65.6 16.9L128.1 76.8M50.0 -140.8L52.6 -40.7L65.6 16.8L127.9 77.2M50.4 -140.7L52.7 -40.7L65.7 16.7L127.7 77.5M50.7 -140.5L52.8 -40.7L65.8 16.7L127.5 77.9M51.0 -140.4L52.9 -40.8L65.8 16.6L127.3 78.2M51.4 -140.3L53.0 -40.8L65.9 16.6L127.1 78.5M51.7 -140.2L53.1 -40.8L66.0 16.5L126.9 78.9M52.0 -140.1L53.2 -40.8L66.0 16.4L126.7 79.2M52.3 -139.9L53.3 -40.8L66.1 16.4L126.5 79.5M52.7 -139.8L53.4 -40.9L66.2 16.3L126.2 79.9M53.0 -139.7L53.5 -40.9L66.2 16.3L126.0 80.2M53.3 -139.6L53.6 -40.9L66.3 16.2L125.8 80.6M53.7 -139.4L53.7 -40.9L66.3 16.1L125.6 80.9M54.0 -139.3L53.8 -40.9L66.4 16.1L125.4 81.2M54.3 -139.2L53.9 -41.0L66.5 16.0L125.2 81.6M54.6 -139.1L54.0 -41.0L66.5 16.0L125.0 81.9M55.0 -138.9L54.1 -41.0L66.6 15.9L124.7 82.2M55.3 -138.8L54.2 -41.0L66.7 15.8L124.5 82.6M55.6 -138.7L54.3 -41.0L66.7 15.8L124.3 82.9M55.9 -138.5L54.4 -41.1L66.8 15.7L124.1 83.2M56.3 -138.4L54.5 -41.1L66.9 15.6L123.8 83.6M56.6 -138.3L54.6 -41.1L66.9 15.6L123.6 83.9M56.9 -138.1L54.7 -41.1L67.0 15.5L123.4 84.2M57.2 -138.0L54.8 -41.1L67.0 15.5L123.2 84.5M57.6 -137.9L54.9 -41.1L67.1 15.4L123.0 84.9M57.9 -137.7L55.0 -41.2L67.2 15.3L122.7 85.2M58.2 -137.6L55.1 -41.2L67.2 15.3L122.5 85.5M147.5 23.5L15.4 50.5L-39.3 57.3L-73.8 129.9M147.5 23.9L15.4 50.5L-39.3 57.3L-74.3 129.6M147.4 24.3L15.4 50.5L-39.3 57.3L-74.8 129.3M147.4 24.6L15.4 50.5L-39.3 57.3L-75.3 129.0M147.3 25.0L15.4 50.5L-39.3 57.3L-75.8 128.7M147.2 25.3L15.4 50.5L-39.3 57.3L-76.3 128.4M147.2 25.7L15.4 50.5L-39.3 57.3L-76.8 128.1M147.1 26.0L15.4 50.5L-39.3 57.4L-77.3 127.8M147.1 26.4L15.4 50.6L-39.3 57.4L-77.8 127.5M147.0 26.7L15.4 50.6L-39.3 57.4L-78.3 127.2M146.9 27.1L15.4 50.6L-39.3 57.4L-78.8 126.9M146.9 27.4L15.4 50.6L-39.3 57.4L-79.3 126.6M146.8 27.8L15.4 50.6L-39.3 57.4L-79.8 126.3M146.7 28.1L15.4 50.6L-39.3 57.4L-80.3 126.0M146.7 28.5L15.4 50.6L-39.3 57.4L-80.8 125.7M146.6 28.8L15.4 50.7L-39.3 57.5L-81.3 125.3M146.5 29.2L15.4 50.7L-39.3 57.5L-81.8 125.0M146.5 29.5L15.4 50.7L-39.3 57.5L-82.3 124.7M146.4 29.9L15.4 50.7L-39.3 57.5L-82.8 124.4M146.3 30.2L15.4 50.7L-39.3 57.5L-83.2 124.1M146.2 30.6L15.4 50.7L-39.2 57.5L-83.7 123.7M146.2 30.9L15.4 50.7L-39.2 57.5L-84.2 123.4M146.1 31.3L15.4 50.7L-39.2 57.5L-84.7 123.1M146.0 31.6L15.4 50.8L-39.2 57.6L-85.2 122.7M145.9 32.0L15.4 50.8L-39.2 57.6L-85.7 122.4M145.9 32.3L15.4 50.8L-39.2 57.6L-86.1 122.1M145.8 32.7L15.4 50.8L-39.2 57.6L-86.6 121.7M145.7 33.0L15.4 50.8L-39.2 57.6L-87.1 121.4M145.6 33.4L15.4 50.8L-39.2 57.6L-87.6 121.1M145.5 33.7L15.4 50.8L-39.2 57.6L-88.0 120.7M145.5 34.0L15.4 50.9L-39.2 57.6L-88.5 120.4M145.4 34.4L15.4 50.9L-39.2 57.7L-89.0 120.0M145.3 34.7L15.4 50.9L-39.2 57.7L-89.4 119.7M145.2 35.1L15.4 50.9L-39.2 57.7L-89.9 119.3M145.1 35.4L15.4 50.9L-39.2 57.7L-90.4 119.0M145.1 35.8L15.4 50.9L-39.2 57.7L-90.8 118.6M145.0 36.1L15.4 50.9L-39.2 57.7L-91.3 118.3M144.9 36.5L15.4 50.9L-39.2 57.7L-91.7 117.9M144.8 36.8L15.4 51.0L-39.2 57.7L-92.2 117.5M144.7 37.2L15.4 51.0L-39.2 57.8L-92.7 117.2M144.6 37.5L15.4 51.0L-39.2 57.8L-93.1 116.8M144.5 37.9L15.4 51.0L-39.2 57.8L-93.6 116.5M144.4 38.2L15.4 51.0L-39.2 57.8L-94.0 116.1M144.3 38.5L15.4 51.0L-39.2 57.8L-94.5 115.7M144.2 38.9L15.4 51.0L-39.2 57.8L-94.9 115.4M144.2 39.2L15.4 51.0L-39.1 57.8L-95.4 115.0M144.1 39.6L15.4 51.1L-39.1 57.8L-95.8 114.6M144.0 39.9L15.4 51.1L-39.1 57.9L-96.3 114.2M143.9 40.3L15.4 51.1L-39.1 57.9L-96.7 113.9M143.8 40.6L15.4 51.1L-39.1 57.9L-97.2 113.5M143.7 41.0L15.4 51.1L-39.1 57.9L-97.6 113.1M143.6 41.3L15.4 51.1L-39.1 57.9L-98.1 112.7M143.5 41.6L15.4 51.1L-39.1 57.9L-98.5 112.3M143.4 42.0L15.4 51.2L-39.1 57.9L-98.9 112.0M143.3 42.3L15.4 51.2L-39.1 57.9L-99.4 111.6M143.2 42.7L15.4 51.2L-39.1 58.0L-99.8 111.2M143.1 43.0L15.4 51.2L-39.1 58.0L-100.2 110.8M143.0 43.4L15.4 51.2L-39.1 58.0L-100.7 110.4M142.9 43.7L15.4 51.2L-39.1 58.0L-101.1 110.0M142.8 44.0L15.4 51.2L-39.1 58.0L-101.5 109.6M142.7 44.4L15.4 51.2L-39.1 58.0L-102.0 109.2M142.6 44.7L15.4 51.3L-39.1 58.0L-102.4 108.8M142.4 45.1L15.4 51.3L-39.1 58.0L-102.8 108.4M142.3 45.4L15.4 51.3L-39.1 58.1L-103.2 108.0M142.2 45.7L15.4 51.3L-39.1 58.1L-103.6 107.6M142.1 46.1L15.4 51.3L-39.1 58.1L-104.1 107.2M142.0 46.4L15.4 51.3L-39.1 58.1L-104.5 106.8M141.9 46.8L15.4 51.3L-39.1 58.1L-104.9 106.4M141.8 47.1L15.4 51.4L-39.1 58.1L-105.3 106.0M141.7 47.4L15.4 51.4L-39.0 58.1L-105.7 105.6M141.6 47.8L15.4 51.4L-39.0 58.1L-106.1 105.1M141.4 48.1L15.4 51.4L-39.0 58.2L-106.5 104.7M141.3 48.4L15.4 51.4L-39.0 58.2L-107.0 104.3M141.2 48.8L15.4 51.4L-39.0 58.2L-107.4 103.9M141.1 49.1L15.4 51.4L-39.0 58.2L-107.8 103.5M141.0 49.5L15.4 51.4L-39.0 58.2L-108.2 103.1M140.9 49.8L15.4 51.5L-39.0 58.2L-108.6 102.6M140.7 50.1L15.4 51.5L-39.0 58.2L-109.0 102.2M140.6 50.5L15.4 51.5L-39.0 58.2L-109.4 101.8M140.5 50.8L15.4 51.5L-39.0 58.3L-109.8 101.3M140.4 51.1L15.4 51.5L-39.0 58.3L-110.2 100.9M140.3 51.5L15.4 51.5L-39.0 58.3L-110.6 100.5M140.1 51.8L15.4 51.5L-39.0 58.3L-110.9 100.1M140.0 52.1L15.4 51.5L-39.0 58.3L-111.3 99.6M139.9 52.5L15.4 51.6L-39.0 58.3L-111.7 99.2M139.8 52.8L15.4 51.6L-39.0 58.3L-112.1 98.8M139.6 53.1L15.4 51.6L-39.0 58.3L-112.5 98.3M139.5 53.5L15.4 51.6L-39.0 58.4L-112.9 97.9M139.4 53.8L15.4 51.6L-39.0 58.4L-113.3 97.4M139.2 54.1L15.4 51.6L-39.0 58.4L-113.6 97.0M139.1 54.5L15.4 51.6L-39.0 58.4L-114.0 96.5M139.0 54.8L15.4 51.7L-39.0 58.4L-114.4 96.1M138.9 55.1L15.4 51.7L-39.0 58.4L-114.8 95.7M138.7 55.5L15.4 51.7L-39.0 58.4L-115.1 95.2M138.6 55.8L15.4 51.7L-38.9 58.4L-115.5 94.8M138.5 56.1L15.4 51.7L-38.9 58.5L-115.9 94.3M138.3 56.5L15.4 51.7L-38.9 58.5L-116.2 93.8M138.2 56.8L15.4 51.7L-38.9 58.5L-116.6 93.4M138.0 57.1L15.4 51.7L-38.9 58.5L-117.0 92.9M137.9 57.5L15.4 51.8L-38.9 58.5L-117.3 92.5M137.8 57.8L15.4 51.8L-38.9 58.5L-117.7 92.0M137.6 58.1L15.4 51.8L-38.9 58.5L-118.1 91.6M137.5 58.4L15.4 51.8L-38.9 58.5L-118.4 91.1M137.4 58.8L15.4 51.8L-38.9 58.6L-118.8 90.6M137.2 59.1L15.4 51.8L-38.9 58.6L-119.1 90.2M137.1 59.4L15.4 51.8L-38.9 58.6L-119.5 89.7M136.9 59.7L15.4 51.9L-38.9 58.6L-119.8 89.2M136.8 60.1L15.4 51.9L-38.9 58.6L-120.2 88.8M136.6 60.4L15.4 51.9L-38.9 58.6L-120.5 88.3M136.5 60.7L15.4 51.9L-38.9 58.6L-120.9 87.8M136.4 61.1L15.4 51.9L-38.9 58.6L-121.2 87.4M136.2 61.4L15.4 51.9L-38.9 58.7L-121.5 86.9M136.1 61.7L15.4 51.9L-38.9 58.7L-121.9 86.4M135.9 62.0L15.4 51.9L-38.9 58.7L-122.2 85.9M135.8 62.4L15.4 52.0L-38.9 58.7L-122.5 85.5M135.6 62.7L15.4 52.0L-38.9 58.7L-122.9 85.0M135.5 63.0L15.4 52.0L-38.9 58.7L-123.2 84.5M135.3 63.3L15.4 52.0L-38.9 58.7L-123.5 84.0M135.2 63.6L15.4 52.0L-38.8 58.7L-123.9 83.5M135.0 64.0L15.4 52.0L-38.8 58.8L-124.2 83.0M134.9 64.3L15.4 52.0L-38.8 58.8L-124.5 82.6M134.7 64.6L15.4 52.0L-38.8 58.8L-124.8 82.1M134.5 64.9L15.4 52.1L-38.8 58.8L-125.2 81.6M134.4 65.3L15.4 52.1L-38.8 58.8L-125.5 81.1M134.2 65.6L15.4 52.1L-38.8 58.8L-125.8 80.6M134.1 65.9L15.4 52.1L-38.8 58.8L-126.1 80.1M133.9 66.2L15.4 52.1L-38.8 58.8L-126.4 79.6M133.8 66.5L15.4 52.1L-38.8 58.9L-126.7 79.1M133.6 66.9L15.4 52.1L-38.8 58.9L-127.0 78.6M133.4 67.2L15.4 52.2L-38.8 58.9L-127.3 78.1M133.3 67.5L15.4 52.2L-38.8 58.9L-127.6 77.6M133.1 67.8L15.4 52.2L-38.8 58.9L-127.9 77.1M133.0 68.1L15.4 52.2L-38.8 58.9L-128.2 76.6M132.8 68.4L15.4 52.2L-38.8 58.9L-128.5 76.1M132.6 68.8L15.4 52.2L-38.8 58.9L-128.8 75.6M132.5 69.1L15.4 52.2L-38.8 59.0L-129.1 75.1M132.3 69.4L15.4 52.2L-38.8 59.0L-129.4 74.6M132.1 69.7L15.4 52.3L-38.8 59.0L-129.7 74.1M132.0 70.0L15.4 52.3L-38.8 59.0L-130.0 73.6M131.8 70.3L15.4 52.3L-38.8 59.0L-130.3 73.1M131.6 70.7L15.4 52.3L-38.8 59.0L-130.6 72.6M131.5 71.0L15.4 52.3L-38.8 59.0L-130.9 72.1M131.3 71.3L15.4 52.3L-38.8 59.0L-131.1 71.6M131.1 71.6L15.4 52.3L-38.7 59.1L-131.4 71.1M131.0 71.9L15.4 52.4L-38.7 59.1L-131.7 70.5M130.8 72.2L15.4 52.4L-38.7 59.1L-132.0 70.0M130.6 72.5L15.4 52.4L-38.7 59.1L-132.2 69.5M130.4 72.9L15.4 52.4L-38.7 59.1L-132.5 69.0M130.3 73.2L15.4 52.4L-38.7 59.1L-132.8 68.5M130.1 73.5L15.4 52.4L-38.7 59.1L-133.0 68.0M129.9 73.8L15.4 52.4L-38.7 59.1L-133.3 67.4M129.7 74.1L15.4 52.4L-38.7 59.2L-133.6 66.9M129.6 74.4L15.4 52.5L-38.7 59.2L-133.8 66.4M129.4 74.7L15.4 52.5L-38.7 59.2L-134.1 65.9M129.2 75.0L15.4 52.5L-38.7 59.2L-134.3 65.4M129.0 75.3L15.4 52.5L-38.7 59.2L-134.6 64.8M128.8 75.6L15.4 52.5L-38.7 59.2L-134.9 64.3M128.7 75.9L15.4 52.5L-38.7 59.2L-135.1 63.8M128.5 76.3L15.4 52.5L-38.7 59.2L-135.4 63.2M128.3 76.6L15.4 52.5L-38.7 59.3L-135.6 62.7M128.1 76.9L15.4 52.6L-38.7 59.3L-135.8 62.2M127.9 77.2L15.4 52.6L-38.7 59.3L-136.1 61.7M127.7 77.5L15.4 52.6L-38.7 59.3L-136.3 61.1M127.6 77.8L15.4 52.6L-38.7 59.3L-136.6 60.6M127.4 78.1L15.4 52.6L-38.7 59.3L-136.8 60.1M127.2 78.4L15.4 52.6L-38.7 59.3L-137.0 59.5M127.0 78.7L15.4 52.6L-38.7 59.3L-137.3 59.0M126.8 79.0L15.4 52.7L-38.6 59.4L-137.5 58.5M126.6 79.3L15.4 52.7L-38.6 59.4L-137.7 57.9M126.4 79.6L15.4 52.7L-38.6 59.4L-137.9 57.4M126.2 79.9L15.4 52.7L-38.6 59.4L-138.2 56.8M126.0 80.2L15.4 52.7L-38.6 59.4L-138.4 56.3M125.9 80.5L15.4 52.7L-38.6 59.4L-138.6 55.8M125.7 80.8L15.4 52.7L-38.6 59.4L-138.8 55.2M125.5 81.1L15.4 52.7L-38.6 59.4L-139.0 54.7M125.3 81.4L15.4 52.8L-38.6 59.5L-139.2 54.1M125.1 81.7L15.4 52.8L-38.6 59.5L-139.5 53.6M124.9 82.0L15.4 52.8L-38.6 59.5L-139.7 53.0M124.7 82.3L15.4 52.8L-38.6 59.5L-139.9 52.5M124.5 82.6L15.4 52.8L-38.6 59.5L-140.1 52.0M124.3 82.9L15.4 52.8L-38.6 59.5L-140.3 51.4M124.1 83.2L15.4 52.8L-38.6 59.5L-140.5 50.9M123.9 83.5L15.4 52.9L-38.6 59.5L-140.7 50.3M123.7 83.8L15.4 52.9L-38.6 59.6L-140.9 49.8M123.5 84.1L15.4 52.9L-38.6 59.6L-141.1 49.2M123.3 84.4L15.4 52.9L-38.6 59.6L-141.3 48.7M123.1 84.7L15.4 52.9L-38.6 59.6L-141.4 48.1M122.9 85.0L15.4 52.9L-38.6 59.6L-141.6 47.6M122.7 85.3L15.4 52.9L-38.6 59.6L-141.8 47.0M122.5 85.5L15.4 52.9L-38.6 59.6L-142.0 46.4" fill="none" stroke="#6A51A3" stroke-width="0.50" stroke-opacity="0.90" stroke-linejoin="round"/>
<path d="M58.6 -137.4L40.1 -42.1L-6.8 -14.0L-53.1 -6.6L-135.5 62.9M59.0 -137.3L40.3 -42.0L-6.8 -14.0L-53.1 -6.4L-135.7 62.5M59.4 -137.1L40.4 -41.9L-6.8 -14.0L-53.0 -6.3L-135.9 62.0M59.8 -136.9L40.5 -41.8L-6.8 -14.0L-53.0 -6.2L-136.1 61.5M60.2 -136.7L40.6 -41.7L-6.8 -14.0L-53.0 -6.0L-136.3 61.1M60.6 -136.6L40.7 -41.6L-6.8 -13.9L-52.9 -5.9L-136.5 60.6M61.0 -136.4L40.8 -41.5L-6.8 -13.9L-52.9 -5.8L-136.7 60.2M61.4 -136.2L41.0 -41.4L-6.8 -13.9L-52.8 -5.7L-136.9 59.7M61.8 -136.0L41.1 -41.3L-6.8 -13.9L-52.8 -5.5L-137.1 59.3M62.2 -135.8L41.2 -41.2L-6.8 -13.9L-52.8 -5.4L-137.3 58.8M62.6 -135.6L41.3 -41.1L-6.8 -13.9L-52.7 -5.3L-137.5 58.3M63.0 -135.5L41.4 -41.0L-6.8 -13.9L-52.7 -5.1L-137.7 57.9M63.4 -135.3L41.6 -40.9L-6.7 -13.9L-52.6 -5.0L-137.9 57.4M63.8 -135.1L41.7 -40.8L-6.7 -13.9L-52.6 -4.9L-138.1 56.9M64.2 -134.9L41.8 -40.7L-6.7 -13.8L-52.5 -4.8L-138.3 56.5M64.6 -134.7L41.9 -40.6L-6.7 -13.8L-52.5 -4.6L-138.5 56.0M65.0 -134.5L42.0 -40.5L-6.7 -13.8L-52.5 -4.5L-138.7 55.5M65.4 -134.3L42.2 -40.4L-6.7 -13.8L-52.4 -4.4L-138.9 55.1M65.8 -134.1L42.3 -40.3L-6.7 -13.8L-52.4 -4.2L-139.1 54.6M66.2 -133.9L42.4 -40.2L-6.7 -13.8L-52.3 -4.1L-139.2 54.1M66.6 -133.7L42.5 -40.1L-6.7 -13.8L-52.3 -4.0L-139.4 53.7M67.0 -133.5L42.6 -40.0L-6.7 -13.8L-52.3 -3.9L-139.6 53.2M67.4 -133.3L42.8 -39.9L-6.7 -13.8L-52.2 -3.7L-139.8 52.7M67.8 -133.1L42.9 -39.8L-6.7 -13.7L-52.2 -3.6L-140.0 52.3M68.2 -132.9L43.0 -39.7L-6.7 -13.7L-52.1 -3.5L-140.1 51.8M68.6 -132.7L43.1 -39.6L-6.7 -13.7L-52.1 -3.4L-140.3 51.3M68.9 -132.5L43.2 -39.5L-6.7 -13.7L-52.0 -3.2L-140.5 50.9M69.3 -132.3L43.4 -39.4L-6.7 -13.7L-52.0 -3.1L-140.6 50.4M69.7 -132.1L43.5 -39.3L-6.7 -13.7L-52.0 -3.0L-140.8 49.9M70.1 -131.9L43.6 -39.2L-6.7 -13.7L-51.9 -2.8L-141.0 49.4M70.5 -131.7L43.7 -39.2L-6.7 -13.7L-51.9 -2.7L-141.1 49.0M70.9 -131.5L43.8 -39.1L-6.7 -13.7L-51.8 -2.6L-141.3 48.5M71.3 -131.3L43.9 -39.0L-6.7 -13.7L-51.8 -2.5L-141.5 48.0M71.7 -131.1L44.1 -38.9L-6.7 -13.6L-51.7 -2.3L-141.6 47.5M72.1 -130.9L44.2 -38.8L-6.7 -13.6L-51.7 -2.2L-141.8 47.1M72.4 -130.7L44.3 -38.7L-6.7 -13.6L-51.7 -2.1L-141.9 46.6M72.8 -130.4L44.4 -38.6L-6.7 -13.6L-51.6 -1.9L-142.1 46.1M73.2 -130.2L44.5 -38.5L-6.6 -13.6L-51.6 -1.8L-142.3 45.6M73.6 -130.0L44.7 -38.4L-6.6 -13.6L-51.5 -1.7L-142.4 45.2M74.0 -129.8L44.8 -38.3L-6.6 -13.6L-51.5 -1.6L-142.6 44.7M74.4 -129.6L44.9 -38.2L-6.6 -13.6L-51.5 -1.4L-142.7 44.2M74.8 -129.4L45.0 -38.1L-6.6 -13.6L-51.4 -1.3L-142.9 43.7M75.1 -129.1L45.1 -38.0L-6.6 -13.5L-51.4 -1.2L-143.0 43.2M75.5 -128.9L45.3 -37.9L-6.6 -13.5L-51.3 -1.1L-143.1 42.8M75.9 -128.7L45.4 -37.8L-6.6 -13.5L-51.3 -0.9L-143.3 42.3M76.3 -128.5L45.5 -37.7L-6.6 -13.5L-51.2 -0.8L-143.4 41.8M76.7 -128.2L45.6 -37.6L-6.6 -13.5L-51.2 -0.7L-143.6 41.3M77.0 -128.0L45.7 -37.5L-6.6 -13.5L-51.2 -0.5L-143.7 40.8M77.4 -127.8L45.9 -37.4L-6.6 -13.5L-51.1 -0.4L-143.8 40.4M77.8 -127.6L46.0 -37.3L-6.6 -13.5L-51.1 -0.3L-144.0 39.9M78.2 -127.3L46.1 -37.2L-6.6 -13.5L-51.0 -0.2L-144.1 39.4M78.5 -127.1L46.2 -37.1L-6.6 -13.4L-51.0 -0.0L-144.2 38.9M78.9 -126.9L46.3 -37.0L-6.6 -13.4L-51.0 0.1L-144.4 38.4M79.3 -126.6L46.5 -36.9L-6.6 -13.4L-50.9 0.2L-144.5 37.9M79.7 -126.4L46.6 -36.8L-6.6 -13.4L-50.9 0.4L-144.6 37.5M80.0 -126.2L46.7 -36.7L-6.6 -13.4L-50.8 0.5L-144.8 37.0M80.4 -125.9L46.8 -36.6L-6.6 -13.4L-50.8 0.6L-144.9 36.5M80.8 -125.7L46.9 -36.5L-6.6 -13.4L-50.7 0.7L-145.0 36.0M81.2 -125.4L47.1 -36.4L-6.6 -13.4L-50.7 0.9L-145.1 35.5M81.5 -125.2L47.2 -36.3L-6.6 -13.4L-50.7 1.0L-145.2 35.0M81.9 -125.0L47.3 -36.2L-6.6 -13.3L-50.6 1.1L-145.4 34.5M82.3 -124.7L47.4 -36.1L-6.5 -13.3L-50.6 1.3L-145.5 34.0M82.6 -124.5L47.5 -36.0L-6.5 -13.3L-50.5 1.4L-145.6 33.6M83.0 -124.2L47.6 -35.9L-6.5 -13.3L-50.5 1.5L-145.7 33.1M83.4 -124.0L47.8 -35.8L-6.5 -13.3L-50.4 1.6L-145.8 32.6M83.7 -123.7L47.9 -35.8L-6.5 -13.3L-50.4 1.8L-145.9 32.1M84.1 -123.5L48.0 -35.7L-6.5 -13.3L-50.4 1.9L-146.0 31.6M84.5 -123.2L48.1 -35.6L-6.5 -13.3L-50.3 2.0L-146.1 31.1M84.8 -123.0L48.2 -35.5L-6.5 -13.3L-50.3 2.1L-146.2 30.6M85.2 -122.7L48.4 -35.4L-6.5 -13.3L-50.2 2.3L-146.3 30.1M85.5 -122.5L48.5 -35.3L-6.5 -13.2L-50.2 2.4L-146.4 29.6M85.9 -122.2L48.6 -35.2L-6.5 -13.2L-50.2 2.5L-146.5 29.1M86.3 -122.0L48.7 -35.1L-6.5 -13.2L-50.1 2.7L-146.6 28.7M86.6 -121.7L48.8 -35.0L-6.5 -13.2L-50.1 2.8L-146.7 28.2M87.0 -121.5L49.0 -34.9L-6.5 -13.2L-50.0 2.9L-146.8 27.7M87.3 -121.2L49.1 -34.8L-6.5 -13.2L-50.0 3.0L-146.9 27.2M87.7 -120.9L49.2 -34.7L-6.5 -13.2L-49.9 3.2L-147.0 26.7M88.1 -120.7L49.3 -34.6L-6.5 -13.2L-49.9 3.3L-147.1 26.2M88.4 -120.4L49.4 -34.5L-6.5 -13.2L-49.9 3.4L-147.2 25.7M88.8 -120.2L49.6 -34.4L-6.5 -13.1L-49.8 3.6L-147.3 25.2M89.1 -119.9L49.7 -34.3L-6.5 -13.1L-49.8 3.7L-147.3 24.7M89.5 -119.6L49.8 -34.2L-6.5 -13.1L-49.7 3.8L-147.4 24.2M89.8 -119.4L49.9 -34.1L-6.5 -13.1L-49.7 3.9L-147.5 23.7M90.2 -119.1L50.0 -34.0L-6.5 -13.1L-49.7 4.1L-147.6 23.2M90.5 -118.8L50.2 -33.9L-6.5 -13.1L-49.6 4.2L-147.7 22.7M90.9 -118.6L50.3 -33.8L-6.4 -13.1L-49.6 4.3L-147.7 22.2M91.2 -118.3L50.4 -33.7L-6.4 -13.1L-49.5 4.5L-147.8 21.7M91.6 -118.0L50.5 -33.6L-6.4 -13.1L-49.5 4.6L-147.9 21.2M91.9 -117.8L50.6 -33.5L-6.4 -13.0L-49.4 4.7L-148.0 20.7M92.3 -117.5L50.7 -33.4L-6.4 -13.0L-49.4 4.8L-148.0 20.2M92.6 -117.2L50.9 -33.3L-6.4 -13.0L-49.4 5.0L-148.1 19.7M93.0 -116.9L51.0 -33.2L-6.4 -13.0L-49.3 5.1L-148.2 19.3M93.3 -116.7L51.1 -33.1L-6.4 -13.0L-49.3 5.2L-148.2 18.8M93.7 -116.4L51.2 -33.0L-6.4 -13.0L-49.2 5.3L-148.3 18.3M94.0 -116.1L51.3 -32.9L-6.4 -13.0L-49.2 5.5L-148.3 17.8M94.3 -115.8L51.5 -32.8L-6.4 -13.0L-49.2 5.6L-148.4 17.3M94.7 -115.6L51.6 -32.7L-6.4 -13.0L-49.1 5.7L-148.5 16.8M95.0 -115.3L51.7 -32.6L-6.4 -12.9L-49.1 5.9L-148.5 16.3M95.4 -115.0L51.8 -32.5L-6.4 -12.9L-49.0 6.0L-148.6 15.8M95.7 -114.7L51.9 -32.4L-6.4 -12.9L-49.0 6.1L-148.6 15.3M96.0 -114.4L52.1 -32.4L-6.4 -12.9L-48.9 6.2L-148.7 14.8M96.4 -114.1L52.2 -32.3L-6.4 -12.9L-48.9 6.4L-148.7 14.3M96.7 -113.9L52.3 -32.2L-6.4 -12.9L-48.9 6.5L-148.8 13.8M97.1 -113.6L52.4 -32.1L-6.4 -12.9L-48.8 6.6L-148.8 13.3M97.4 -113.3L52.5 -32.0L-6.4 -12.9L-48.8 6.8L-148.9 12.8M97.7 -113.0L52.7 -31.9L-6.4 -12.9L-48.7 6.9L-148.9 12.3M98.1 -112.7L52.8 -31.8L-6.4 -12.9L-48.7 7.0L-148.9 11.8M98.4 -112.4L52.9 -31.7L-6.4 -12.8L-48.6 7.1L-149.0 11.3M98.7 -112.1L53.0 -31.6L-6.4 -12.8L-48.6 7.3L-149.0 10.8M99.1 -111.8L53.1 -31.5L-6.4 -12.8L-48.6 7.4L-149.0 10.3M99.4 -111.5L53.3 -31.4L-6.3 -12.8L-48.5 7.5L-149.1 9.8M99.7 -111.3L53.4 -31.3L-6.3 -12.8L-48.5 7.6L-149.1 9.3M100.0 -111.0L53.5 -31.2L-6.3 -12.8L-48.4 7.8L-149.1 8.8M100.4 -110.7L53.6 -31.1L-6.3 -12.8L-48.4 7.9L-149.2 8.3M100.7 -110.4L53.7 -31.0L-6.3 -12.8L-48.4 8.0L-149.2 7.8M101.0 -110.1L53.8 -30.9L-6.3 -12.8L-48.3 8.2L-149.2 7.3M101.3 -109.8L54.0 -30.8L-6.3 -12.7L-48.3 8.3L-149.2 6.8M101.7 -109.5L54.1 -30.7L-6.3 -12.7L-48.2 8.4L-149.3 6.3M102.0 -109.2L54.2 -30.6L-6.3 -12.7L-48.2 8.5L-149.3 5.8M102.3 -108.9L54.3 -30.5L-6.3 -12.7L-48.1 8.7L-149.3 5.3M102.6 -108.6L54.4 -30.4L-6.3 -12.7L-48.1 8.8L-149.3 4.8M103.0 -108.3L54.6 -30.3L-6.3 -12.7L-48.1 8.9L-149.3 4.3M103.3 -108.0L54.7 -30.2L-6.3 -12.7L-48.0 9.1L-149.4 3.8M103.6 -107.7L54.8 -30.1L-6.3 -12.7L-48.0 9.2L-149.4 3.3M103.9 -107.3L54.9 -30.0L-6.3 -12.7L-47.9 9.3L-149.4 2.8M104.2 -107.0L55.0 -29.9L-6.3 -12.6L-47.9 9.4L-149.4 2.3M104.5 -106.7L55.2 -29.8L-6.3 -12.6L-47.9 9.6L-149.4 1.8M104.9 -106.4L55.3 -29.7L-6.3 -12.6L-47.8 9.7L-149.4 1.3M105.2 -106.1L55.4 -29.6L-6.3 -12.6L-47.8 9.8L-149.4 0.8M105.5 -105.8L55.5 -29.5L-6.3 -12.6L-47.7 10.0L-149.4 0.3M-62.0 -135.9C-61.2 -130.4 -60.6 -113.3 -57.3 -103.7C-53.9 -94.1 -43.6 -88.2 -42.4 -79.5C-41.1 -70.8 -44.1 -59.9 -49.8 -52.6C-55.6 -45.3 -65.3 -40.5 -76.2 -36.6C-87.2 -32.8 -102.2 -32.1 -114.3 -29.9C-126.4 -27.8 -141.8 -24.9 -147.5 -23.9M-59.7 -137.0C-59.0 -131.4 -59.0 -113.7 -56.0 -103.9C-53.1 -94.2 -43.2 -88.3 -42.1 -79.5C-41.0 -70.8 -43.9 -59.8 -49.6 -52.4C-55.4 -45.1 -65.2 -40.3 -76.2 -36.4C-87.1 -32.5 -102.2 -31.6 -114.3 -29.7C-126.4 -27.7 -141.7 -25.7 -147.3 -24.9M-57.3 -138.0C-56.9 -132.2 -57.4 -114.1 -54.8 -104.2C-52.2 -94.2 -42.8 -88.3 -41.9 -79.5C-41.0 -70.7 -43.6 -59.7 -49.4 -52.3C-55.3 -44.9 -65.1 -40.0 -76.1 -36.2C-87.1 -32.3 -102.2 -31.2 -114.3 -29.4C-126.4 -27.7 -141.5 -26.5 -147.1 -25.9M-55.0 -138.9C-54.7 -133.1 -55.9 -114.5 -53.6 -104.4C-51.3 -94.3 -42.4 -88.4 -41.6 -79.5C-40.9 -70.7 -43.4 -59.5 -49.3 -52.1C-55.1 -44.7 -64.9 -39.8 -76.0 -35.9C-87.0 -32.0 -102.2 -30.7 -114.2 -29.2C-126.3 -27.7 -141.4 -27.3 -146.9 -27.0M-52.6 -139.8C-52.6 -133.9 -54.3 -114.9 -52.4 -104.7C-50.5 -94.4 -41.9 -88.5 -41.4 -79.6C-40.8 -70.6 -43.2 -59.4 -49.1 -52.0C-54.9 -44.5 -64.8 -39.6 -75.9 -35.7C-87.0 -31.8 -102.2 -30.2 -114.2 -28.9C-126.3 -27.6 -141.2 -28.2 -146.8 -28.0M-50.2 -140.7C-50.4 -134.6 -52.7 -115.3 -51.1 -104.9C-49.6 -94.5 -41.5 -88.6 -41.1 -79.6C-40.7 -70.5 -43.0 -59.3 -48.9 -51.8C-54.8 -44.3 -64.7 -39.4 -75.8 -35.4C-86.9 -31.5 -102.2 -29.8 -114.2 -28.7C-126.2 -27.6 -141.1 -29.0 -146.6 -29.0M-47.8 -141.5C-48.2 -135.4 -51.1 -115.7 -49.9 -105.2C-48.7 -94.6 -41.1 -88.7 -40.9 -79.6C-40.7 -70.5 -42.7 -59.2 -48.7 -51.7C-54.6 -44.1 -64.6 -39.2 -75.7 -35.2C-86.9 -31.3 -102.2 -29.3 -114.2 -28.4C-126.2 -27.6 -140.9 -29.8 -146.3 -30.0M-45.4 -142.3C-46.0 -136.1 -49.5 -116.1 -48.7 -105.4C-47.9 -94.8 -40.7 -88.8 -40.6 -79.6C-40.6 -70.4 -42.5 -59.1 -48.5 -51.5C-54.4 -43.9 -64.5 -38.9 -75.7 -35.0C-86.8 -31.0 -102.1 -28.8 -114.1 -28.2C-126.1 -27.5 -140.7 -30.6 -146.1 -31.1M-62.0 -135.9L-48.0 -112.7L-12.8 -51.8L24.1 48.8L69.1 132.4M-59.7 -137.0L-46.9 -113.2L-12.6 -51.9L24.7 48.5L67.1 133.5M-57.3 -138.0L-45.7 -113.7L-12.4 -51.9L25.3 48.3L65.1 134.5M-55.0 -138.9L-44.6 -114.3L-12.2 -52.0L25.8 48.1L63.0 135.5M-52.6 -139.8L-43.5 -114.8L-12.1 -52.1L26.4 47.8L60.9 136.4M-50.2 -140.7L-42.4 -115.4L-11.9 -52.2L27.0 47.6L58.8 137.3M-47.8 -141.5L-41.2 -115.9L-11.7 -52.2L27.6 47.4L56.7 138.2M-45.4 -142.3L-40.1 -116.4L-11.5 -52.3L28.2 47.1L54.6 139.1" fill="none" stroke="#6A51A3" stroke-width="0.50" stroke-opacity="0.80" stroke-linejoin="round"/>
<path d="M105.8 -105.5L51.4 -37.6L-6.7 -14.0L-53.8 -8.2L-145.0 35.9M106.0 -105.3L51.4 -37.5L-6.7 -14.0L-53.8 -8.1L-145.1 35.6M106.3 -105.0L51.4 -37.4L-6.7 -14.0L-53.8 -8.0L-145.2 35.2M106.5 -104.7L51.5 -37.4L-6.7 -14.0L-53.8 -7.9L-145.3 34.8M106.8 -104.5L51.5 -37.3L-6.7 -14.0L-53.8 -7.9L-145.4 34.4M107.1 -104.2L51.5 -37.2L-6.7 -14.0L-53.8 -7.8L-145.5 34.0M107.3 -103.9L51.6 -37.2L-6.7 -14.0L-53.7 -7.7L-145.6 33.6M107.6 -103.7L51.6 -37.1L-6.7 -14.0L-53.7 -7.6L-145.7 33.2M107.8 -103.4L51.6 -37.0L-6.7 -13.9L-53.7 -7.5L-145.7 32.8M108.1 -103.2L51.7 -37.0L-6.7 -13.9L-53.7 -7.4L-145.8 32.5M108.3 -102.9L51.7 -36.9L-6.7 -13.9L-53.7 -7.3L-145.9 32.1M108.6 -102.6L51.7 -36.8L-6.7 -13.9L-53.7 -7.2L-146.0 31.7M108.8 -102.4L51.8 -36.8L-6.7 -13.9L-53.7 -7.2L-146.1 31.3M109.1 -102.1L51.8 -36.7L-6.7 -13.9L-53.7 -7.1L-146.2 30.9M109.3 -101.8L51.8 -36.7L-6.7 -13.9L-53.7 -7.0L-146.3 30.5M109.6 -101.5L51.9 -36.6L-6.7 -13.9L-53.7 -6.9L-146.3 30.1M109.8 -101.3L51.9 -36.5L-6.7 -13.9L-53.6 -6.8L-146.4 29.7M110.1 -101.0L51.9 -36.5L-6.7 -13.9L-53.6 -6.7L-146.5 29.3M110.3 -100.7L52.0 -36.4L-6.7 -13.9L-53.6 -6.6L-146.6 28.9M110.6 -100.5L52.0 -36.3L-6.7 -13.9L-53.6 -6.5L-146.6 28.6M110.8 -100.2L52.0 -36.3L-6.7 -13.8L-53.6 -6.5L-146.7 28.2M111.1 -99.9L52.1 -36.2L-6.7 -13.8L-53.6 -6.4L-146.8 27.8M111.3 -99.7L52.1 -36.1L-6.7 -13.8L-53.6 -6.3L-146.9 27.4M111.6 -99.4L52.1 -36.1L-6.7 -13.8L-53.6 -6.2L-146.9 27.0M111.8 -99.1L52.2 -36.0L-6.7 -13.8L-53.6 -6.1L-147.0 26.6M112.0 -98.8L52.2 -35.9L-6.7 -13.8L-53.6 -6.0L-147.1 26.2M112.3 -98.6L52.2 -35.9L-6.7 -13.8L-53.6 -5.9L-147.2 25.8M112.5 -98.3L52.3 -35.8L-6.7 -13.8L-53.5 -5.8L-147.2 25.4M112.8 -98.0L52.3 -35.7L-6.7 -13.8L-53.5 -5.8L-147.3 25.0M113.0 -97.7L52.3 -35.7L-6.7 -13.8L-53.5 -5.7L-147.4 24.6M113.2 -97.4L52.4 -35.6L-6.7 -13.8L-53.5 -5.6L-147.4 24.2M113.5 -97.2L52.4 -35.5L-6.7 -13.8L-53.5 -5.5L-147.5 23.8M113.7 -96.9L52.4 -35.5L-6.7 -13.7L-53.5 -5.4L-147.5 23.4M114.0 -96.6L52.5 -35.4L-6.7 -13.7L-53.5 -5.3L-147.6 23.1M114.2 -96.3L52.5 -35.3L-6.7 -13.7L-53.5 -5.2L-147.7 22.7M114.4 -96.1L52.5 -35.3L-6.7 -13.7L-53.5 -5.1L-147.7 22.3M114.7 -95.8L52.6 -35.2L-6.7 -13.7L-53.5 -5.1L-147.8 21.9M114.9 -95.5L52.6 -35.2L-6.7 -13.7L-53.4 -5.0L-147.8 21.5M115.1 -95.2L52.6 -35.1L-6.6 -13.7L-53.4 -4.9L-147.9 21.1M115.4 -94.9L52.7 -35.0L-6.6 -13.7L-53.4 -4.8L-148.0 20.7M115.6 -94.6L52.7 -35.0L-6.6 -13.7L-53.4 -4.7L-148.0 20.3M115.8 -94.4L52.7 -34.9L-6.6 -13.7L-53.4 -4.6L-148.1 19.9M116.1 -94.1L52.8 -34.8L-6.6 -13.7L-53.4 -4.5L-148.1 19.5M116.3 -93.8L52.8 -34.8L-6.6 -13.7L-53.4 -4.4L-148.2 19.1M116.5 -93.5L52.8 -34.7L-6.6 -13.6L-53.4 -4.4L-148.2 18.7M116.8 -93.2L52.9 -34.6L-6.6 -13.6L-53.4 -4.3L-148.3 18.3M117.0 -92.9L52.9 -34.6L-6.6 -13.6L-53.4 -4.2L-148.3 17.9M117.2 -92.6L52.9 -34.5L-6.6 -13.6L-53.3 -4.1L-148.4 17.5M117.4 -92.4L53.0 -34.4L-6.6 -13.6L-53.3 -4.0L-148.4 17.1M117.7 -92.1L53.0 -34.4L-6.6 -13.6L-53.3 -3.9L-148.5 16.7M117.9 -91.8L53.0 -34.3L-6.6 -13.6L-53.3 -3.8L-148.5 16.3M118.1 -91.5L53.1 -34.2L-6.6 -13.6L-53.3 -3.7L-148.5 15.9M118.3 -91.2L53.1 -34.2L-6.6 -13.6L-53.3 -3.7L-148.6 15.5M118.6 -90.9L53.1 -34.1L-6.6 -13.6L-53.3 -3.6L-148.6 15.1M118.8 -90.6L53.2 -34.0L-6.6 -13.6L-53.3 -3.5L-148.7 14.7M119.0 -90.3L53.2 -34.0L-6.6 -13.5L-53.3 -3.4L-148.7 14.3M119.2 -90.0L53.2 -33.9L-6.6 -13.5L-53.3 -3.3L-148.7 14.0M119.4 -89.7L53.3 -33.8L-6.6 -13.5L-53.2 -3.2L-148.8 13.6M119.7 -89.4L53.3 -33.8L-6.6 -13.5L-53.2 -3.1L-148.8 13.2M119.9 -89.1L53.3 -33.7L-6.6 -13.5L-53.2 -3.0L-148.9 12.8M120.1 -88.9L53.4 -33.6L-6.6 -13.5L-53.2 -2.9L-148.9 12.4M120.3 -88.6L53.4 -33.6L-6.6 -13.5L-53.2 -2.9L-148.9 12.0M120.5 -88.3L53.4 -33.5L-6.6 -13.5L-53.2 -2.8L-149.0 11.6M120.8 -88.0L53.5 -33.5L-6.6 -13.5L-53.2 -2.7L-149.0 11.2M121.0 -87.7L53.5 -33.4L-6.6 -13.5L-53.2 -2.6L-149.0 10.8M121.2 -87.4L53.5 -33.3L-6.6 -13.5L-53.2 -2.5L-149.0 10.4M121.4 -87.1L53.6 -33.3L-6.6 -13.5L-53.2 -2.4L-149.1 10.0M121.6 -86.8L53.6 -33.2L-6.6 -13.4L-53.2 -2.3L-149.1 9.6M121.8 -86.5L53.6 -33.1L-6.6 -13.4L-53.1 -2.2L-149.1 9.2M122.0 -86.2L53.7 -33.1L-6.6 -13.4L-53.1 -2.2L-149.1 8.8M122.2 -85.9L53.7 -33.0L-6.6 -13.4L-53.1 -2.1L-149.2 8.4M122.5 -85.6L53.7 -32.9L-6.6 -13.4L-53.1 -2.0L-149.2 8.0M122.7 -85.3L53.8 -32.9L-6.6 -13.4L-53.1 -1.9L-149.2 7.6M122.9 -85.0L53.8 -32.8L-6.6 -13.4L-53.1 -1.8L-149.2 7.2M123.1 -84.7L53.9 -32.7L-6.6 -13.4L-53.1 -1.7L-149.2 6.8M123.3 -84.4L53.9 -32.7L-6.6 -13.4L-53.1 -1.6L-149.3 6.4M123.5 -84.1L53.9 -32.6L-6.6 -13.4L-53.1 -1.5L-149.3 6.0M123.7 -83.8L54.0 -32.5L-6.6 -13.4L-53.1 -1.5L-149.3 5.6M123.9 -83.5L54.0 -32.5L-6.5 -13.4L-53.0 -1.4L-149.3 5.2M124.1 -83.2L54.0 -32.4L-6.5 -13.3L-53.0 -1.3L-149.3 4.8M124.3 -82.9L54.1 -32.3L-6.5 -13.3L-53.0 -1.2L-149.3 4.4M124.5 -82.6L54.1 -32.3L-6.5 -13.3L-53.0 -1.1L-149.3 4.0M124.7 -82.2L54.1 -32.2L-6.5 -13.3L-53.0 -1.0L-149.4 3.6M124.9 -81.9L54.2 -32.1L-6.5 -13.3L-53.0 -0.9L-149.4 3.2M125.1 -81.6L54.2 -32.1L-6.5 -13.3L-53.0 -0.8L-149.4 2.8M125.3 -81.3L54.2 -32.0L-6.5 -13.3L-53.0 -0.8L-149.4 2.4M125.5 -81.0L54.3 -32.0L-6.5 -13.3L-53.0 -0.7L-149.4 2.0M125.7 -80.7L54.3 -31.9L-6.5 -13.3L-53.0 -0.6L-149.4 1.6M125.9 -80.4L54.3 -31.8L-6.5 -13.3L-52.9 -0.5L-149.4 1.2M126.1 -80.1L54.4 -31.8L-6.5 -13.3L-52.9 -0.4L-149.4 0.8M126.3 -79.8L54.4 -31.7L-6.5 -13.3L-52.9 -0.3L-149.4 0.4M126.5 -79.5L54.4 -31.6L-6.5 -13.2L-52.9 -0.2L-149.4 0.0M126.7 -79.2L54.5 -31.6L-6.5 -13.2L-52.9 -0.1L-149.4 -0.4M126.9 -78.8L54.5 -31.5L-6.5 -13.2L-52.9 -0.1L-149.4 -0.8M127.1 -78.5L54.5 -31.4L-6.5 -13.2L-52.9 0.0L-149.4 -1.2M127.3 -78.2L54.6 -31.4L-6.5 -13.2L-52.9 0.1L-149.4 -1.6M127.5 -77.9L54.6 -31.3L-6.5 -13.2L-52.9 0.2L-149.4 -2.0M127.7 -77.6L54.6 -31.2L-6.5 -13.2L-52.9 0.3L-149.4 -2.4M127.9 -77.3L54.7 -31.2L-6.5 -13.2L-52.8 0.4L-149.4 -2.8M128.0 -77.0L54.7 -31.1L-6.5 -13.2L-52.8 0.5L-149.4 -3.2M128.2 -76.7L54.7 -31.0L-6.5 -13.2L-52.8 0.6L-149.4 -3.6M128.4 -76.3L54.8 -31.0L-6.5 -13.2L-52.8 0.6L-149.3 -4.0M128.6 -76.0L54.8 -30.9L-6.5 -13.2L-52.8 0.7L-149.3 -4.4M128.8 -75.7L54.8 -30.8L-6.5 -13.1L-52.8 0.8L-149.3 -4.8M129.0 -75.4L54.9 -30.8L-6.5 -13.1L-52.8 0.9L-149.3 -5.2M129.2 -75.1L54.9 -30.7L-6.5 -13.1L-52.8 1.0L-149.3 -5.6M129.3 -74.8L54.9 -30.6L-6.5 -13.1L-52.8 1.1L-149.3 -6.0M129.5 -74.4L55.0 -30.6L-6.5 -13.1L-52.8 1.2L-149.3 -6.4M129.7 -74.1L55.0 -30.5L-6.5 -13.1L-52.8 1.3L-149.2 -6.8M129.9 -73.8L55.0 -30.5L-6.5 -13.1L-52.7 1.3L-149.2 -7.2M130.1 -73.5L55.1 -30.4L-6.5 -13.1L-52.7 1.4L-149.2 -7.6M130.3 -73.2L55.1 -30.3L-6.5 -13.1L-52.7 1.5L-149.2 -8.0M130.4 -72.8L55.1 -30.3L-6.5 -13.1L-52.7 1.6L-149.2 -8.4M130.6 -72.5L55.2 -30.2L-6.5 -13.1L-52.7 1.7L-149.1 -8.8M130.8 -72.2L55.2 -30.1L-6.5 -13.1L-52.7 1.8L-149.1 -9.2M131.0 -71.9L55.2 -30.1L-6.5 -13.0L-52.7 1.9L-149.1 -9.5M131.1 -71.6L55.3 -30.0L-6.5 -13.0L-52.7 2.0L-149.1 -9.9M131.3 -71.2L55.3 -29.9L-6.5 -13.0L-52.7 2.1L-149.0 -10.3M131.5 -70.9L55.3 -29.9L-6.5 -13.0L-52.7 2.1L-149.0 -10.7M131.7 -70.6L55.4 -29.8L-6.4 -13.0L-52.6 2.2L-149.0 -11.1M131.8 -70.3L55.4 -29.7L-6.4 -13.0L-52.6 2.3L-149.0 -11.5M132.0 -70.0L55.4 -29.7L-6.4 -13.0L-52.6 2.4L-148.9 -11.9M132.2 -69.6L55.5 -29.6L-6.4 -13.0L-52.6 2.5L-148.9 -12.3M132.4 -69.3L55.5 -29.5L-6.4 -13.0L-52.6 2.6L-148.9 -12.7M132.5 -69.0L55.5 -29.5L-6.4 -13.0L-52.6 2.7L-148.8 -13.1M132.7 -68.7L55.6 -29.4L-6.4 -13.0L-52.6 2.8L-148.8 -13.5M132.9 -68.3L55.6 -29.3L-6.4 -12.9L-52.6 2.8L-148.7 -13.9M133.0 -68.0L55.6 -29.3L-6.4 -12.9L-52.6 2.9L-148.7 -14.3M133.2 -67.7L55.7 -29.2L-6.4 -12.9L-52.6 3.0L-148.7 -14.7M133.4 -67.3L55.7 -29.1L-6.4 -12.9L-52.5 3.1L-148.6 -15.1M133.5 -67.0L55.7 -29.1L-6.4 -12.9L-52.5 3.2L-148.6 -15.5M133.7 -66.7L55.8 -29.0L-6.4 -12.9L-52.5 3.3L-148.6 -15.9M133.9 -66.4L55.8 -28.9L-6.4 -12.9L-52.5 3.4L-148.5 -16.3M134.0 -66.0L55.8 -28.9L-6.4 -12.9L-52.5 3.5L-148.5 -16.7M134.2 -65.7L55.9 -28.8L-6.4 -12.9L-52.5 3.5L-148.4 -17.1M134.3 -65.4L55.9 -28.8L-6.4 -12.9L-52.5 3.6L-148.4 -17.5M134.5 -65.0L55.9 -28.7L-6.4 -12.9L-52.5 3.7L-148.3 -17.9M134.7 -64.7L56.0 -28.6L-6.4 -12.9L-52.5 3.8L-148.3 -18.3M134.8 -64.4L56.0 -28.6L-6.4 -12.8L-52.5 3.9L-148.2 -18.7M135.0 -64.1L56.0 -28.5L-6.4 -12.8L-52.4 4.0L-148.2 -19.1M135.1 -63.7L56.1 -28.4L-6.4 -12.8L-52.4 4.1L-148.1 -19.5M135.3 -63.4L56.1 -28.4L-6.4 -12.8L-52.4 4.2L-148.1 -19.9M135.4 -63.1L56.1 -28.3L-6.4 -12.8L-52.4 4.2L-148.0 -20.3M135.6 -62.7L56.2 -28.2L-6.4 -12.8L-52.4 4.3L-148.0 -20.7M135.7 -62.4L56.2 -28.2L-6.4 -12.8L-52.4 4.4L-147.9 -21.1M135.9 -62.1L56.3 -28.1L-6.4 -12.8L-52.4 4.5L-147.9 -21.4M136.1 -61.7L56.3 -28.0L-6.4 -12.8L-52.4 4.6L-147.8 -21.8M136.2 -61.4L56.3 -28.0L-6.4 -12.8L-52.4 4.7L-147.7 -22.2M136.4 -61.1L56.4 -27.9L-6.4 -12.8L-52.4 4.8L-147.7 -22.6M136.5 -60.7L56.4 -27.8L-6.4 -12.8L-52.4 4.9L-147.6 -23.0M136.7 -60.4L56.4 -27.8L-6.4 -12.7L-52.3 4.9L-147.6 -23.4M136.8 -60.1L56.5 -27.7L-6.4 -12.7L-52.3 5.0L-147.5 -23.8M136.9 -59.7L56.5 -27.6L-6.4 -12.7L-52.3 5.1L-147.4 -24.2M137.1 -59.4L56.5 -27.6L-6.4 -12.7L-52.3 5.2L-147.4 -24.6M137.2 -59.0L56.6 -27.5L-6.4 -12.7L-52.3 5.3L-147.3 -25.0M137.4 -58.7L56.6 -27.4L-6.4 -12.7L-52.3 5.4L-147.2 -25.4M137.5 -58.4L56.6 -27.4L-6.4 -12.7L-52.3 5.5L-147.2 -25.8M137.7 -58.0L56.7 -27.3L-6.4 -12.7L-52.3 5.6L-147.1 -26.2M137.8 -57.7L56.7 -27.3L-6.4 -12.7L-52.3 5.6L-147.0 -26.6M138.0 -57.4L56.7 -27.2L-6.3 -12.7L-52.3 5.7L-146.9 -27.0M138.1 -57.0L56.8 -27.1L-6.3 -12.7L-52.2 5.8L-146.9 -27.3M138.2 -56.7L56.8 -27.1L-6.3 -12.7L-52.2 5.9L-146.8 -27.7M138.4 -56.3L56.8 -27.0L-6.3 -12.6L-52.2 6.0L-146.7 -28.1M138.5 -56.0L56.9 -26.9L-6.3 -12.6L-52.2 6.1L-146.7 -28.5M138.6 -55.7L56.9 -26.9L-6.3 -12.6L-52.2 6.2L-146.6 -28.9M138.8 -55.3L56.9 -26.8L-6.3 -12.6L-52.2 6.3L-146.5 -29.3M138.9 -55.0L57.0 -26.7L-6.3 -12.6L-52.2 6.3L-146.4 -29.7M139.1 -54.6L57.0 -26.7L-6.3 -12.6L-52.2 6.4L-146.3 -30.1M139.2 -54.3L57.0 -26.6L-6.3 -12.6L-52.2 6.5L-146.3 -30.5M139.3 -54.0L57.1 -26.5L-6.3 -12.6L-52.2 6.6L-146.2 -30.9M91.9 117.8L2.6 57.7L-30.2 29.1L-53.7 4.4L-140.5 50.8M91.6 118.0L2.6 57.7L-30.3 29.1L-53.7 4.6L-140.7 50.3M91.4 118.2L2.6 57.7L-30.3 29.1L-53.7 4.7L-140.9 49.8M91.2 118.4L2.5 57.8L-30.3 29.1L-53.7 4.9L-141.0 49.3M90.9 118.5L2.5 57.8L-30.3 29.1L-53.8 5.0L-141.2 48.7M90.7 118.7L2.5 57.8L-30.3 29.2L-53.8 5.2L-141.4 48.2M90.5 118.9L2.5 57.8L-30.3 29.2L-53.8 5.3L-141.6 47.7M90.2 119.1L2.5 57.8L-30.3 29.2L-53.8 5.5L-141.8 47.2M90.0 119.3L2.5 57.8L-30.4 29.2L-53.9 5.6L-141.9 46.6M89.8 119.4L2.5 57.8L-30.4 29.2L-53.9 5.8L-142.1 46.1M89.5 119.6L2.5 57.8L-30.4 29.2L-53.9 5.9L-142.3 45.6M89.3 119.8L2.5 57.8L-30.4 29.3L-53.9 6.1L-142.4 45.0M89.0 120.0L2.5 57.8L-30.4 29.3L-54.0 6.2L-142.6 44.5M88.8 120.1L2.5 57.9L-30.4 29.3L-54.0 6.4L-142.8 44.0M88.6 120.3L2.4 57.9L-30.4 29.3L-54.0 6.5L-142.9 43.4M88.3 120.5L2.4 57.9L-30.5 29.3L-54.0 6.7L-143.1 42.9M88.1 120.7L2.4 57.9L-30.5 29.4L-54.1 6.8L-143.3 42.4M87.9 120.8L2.4 57.9L-30.5 29.4L-54.1 6.9L-143.4 41.8M87.6 121.0L2.4 57.9L-30.5 29.4L-54.1 7.1L-143.6 41.3M87.4 121.2L2.4 57.9L-30.5 29.4L-54.1 7.2L-143.7 40.8M87.1 121.4L2.4 57.9L-30.5 29.4L-54.2 7.4L-143.9 40.2M86.9 121.5L2.4 57.9L-30.5 29.5L-54.2 7.5L-144.0 39.7M86.7 121.7L2.4 57.9L-30.6 29.5L-54.2 7.7L-144.2 39.2M86.4 121.9L2.4 58.0L-30.6 29.5L-54.2 7.8L-144.3 38.6M86.2 122.0L2.4 58.0L-30.6 29.5L-54.3 8.0L-144.5 38.1M85.9 122.2L2.3 58.0L-30.6 29.5L-54.3 8.1L-144.6 37.6M85.7 122.4L2.3 58.0L-30.6 29.5L-54.3 8.3L-144.7 37.0M85.4 122.6L2.3 58.0L-30.6 29.6L-54.3 8.4L-144.9 36.5M85.2 122.7L2.3 58.0L-30.6 29.6L-54.4 8.6L-145.0 35.9M85.0 122.9L2.3 58.0L-30.7 29.6L-54.4 8.7L-145.1 35.4M84.7 123.1L2.3 58.0L-30.7 29.6L-54.4 8.9L-145.3 34.9M84.5 123.2L2.3 58.0L-30.7 29.6L-54.4 9.0L-145.4 34.3M84.2 123.4L2.3 58.0L-30.7 29.7L-54.5 9.2L-145.5 33.8M84.0 123.6L2.3 58.0L-30.7 29.7L-54.5 9.3L-145.7 33.2M83.7 123.7L2.3 58.1L-30.7 29.7L-54.5 9.5L-145.8 32.7M83.5 123.9L2.3 58.1L-30.7 29.7L-54.5 9.6L-145.9 32.1M83.2 124.1L2.2 58.1L-30.7 29.7L-54.6 9.8L-146.0 31.6M83.0 124.2L2.2 58.1L-30.8 29.7L-54.6 9.9L-146.1 31.1M82.8 124.4L2.2 58.1L-30.8 29.8L-54.6 10.1L-146.2 30.5M82.5 124.5L2.2 58.1L-30.8 29.8L-54.6 10.2L-146.4 30.0M82.3 124.7L2.2 58.1L-30.8 29.8L-54.7 10.3L-146.5 29.4M82.0 124.9L2.2 58.1L-30.8 29.8L-54.7 10.5L-146.6 28.9M81.8 125.0L2.2 58.1L-30.8 29.8L-54.7 10.6L-146.7 28.3M81.5 125.2L2.2 58.1L-30.8 29.9L-54.7 10.8L-146.8 27.8M81.3 125.4L2.2 58.2L-30.9 29.9L-54.8 10.9L-146.9 27.2M81.0 125.5L2.2 58.2L-30.9 29.9L-54.8 11.1L-147.0 26.7M80.8 125.7L2.2 58.2L-30.9 29.9L-54.8 11.2L-147.1 26.1M80.5 125.8L2.1 58.2L-30.9 29.9L-54.8 11.4L-147.2 25.6M80.3 126.0L2.1 58.2L-30.9 30.0L-54.9 11.5L-147.3 25.1M80.0 126.2L2.1 58.2L-30.9 30.0L-54.9 11.7L-147.4 24.5M79.8 126.3L2.1 58.2L-30.9 30.0L-54.9 11.8L-147.5 24.0M79.5 126.5L2.1 58.2L-31.0 30.0L-54.9 12.0L-147.6 23.4M79.3 126.6L2.1 58.2L-31.0 30.0L-55.0 12.1L-147.6 22.9M79.0 126.8L2.1 58.2L-31.0 30.0L-55.0 12.3L-147.7 22.3M78.8 126.9L2.1 58.3L-31.0 30.1L-55.0 12.4L-147.8 21.8M78.5 127.1L2.1 58.3L-31.0 30.1L-55.0 12.6L-147.9 21.2M78.3 127.3L2.1 58.3L-31.0 30.1L-55.1 12.7L-148.0 20.7M78.0 127.4L2.0 58.3L-31.0 30.1L-55.1 12.9L-148.0 20.1M77.8 127.6L2.0 58.3L-31.1 30.1L-55.1 13.0L-148.1 19.6M77.5 127.7L2.0 58.3L-31.1 30.2L-55.1 13.2L-148.2 19.0M77.3 127.9L2.0 58.3L-31.1 30.2L-55.2 13.3L-148.3 18.4M77.0 128.0L2.0 58.3L-31.1 30.2L-55.2 13.5L-148.3 17.9M76.8 128.2L2.0 58.3L-31.1 30.2L-55.2 13.6L-148.4 17.3M76.5 128.3L2.0 58.3L-31.1 30.2L-55.2 13.7L-148.5 16.8M76.3 128.5L2.0 58.3L-31.1 30.3L-55.3 13.9L-148.5 16.2M76.0 128.6L2.0 58.4L-31.2 30.3L-55.3 14.0L-148.6 15.7M75.7 128.8L2.0 58.4L-31.2 30.3L-55.3 14.2L-148.6 15.1M75.5 128.9L2.0 58.4L-31.2 30.3L-55.3 14.3L-148.7 14.6M75.2 129.1L1.9 58.4L-31.2 30.3L-55.4 14.5L-148.7 14.0M75.0 129.2L1.9 58.4L-31.2 30.3L-55.4 14.6L-148.8 13.5M74.7 129.4L1.9 58.4L-31.2 30.4L-55.4 14.8L-148.8 12.9M74.5 129.5L1.9 58.4L-31.2 30.4L-55.4 14.9L-148.9 12.4M74.2 129.7L1.9 58.4L-31.3 30.4L-55.5 15.1L-148.9 11.8M74.0 129.8L1.9 58.4L-31.3 30.4L-55.5 15.2L-149.0 11.3M73.7 130.0L1.9 58.4L-31.3 30.4L-55.5 15.4L-149.0 10.7M73.4 130.1L1.9 58.5L-31.3 30.5L-55.5 15.5L-149.1 10.1M73.2 130.2L1.9 58.5L-31.3 30.5L-55.6 15.7L-149.1 9.6M72.9 130.4L1.9 58.5L-31.3 30.5L-55.6 15.8L-149.1 9.0M72.7 130.5L1.9 58.5L-31.3 30.5L-55.6 16.0L-149.2 8.5M72.4 130.7L1.8 58.5L-31.4 30.5L-55.6 16.1L-149.2 7.9M72.1 130.8L1.8 58.5L-31.4 30.6L-55.7 16.3L-149.2 7.4M71.9 131.0L1.8 58.5L-31.4 30.6L-55.7 16.4L-149.2 6.8M71.6 131.1L1.8 58.5L-31.4 30.6L-55.7 16.6L-149.3 6.3M71.4 131.2L1.8 58.5L-31.4 30.6L-55.7 16.7L-149.3 5.7M71.1 131.4L1.8 58.5L-31.4 30.6L-55.8 16.9L-149.3 5.1M70.9 131.5L1.8 58.6L-31.4 30.6L-55.8 17.0L-149.3 4.6M70.6 131.7L1.8 58.6L-31.4 30.7L-55.8 17.2L-149.3 4.0M70.3 131.8L1.8 58.6L-31.5 30.7L-55.8 17.3L-149.4 3.5M70.1 131.9L1.8 58.6L-31.5 30.7L-55.9 17.4L-149.4 2.9M69.8 132.1L1.8 58.6L-31.5 30.7L-55.9 17.6L-149.4 2.4M69.5 132.2L1.7 58.6L-31.5 30.7L-55.9 17.7L-149.4 1.8M69.3 132.4L1.7 58.6L-31.5 30.8L-55.9 17.9L-149.4 1.3M69.0 132.5L1.7 58.6L-31.5 30.8L-56.0 18.0L-149.4 0.7M68.8 132.6L1.7 58.6L-31.5 30.8L-56.0 18.2L-149.4 0.1M68.5 132.8L1.7 58.6L-31.6 30.8L-56.0 18.3L-149.4 -0.4M68.2 132.9L1.7 58.6L-31.6 30.8L-56.0 18.5L-149.4 -1.0M68.0 133.0L1.7 58.7L-31.6 30.9L-56.1 18.6L-149.4 -1.5M67.7 133.2L1.7 58.7L-31.6 30.9L-56.1 18.8L-149.4 -2.1M67.4 133.3L1.7 58.7L-31.6 30.9L-56.1 18.9L-149.4 -2.6M67.2 133.4L1.7 58.7L-31.6 30.9L-56.1 19.1L-149.4 -3.2M66.9 133.6L1.7 58.7L-31.6 30.9L-56.2 19.2L-149.4 -3.8M66.7 133.7L1.6 58.7L-31.7 30.9L-56.2 19.4L-149.3 -4.3M66.4 133.8L1.6 58.7L-31.7 31.0L-56.2 19.5L-149.3 -4.9M66.1 134.0L1.6 58.7L-31.7 31.0L-56.2 19.7L-149.3 -5.4M65.9 134.1L1.6 58.7L-31.7 31.0L-56.3 19.8L-149.3 -6.0M65.6 134.2L1.6 58.7L-31.7 31.0L-56.3 20.0L-149.3 -6.5M65.3 134.4L1.6 58.8L-31.7 31.0L-56.3 20.1L-149.2 -7.1M65.1 134.5L1.6 58.8L-31.7 31.1L-56.4 20.3L-149.2 -7.6M64.8 134.6L1.6 58.8L-31.8 31.1L-56.4 20.4L-149.2 -8.2M64.5 134.7L1.6 58.8L-31.8 31.1L-56.4 20.6L-149.1 -8.8M64.3 134.9L1.6 58.8L-31.8 31.1L-56.4 20.7L-149.1 -9.3M64.0 135.0L1.6 58.8L-31.8 31.1L-56.5 20.8L-149.1 -9.9M63.7 135.1L1.5 58.8L-31.8 31.2L-56.5 21.0L-149.0 -10.4M63.5 135.3L1.5 58.8L-31.8 31.2L-56.5 21.1L-149.0 -11.0M63.2 135.4L1.5 58.8L-31.8 31.2L-56.5 21.3L-149.0 -11.5M62.9 135.5L1.5 58.8L-31.9 31.2L-56.6 21.4L-148.9 -12.1M62.7 135.6L1.5 58.9L-31.9 31.2L-56.6 21.6L-148.9 -12.6M62.4 135.7L1.5 58.9L-31.9 31.2L-56.6 21.7L-148.8 -13.2M62.1 135.9L1.5 58.9L-31.9 31.3L-56.6 21.9L-148.8 -13.7M61.9 136.0L1.5 58.9L-31.9 31.3L-56.7 22.0L-148.7 -14.3M61.6 136.1L1.5 58.9L-31.9 31.3L-56.7 22.2L-148.7 -14.9M61.3 136.2L1.5 58.9L-31.9 31.3L-56.7 22.3L-148.6 -15.4M61.0 136.4L1.5 58.9L-32.0 31.3L-56.7 22.5L-148.5 -16.0M60.8 136.5L1.4 58.9L-32.0 31.4L-56.8 22.6L-148.5 -16.5M60.5 136.6L1.4 58.9L-32.0 31.4L-56.8 22.8L-148.4 -17.1M60.2 136.7L1.4 58.9L-32.0 31.4L-56.8 22.9L-148.4 -17.6M60.0 136.8L1.4 58.9L-32.0 31.4L-56.8 23.1L-148.3 -18.2M59.7 137.0L1.4 59.0L-32.0 31.4L-56.9 23.2L-148.2 -18.7M59.4 137.1L1.4 59.0L-32.0 31.4L-56.9 23.4L-148.2 -19.3M59.2 137.2L1.4 59.0L-32.1 31.5L-56.9 23.5L-148.1 -19.8M58.9 137.3L1.4 59.0L-32.1 31.5L-56.9 23.7L-148.0 -20.4M58.6 137.4L1.4 59.0L-32.1 31.5L-57.0 23.8L-147.9 -20.9M58.3 137.5L1.4 59.0L-32.1 31.5L-57.0 24.0L-147.8 -21.5M58.1 137.7L1.4 59.0L-32.1 31.5L-57.0 24.1L-147.8 -22.0M57.8 137.8L1.3 59.0L-32.1 31.6L-57.0 24.2L-147.7 -22.6M57.5 137.9L1.3 59.0L-32.1 31.6L-57.1 24.4L-147.6 -23.1M57.2 138.0L1.3 59.0L-32.1 31.6L-57.1 24.5L-147.5 -23.7M57.0 138.1L1.3 59.1L-32.2 31.6L-57.1 24.7L-147.4 -24.2M56.7 138.2L1.3 59.1L-32.2 31.6L-57.1 24.8L-147.3 -24.8M56.4 138.3L1.3 59.1L-32.2 31.7L-57.2 25.0L-147.2 -25.3M56.2 138.4L1.3 59.1L-32.2 31.7L-57.2 25.1L-147.1 -25.9M55.9 138.6L1.3 59.1L-32.2 31.7L-57.2 25.3L-147.0 -26.4M55.6 138.7L1.3 59.1L-32.2 31.7L-57.2 25.4L-146.9 -27.0M55.3 138.8L1.3 59.1L-32.2 31.7L-57.3 25.6L-146.8 -27.5M55.1 138.9L1.3 59.1L-32.3 31.7L-57.3 25.7L-146.7 -28.1M54.8 139.0L1.2 59.1L-32.3 31.8L-57.3 25.9L-146.6 -28.6M54.5 139.1L1.2 59.1L-32.3 31.8L-57.3 26.0L-146.5 -29.2M54.2 139.2L1.2 59.2L-32.3 31.8L-57.4 26.2L-146.4 -29.7M54.0 139.3L1.2 59.2L-32.3 31.8L-57.4 26.3L-146.3 -30.2M53.7 139.4L1.2 59.2L-32.3 31.8L-57.4 26.5L-146.2 -30.8M122.3 85.9L74.4 60.3L65.6 25.1L54.6 -31.8L58.6 -137.4M122.0 86.2L74.4 60.3L65.6 25.1L54.6 -31.8L59.2 -137.2M121.7 86.6L74.4 60.4L65.5 25.1L54.6 -31.8L59.7 -137.0M121.5 87.0L74.4 60.4L65.5 25.1L54.5 -31.8L60.2 -136.7M121.2 87.3L74.3 60.4L65.5 25.1L54.5 -31.8L60.7 -136.5M121.0 87.7L74.3 60.4L65.4 25.1L54.5 -31.8L61.3 -136.3M120.7 88.0L74.3 60.4L65.4 25.1L54.4 -31.9L61.8 -136.0M120.4 88.4L74.3 60.4L65.4 25.1L54.4 -31.9L62.3 -135.8M120.2 88.8L74.2 60.4L65.3 25.1L54.4 -31.9L62.8 -135.5M119.9 89.1L74.2 60.4L65.3 25.1L54.3 -31.9L63.4 -135.3M119.7 89.5L74.2 60.5L65.3 25.2L54.3 -31.9L63.9 -135.1M119.4 89.8L74.2 60.5L65.2 25.2L54.3 -31.9L64.4 -134.8M119.1 90.2L74.2 60.5L65.2 25.2L54.2 -31.9L64.9 -134.6M118.9 90.5L74.1 60.5L65.2 25.2L54.2 -31.9L65.4 -134.3M118.6 90.9L74.1 60.5L65.1 25.2L54.2 -31.9L65.9 -134.1M118.3 91.2L74.1 60.5L65.1 25.2L54.1 -31.9L66.5 -133.8M118.0 91.6L74.1 60.5L65.0 25.2L54.1 -31.9L67.0 -133.6M117.8 91.9L74.1 60.5L65.0 25.2L54.1 -31.9L67.5 -133.3M117.5 92.3L74.0 60.6L65.0 25.2L54.0 -31.9L68.0 -133.0M117.2 92.6L74.0 60.6L64.9 25.2L54.0 -31.9L68.5 -132.8M116.9 93.0L74.0 60.6L64.9 25.2L54.0 -31.9L69.0 -132.5M116.7 93.3L74.0 60.6L64.9 25.2L53.9 -31.9L69.5 -132.2M116.4 93.7L73.9 60.6L64.8 25.2L53.9 -31.9L70.0 -132.0M116.1 94.0L73.9 60.6L64.8 25.3L53.8 -31.9L70.5 -131.7M115.8 94.4L73.9 60.6L64.8 25.3L53.8 -31.9L71.0 -131.4M115.6 94.7L73.9 60.6L64.7 25.3L53.8 -31.9L71.5 -131.2M115.3 95.0L73.9 60.7L64.7 25.3L53.7 -31.9L72.0 -130.9M115.0 95.4L73.8 60.7L64.7 25.3L53.7 -31.9L72.5 -130.6M114.7 95.7L73.8 60.7L64.6 25.3L53.7 -32.0L73.0 -130.3M114.4 96.1L73.8 60.7L64.6 25.3L53.6 -32.0L73.5 -130.0M114.1 96.4L73.8 60.7L64.6 25.3L53.6 -32.0L74.0 -129.8M113.8 96.7L73.7 60.7L64.5 25.3L53.6 -32.0L74.5 -129.5M113.6 97.1L73.7 60.7L64.5 25.3L53.5 -32.0L75.0 -129.2M113.3 97.4L73.7 60.7L64.5 25.3L53.5 -32.0L75.5 -128.9M113.0 97.7L73.7 60.8L64.4 25.3L53.5 -32.0L76.0 -128.6M112.7 98.1L73.7 60.8L64.4 25.3L53.4 -32.0L76.5 -128.3M112.4 98.4L73.6 60.8L64.4 25.3L53.4 -32.0L77.0 -128.0M112.1 98.8L73.6 60.8L64.3 25.4L53.4 -32.0L77.5 -127.7M111.8 99.1L73.6 60.8L64.3 25.4L53.3 -32.0L78.0 -127.4M111.5 99.4L73.6 60.8L64.3 25.4L53.3 -32.0L78.5 -127.1M111.2 99.7L73.6 60.8L64.2 25.4L53.3 -32.0L79.0 -126.8M110.9 100.1L73.5 60.8L64.2 25.4L53.2 -32.0L79.5 -126.5M110.6 100.4L73.5 60.9L64.2 25.4L53.2 -32.0L79.9 -126.2M110.3 100.7L73.5 60.9L64.1 25.4L53.2 -32.0L80.4 -125.9M110.0 101.1L73.5 60.9L64.1 25.4L53.1 -32.0L80.9 -125.6M109.7 101.4L73.4 60.9L64.1 25.4L53.1 -32.0L81.4 -125.3M109.4 101.7L73.4 60.9L64.0 25.4L53.1 -32.0L81.9 -125.0M109.1 102.0L73.4 60.9L64.0 25.4L53.0 -32.0L82.4 -124.7M108.8 102.4L73.4 60.9L64.0 25.4L53.0 -32.0L82.8 -124.3M108.5 102.7L73.4 60.9L63.9 25.4L52.9 -32.0L83.3 -124.0M108.2 103.0L73.3 61.0L63.9 25.5L52.9 -32.1L83.8 -123.7M107.9 103.3L73.3 61.0L63.9 25.5L52.9 -32.1L84.3 -123.4M107.6 103.6L73.3 61.0L63.8 25.5L52.8 -32.1L84.7 -123.1M107.3 104.0L73.3 61.0L63.8 25.5L52.8 -32.1L85.2 -122.7M107.0 104.3L73.2 61.0L63.7 25.5L52.8 -32.1L85.7 -122.4M106.7 104.6L73.2 61.0L63.7 25.5L52.7 -32.1L86.1 -122.1M106.4 104.9L73.2 61.0L63.7 25.5L52.7 -32.1L86.6 -121.7M106.1 105.2L73.2 61.0L63.6 25.5L52.7 -32.1L87.1 -121.4M105.7 105.5L73.2 61.1L63.6 25.5L52.6 -32.1L87.5 -121.1M105.4 105.9L73.1 61.1L63.6 25.5L52.6 -32.1L88.0 -120.7M105.1 106.2L73.1 61.1L63.5 25.5L52.6 -32.1L88.5 -120.4M104.8 106.5L73.1 61.1L63.5 25.5L52.5 -32.1L88.9 -120.0M104.5 106.8L73.1 61.1L63.5 25.5L52.5 -32.1L89.4 -119.7M104.2 107.1L73.1 61.1L63.4 25.6L52.5 -32.1L89.8 -119.4M103.8 107.4L73.0 61.1L63.4 25.6L52.4 -32.1L90.3 -119.0M103.5 107.7L73.0 61.1L63.4 25.6L52.4 -32.1L90.8 -118.7M103.2 108.0L73.0 61.2L63.3 25.6L52.4 -32.1L91.2 -118.3M102.9 108.3L73.0 61.2L63.3 25.6L52.3 -32.1L91.7 -118.0M102.6 108.6L72.9 61.2L63.3 25.6L52.3 -32.1L92.1 -117.6M102.2 108.9L72.9 61.2L63.2 25.6L52.3 -32.1L92.6 -117.3M101.9 109.2L72.9 61.2L63.2 25.6L52.2 -32.1L93.0 -116.9M101.6 109.5L72.9 61.2L63.2 25.6L52.2 -32.1L93.5 -116.5M101.3 109.8L72.9 61.2L63.1 25.6L52.1 -32.2L93.9 -116.2M100.9 110.1L72.8 61.2L63.1 25.6L52.1 -32.2L94.4 -115.8M100.6 110.4L72.8 61.3L63.1 25.6L52.1 -32.2L94.8 -115.5M100.3 110.7L72.8 61.3L63.0 25.6L52.0 -32.2L95.3 -115.1M100.0 111.0L72.8 61.3L63.0 25.6L52.0 -32.2L95.7 -114.7M99.6 111.3L72.8 61.3L63.0 25.7L52.0 -32.2L96.1 -114.4M99.3 111.6L72.7 61.3L62.9 25.7L51.9 -32.2L96.6 -114.0M99.0 111.9L72.7 61.3L62.9 25.7L51.9 -32.2L97.0 -113.6M98.6 112.2L72.7 61.3L62.9 25.7L51.9 -32.2L97.4 -113.2M98.3 112.5L72.7 61.3L62.8 25.7L51.8 -32.2L97.9 -112.9M98.0 112.8L72.6 61.4L62.8 25.7L51.8 -32.2L98.3 -112.5M97.6 113.1L72.6 61.4L62.8 25.7L51.8 -32.2L98.7 -112.1M97.3 113.4L72.6 61.4L62.7 25.7L51.7 -32.2L99.2 -111.7M97.0 113.7L72.6 61.4L62.7 25.7L51.7 -32.2L99.6 -111.4M96.6 114.0L72.6 61.4L62.7 25.7L51.7 -32.2L100.0 -111.0M96.3 114.2L72.5 61.4L62.6 25.7L51.6 -32.2L100.5 -110.6M95.9 114.5L72.5 61.4L62.6 25.7L51.6 -32.2L100.9 -110.2M95.6 114.8L72.5 61.4L62.6 25.7L51.6 -32.2L101.3 -109.8M95.3 115.1L72.5 61.5L62.5 25.8L51.5 -32.2L101.7 -109.4M94.9 115.4L72.4 61.5L62.5 25.8L51.5 -32.2L102.1 -109.0M94.6 115.7L72.4 61.5L62.5 25.8L51.5 -32.2L102.6 -108.6M94.2 115.9L72.4 61.5L62.4 25.8L51.4 -32.2L103.0 -108.2M93.9 116.2L72.4 61.5L62.4 25.8L51.4 -32.3L103.4 -107.8M93.5 116.5L72.4 61.5L62.3 25.8L51.4 -32.3L103.8 -107.5M93.2 116.8L72.3 61.5L62.3 25.8L51.3 -32.3L104.2 -107.1M92.9 117.0L72.3 61.5L62.3 25.8L51.3 -32.3L104.6 -106.7M92.5 117.3L72.3 61.6L62.2 25.8L51.2 -32.3L105.0 -106.2M92.2 117.6L72.3 61.6L62.2 25.8L51.2 -32.3L105.4 -105.8" fill="none" stroke="#6A51A3" stroke-width="0.45" stroke-opacity="0.50" stroke-linejoin="round"/>
<path d="M-135.6 62.8L-66.6 24.1L-32.3 28.6L15.1 52.9L51.4 55.4L147.5 23.6M-135.9 62.1L-66.6 23.9L-32.2 28.6L15.1 52.9L51.4 55.3L147.4 24.1M-136.2 61.5L-66.6 23.6L-32.2 28.5L15.1 52.9L51.4 55.2L147.4 24.7M-136.5 60.8L-66.5 23.4L-32.2 28.4L15.1 52.8L51.4 55.0L147.3 25.2M-136.8 60.1L-66.5 23.2L-32.1 28.3L15.1 52.8L51.4 54.9L147.2 25.7M-137.1 59.4L-66.5 23.0L-32.1 28.3L15.1 52.8L51.4 54.8L147.1 26.2M-137.4 58.7L-66.5 22.8L-32.1 28.2L15.1 52.8L51.4 54.7L147.0 26.7M-137.7 58.1L-66.5 22.6L-32.0 28.1L15.1 52.8L51.4 54.6L146.9 27.2M-137.9 57.4L-66.5 22.4L-32.0 28.1L15.1 52.7L51.4 54.5L146.8 27.7M-138.2 56.7L-66.5 22.2L-31.9 28.0L15.1 52.7L51.4 54.4L146.7 28.3M-138.5 56.0L-66.4 22.0L-31.9 27.9L15.1 52.7L51.4 54.2L146.6 28.8M-138.8 55.3L-66.4 21.7L-31.9 27.9L15.1 52.7L51.4 54.1L146.5 29.3M-139.1 54.6L-66.4 21.5L-31.8 27.8L15.1 52.7L51.4 54.0L146.4 29.8M-139.3 53.9L-66.4 21.3L-31.8 27.7L15.1 52.7L51.4 53.9L146.3 30.3M-139.6 53.2L-66.4 21.1L-31.8 27.7L15.1 52.6L51.5 53.8L146.2 30.8M-139.9 52.5L-66.4 20.9L-31.7 27.6L15.1 52.6L51.5 53.7L146.1 31.3M-140.1 51.8L-66.4 20.7L-31.7 27.5L15.2 52.6L51.5 53.5L146.0 31.8M-140.4 51.1L-66.4 20.5L-31.7 27.5L15.2 52.6L51.5 53.4L145.9 32.3M-140.6 50.4L-66.3 20.3L-31.6 27.4L15.2 52.6L51.5 53.3L145.7 32.8M-140.9 49.7L-66.3 20.1L-31.6 27.3L15.2 52.5L51.5 53.2L145.6 33.4M-141.1 49.0L-66.3 19.8L-31.6 27.3L15.2 52.5L51.5 53.1L145.5 33.9M-141.4 48.3L-66.3 19.6L-31.5 27.2L15.2 52.5L51.5 53.0L145.4 34.4M-141.6 47.6L-66.3 19.4L-31.5 27.1L15.2 52.5L51.5 52.9L145.3 34.9M-141.8 46.9L-66.3 19.2L-31.5 27.0L15.2 52.5L51.5 52.7L145.1 35.4M-142.1 46.2L-66.3 19.0L-31.4 27.0L15.2 52.4L51.5 52.6L145.0 35.9M-142.3 45.5L-66.3 18.8L-31.4 26.9L15.2 52.4L51.5 52.5L144.9 36.4M-142.5 44.8L-66.2 18.6L-31.4 26.8L15.2 52.4L51.5 52.4L144.8 36.9M-142.7 44.1L-66.2 18.4L-31.3 26.8L15.2 52.4L51.5 52.3L144.6 37.4M-143.0 43.4L-66.2 18.2L-31.3 26.7L15.2 52.4L51.5 52.2L144.5 37.9M-143.2 42.7L-66.2 17.9L-31.2 26.6L15.2 52.4L51.5 52.0L144.4 38.4M-143.4 42.0L-66.2 17.7L-31.2 26.6L15.2 52.3L51.5 51.9L144.2 38.9M-143.6 41.3L-66.2 17.5L-31.2 26.5L15.2 52.3L51.5 51.8L144.1 39.4M-143.8 40.6L-66.2 17.3L-31.1 26.4L15.2 52.3L51.5 51.7L144.0 39.9M-144.0 39.8L-66.2 17.1L-31.1 26.4L15.2 52.3L51.5 51.6L143.8 40.4M-144.2 39.1L-66.1 16.9L-31.1 26.3L15.3 52.3L51.5 51.5L143.7 40.9M-144.4 38.4L-66.1 16.7L-31.0 26.2L15.3 52.2L51.5 51.4L143.5 41.4M-144.6 37.7L-66.1 16.5L-31.0 26.2L15.3 52.2L51.5 51.2L143.4 41.9M-144.8 37.0L-66.1 16.3L-31.0 26.1L15.3 52.2L51.5 51.1L143.2 42.4M-144.9 36.3L-66.1 16.0L-30.9 26.0L15.3 52.2L51.5 51.0L143.1 42.9M-145.1 35.5L-66.1 15.8L-30.9 25.9L15.3 52.2L51.6 50.9L142.9 43.4M-145.3 34.8L-66.1 15.6L-30.9 25.9L15.3 52.2L51.6 50.8L142.8 43.9M-145.5 34.1L-66.0 15.4L-30.8 25.8L15.3 52.1L51.6 50.7L142.6 44.4M-145.6 33.4L-66.0 15.2L-30.8 25.7L15.3 52.1L51.6 50.5L142.5 44.9M-145.8 32.6L-66.0 15.0L-30.8 25.7L15.3 52.1L51.6 50.4L142.3 45.4M-146.0 31.9L-66.0 14.8L-30.7 25.6L15.3 52.1L51.6 50.3L142.2 45.9M-146.1 31.2L-66.0 14.6L-30.7 25.5L15.3 52.1L51.6 50.2L142.0 46.4M-146.3 30.5L-66.0 14.4L-30.7 25.5L15.3 52.0L51.6 50.1L141.8 46.9M-146.4 29.7L-66.0 14.1L-30.6 25.4L15.3 52.0L51.6 50.0L141.7 47.4M-146.6 29.0L-66.0 13.9L-30.6 25.3L15.3 52.0L51.6 49.9L141.5 47.9M-146.7 28.3L-65.9 13.7L-30.6 25.3L15.3 52.0L51.6 49.7L141.3 48.4M-146.8 27.6L-65.9 13.5L-30.5 25.2L15.3 52.0L51.6 49.6L141.2 48.9M-147.0 26.8L-65.9 13.3L-30.5 25.1L15.3 51.9L51.6 49.5L141.0 49.4M-147.1 26.1L-65.9 13.1L-30.4 25.1L15.3 51.9L51.6 49.4L140.8 49.9M-147.2 25.4L-65.9 12.9L-30.4 25.0L15.4 51.9L51.6 49.3L140.7 50.4M-147.4 24.6L-65.9 12.7L-30.4 24.9L15.4 51.9L51.6 49.2L140.5 50.9M-147.5 23.9L-65.9 12.5L-30.3 24.9L15.4 51.9L51.6 49.0L140.3 51.3M-147.6 23.2L-65.9 12.2L-30.3 24.8L15.4 51.9L51.6 48.9L140.1 51.8M-147.7 22.4L-65.8 12.0L-30.3 24.7L15.4 51.8L51.6 48.8L139.9 52.3M-147.8 21.7L-65.8 11.8L-30.2 24.6L15.4 51.8L51.6 48.7L139.8 52.8M-147.9 21.0L-65.8 11.6L-30.2 24.6L15.4 51.8L51.6 48.6L139.6 53.3M-148.0 20.2L-65.8 11.4L-30.2 24.5L15.4 51.8L51.6 48.5L139.4 53.8M-148.1 19.5L-65.8 11.2L-30.1 24.4L15.4 51.8L51.6 48.4L139.2 54.3M-148.2 18.8L-65.8 11.0L-30.1 24.4L15.4 51.7L51.6 48.2L139.0 54.8M-148.3 18.0L-65.8 10.8L-30.1 24.3L15.4 51.7L51.6 48.1L138.8 55.2M-148.4 17.3L-65.7 10.6L-30.0 24.2L15.4 51.7L51.7 48.0L138.6 55.7M-148.5 16.5L-65.7 10.3L-30.0 24.2L15.4 51.7L51.7 47.9L138.4 56.2M-148.6 15.8L-65.7 10.1L-30.0 24.1L15.4 51.7L51.7 47.8L138.2 56.7M-148.6 15.1L-65.7 9.9L-29.9 24.0L15.4 51.7L51.7 47.7L138.0 57.2M-148.7 14.3L-65.7 9.7L-29.9 24.0L15.4 51.6L51.7 47.5L137.8 57.7M-148.8 13.6L-65.7 9.5L-29.9 23.9L15.4 51.6L51.7 47.4L137.6 58.1M-148.8 12.9L-65.7 9.3L-29.8 23.8L15.4 51.6L51.7 47.3L137.4 58.6M-148.9 12.1L-65.7 9.1L-29.8 23.8L15.4 51.6L51.7 47.2L137.2 59.1M-149.0 11.4L-65.6 8.9L-29.8 23.7L15.5 51.6L51.7 47.1L137.0 59.6M-149.0 10.6L-65.6 8.7L-29.7 23.6L15.5 51.5L51.7 47.0L136.8 60.1M-149.1 9.9L-65.6 8.4L-29.7 23.5L15.5 51.5L51.7 46.9L136.6 60.5M-149.1 9.2L-65.6 8.2L-29.6 23.5L15.5 51.5L51.7 46.7L136.4 61.0M-149.2 8.4L-65.6 8.0L-29.6 23.4L15.5 51.5L51.7 46.6L136.2 61.5M-149.2 7.7L-65.6 7.8L-29.6 23.3L15.5 51.5L51.7 46.5L135.9 62.0M-149.2 6.9L-65.6 7.6L-29.5 23.3L15.5 51.5L51.7 46.4L135.7 62.4M-149.3 6.2L-65.6 7.4L-29.5 23.2L15.5 51.4L51.7 46.3L135.5 62.9M-149.3 5.4L-65.5 7.2L-29.5 23.1L15.5 51.4L51.7 46.2L135.3 63.4M-149.3 4.7L-65.5 7.0L-29.4 23.1L15.5 51.4L51.7 46.0L135.1 63.8M-149.3 4.0L-65.5 6.8L-29.4 23.0L15.5 51.4L51.7 45.9L134.8 64.3M-149.4 3.2L-65.5 6.5L-29.4 22.9L15.5 51.4L51.7 45.8L134.6 64.8M-149.4 2.5L-65.5 6.3L-29.3 22.9L15.5 51.3L51.7 45.7L134.4 65.3M-149.4 1.7L-65.5 6.1L-29.3 22.8L15.5 51.3L51.7 45.6L134.2 65.7M-149.4 1.0L-65.5 5.9L-29.3 22.7L15.5 51.3L51.7 45.5L133.9 66.2M-149.4 0.3L-65.4 5.7L-29.2 22.7L15.5 51.3L51.7 45.4L133.7 66.7M-149.4 -0.5L-65.4 5.5L-29.2 22.6L15.5 51.3L51.7 45.2L133.5 67.1M-149.4 -1.2L-65.4 5.3L-29.2 22.5L15.5 51.2L51.8 45.1L133.2 67.6M-149.4 -2.0L-65.4 5.1L-29.1 22.5L15.6 51.2L51.8 45.0L133.0 68.1M-149.4 -2.7L-65.4 4.9L-29.1 22.4L15.6 51.2L51.8 44.9L132.8 68.5M-149.4 -3.5L-65.4 4.6L-29.1 22.3L15.6 51.2L51.8 44.8L132.5 69.0M-149.3 -4.2L-65.4 4.4L-29.0 22.2L15.6 51.2L51.8 44.7L132.3 69.4M-149.3 -4.9L-65.4 4.2L-29.0 22.2L15.6 51.2L51.8 44.5L132.0 69.9M-149.3 -5.7L-65.3 4.0L-28.9 22.1L15.6 51.1L51.8 44.4L131.8 70.4M-149.3 -6.4L-65.3 3.8L-28.9 22.0L15.6 51.1L51.8 44.3L131.5 70.8M-149.2 -7.2L-65.3 3.6L-28.9 22.0L15.6 51.1L51.8 44.2L131.3 71.3M-149.2 -7.9L-65.3 3.4L-28.8 21.9L15.6 51.1L51.8 44.1L131.0 71.7M-149.1 -8.7L-65.3 3.2L-28.8 21.8L15.6 51.1L51.8 44.0L130.8 72.2M-149.1 -9.4L-65.3 3.0L-28.8 21.8L15.6 51.0L51.8 43.9L130.5 72.7M-149.1 -10.1L-65.3 2.7L-28.7 21.7L15.6 51.0L51.8 43.7L130.3 73.1M-149.0 -10.9L-65.3 2.5L-28.7 21.6L15.6 51.0L51.8 43.6L130.0 73.6M-148.9 -11.6L-65.2 2.3L-28.7 21.6L15.6 51.0L51.8 43.5L129.8 74.0M-148.9 -12.4L-65.2 2.1L-28.6 21.5L15.6 51.0L51.8 43.4L129.5 74.5M-148.8 -13.1L-65.2 1.9L-28.6 21.4L15.6 51.0L51.8 43.3L129.3 74.9M-148.8 -13.8L-65.2 1.7L-28.6 21.4L15.6 50.9L51.8 43.2L129.0 75.4M-148.7 -14.6L-65.2 1.5L-28.5 21.3L15.6 50.9L51.8 43.0L128.7 75.8M-148.6 -15.3L-65.2 1.3L-28.5 21.2L15.6 50.9L51.8 42.9L128.5 76.3M-148.5 -16.0L-65.2 1.1L-28.5 21.1L15.7 50.9L51.8 42.8L128.2 76.7M-148.5 -16.8L-65.1 0.8L-28.4 21.1L15.7 50.9L51.8 42.7L127.9 77.2M-148.4 -17.5L-65.1 0.6L-28.4 21.0L15.7 50.8L51.8 42.6L127.7 77.6M-148.3 -18.3L-65.1 0.4L-28.4 20.9L15.7 50.8L51.8 42.5L127.4 78.1M-148.2 -19.0L-65.1 0.2L-28.3 20.9L15.7 50.8L51.8 42.4L127.1 78.5M-148.1 -19.7L-65.1 -0.0L-28.3 20.8L15.7 50.8L51.9 42.2L126.8 78.9M-148.0 -20.5L-65.1 -0.2L-28.3 20.7L15.7 50.8L51.9 42.1L126.6 79.4M-147.9 -21.2L-65.1 -0.4L-28.2 20.7L15.7 50.7L51.9 42.0L126.3 79.8M-147.8 -21.9L-65.1 -0.6L-28.2 20.6L15.7 50.7L51.9 41.9L126.0 80.3M-147.7 -22.7L-65.0 -0.8L-28.1 20.5L15.7 50.7L51.9 41.8L125.7 80.7M-147.6 -23.4L-65.0 -1.1L-28.1 20.5L15.7 50.7L51.9 41.7L125.4 81.2M-147.4 -24.1L-65.0 -1.3L-28.1 20.4L15.7 50.7L51.9 41.5L125.2 81.6M-147.3 -24.9L-65.0 -1.5L-28.0 20.3L15.7 50.7L51.9 41.4L124.9 82.0M-147.2 -25.6L-65.0 -1.7L-28.0 20.3L15.7 50.6L51.9 41.3L124.6 82.5M-147.1 -26.3L-65.0 -1.9L-28.0 20.2L15.7 50.6L51.9 41.2L124.3 82.9M-146.9 -27.1L-65.0 -2.1L-27.9 20.1L15.7 50.6L51.9 41.1L124.0 83.3M-146.8 -27.8L-65.0 -2.3L-27.9 20.1L15.7 50.6L51.9 41.0L123.7 83.8M-146.7 -28.5L-64.9 -2.5L-27.9 20.0L15.7 50.6L51.9 40.9L123.4 84.2M-146.5 -29.2L-64.9 -2.7L-27.8 19.9L15.8 50.5L51.9 40.7L123.1 84.6M-146.4 -30.0L-64.9 -3.0L-27.8 19.8L15.8 50.5L51.9 40.6L122.8 85.1M-146.2 -30.7L-64.9 -3.2L-27.8 19.8L15.8 50.5L51.9 40.5L122.5 85.5M-61.3 -136.2L-46.1 -84.6L-59.3 -21.0L-107.5 103.8M-57.6 -137.9L-45.7 -84.6L-57.4 -20.3L-111.0 100.0M-53.8 -139.4L-45.3 -84.6L-55.5 -19.6L-114.4 96.0M-50.0 -140.8L-44.9 -84.5L-53.7 -18.8L-117.7 92.0M-46.1 -142.1L-44.5 -84.5L-51.8 -18.1L-120.9 87.8M-61.6 -136.1C-57.9 -131.0 -50.0 -120.1 -42.9 -110.5C-35.8 -100.8 -32.5 -91.7 -26.1 -87.9C-19.7 -84.0 -15.4 -86.6 -11.0 -91.1C-6.5 -95.6 -7.4 -98.7 -3.9 -110.4C-0.3 -122.0 4.8 -141.5 7.0 -149.2M-58.5 -137.5C-55.2 -132.2 -48.4 -120.9 -41.8 -111.1C-35.3 -101.3 -31.9 -92.7 -25.6 -88.5C-19.4 -84.4 -14.9 -86.2 -10.4 -90.5C-5.9 -94.8 -7.3 -98.3 -3.1 -110.0C1.1 -121.7 7.7 -141.2 10.4 -149.0M-55.4 -138.8C-52.4 -133.4 -46.8 -121.6 -40.8 -111.7C-34.7 -101.8 -31.3 -93.6 -25.2 -89.2C-19.0 -84.8 -14.4 -85.8 -9.9 -89.9C-5.3 -94.0 -7.1 -97.9 -2.3 -109.7C2.4 -121.5 10.6 -140.9 13.9 -148.8M-52.2 -140.0C-49.7 -134.5 -45.2 -122.4 -39.7 -112.4C-34.2 -102.3 -30.7 -94.5 -24.7 -89.9C-18.6 -85.3 -13.9 -85.3 -9.3 -89.2C-4.7 -93.1 -6.9 -97.6 -1.6 -109.4C3.8 -121.2 13.6 -140.6 17.3 -148.4M-49.0 -141.1C-46.9 -135.5 -43.6 -123.1 -38.6 -113.0C-33.6 -102.9 -30.1 -95.4 -24.2 -90.6C-18.2 -85.7 -13.5 -84.9 -8.8 -88.6C-4.1 -92.3 -6.7 -97.2 -0.8 -109.1C5.1 -120.9 16.5 -140.2 20.8 -147.9M-45.8 -142.2C-44.1 -136.5 -41.9 -123.8 -37.5 -113.6C-33.1 -103.4 -29.5 -96.4 -23.7 -91.2C-17.8 -86.1 -13.0 -84.5 -8.2 -88.0C-3.5 -91.5 -6.5 -96.8 -0.0 -108.7C6.5 -120.6 19.4 -139.7 24.2 -147.4" fill="none" stroke="#6A51A3" stroke-width="0.50" stroke-opacity="0.70" stroke-linejoin="round"/>
<path d="M0.30 -170.55A170.55 170.55 0 0 1 169.36 20.08" fill="none" stroke="#E41A1C" stroke-width="6.90"/>
<path d="M168.63 25.50A170.55 170.55 0 0 1 -76.37 152.50" fill="none" stroke="#377EB8" stroke-width="6.90"/>
<path d="M-82.42 149.31A170.55 170.55 0 0 1 -77.16 -152.10" fill="none" stroke="#4DAF4A" stroke-width="6.90"/>
<path d="M-72.62 -154.32A170.55 170.55 0 0 1 -5.36 -170.47" fill="none" stroke="#984EA3" stroke-width="6.90"/>
<path d="M0.27 -155.10A155.10 155.10 0 0 1 144.70 -55.84" fill="none" stroke="#E6550D" stroke-width="9.60"/>
<path d="M144.70 -55.84A155.10 155.10 0 0 1 154.02 18.26" fill="none" stroke="#FDAE6B" stroke-width="9.60"/>
<path d="M153.36 23.19A155.10 155.10 0 0 1 55.33 144.90" fill="none" stroke="#E6550D" stroke-width="9.60"/>
<path d="M55.33 144.90A155.10 155.10 0 0 1 -69.45 138.68" fill="none" stroke="#FDAE6B" stroke-width="9.60"/>
<path d="M-74.96 135.78A155.10 155.10 0 0 1 -151.48 -33.31" fill="none" stroke="#E6550D" stroke-width="9.60"/>
<path d="M-151.48 -33.31A155.10 155.10 0 0 1 -70.17 -138.32" fill="none" stroke="#FDAE6B" stroke-width="9.60"/>
<path d="M-66.04 -140.34A155.10 155.10 0 0 1 -45.86 -148.16" fill="none" stroke="#E6550D" stroke-width="9.60"/>
<path d="M-45.86 -148.16A155.10 155.10 0 0 1 -4.87 -155.02" fill="none" stroke="#FDAE6B" stroke-width="9.60"/>
</g>
<circle cx="176.3" cy="686.7" r="12.40" fill="#FF0000" stroke="#000" stroke-width="2.20" /><text x="201.3" y="696.9" font-size="27.50" xml:space="preserve" >Sub AD [CoV-2 (B)]</text>
<circle cx="484.7" cy="683.8" r="13.20" fill="#55A0FF" stroke="#000" stroke-width="2.20" /><text x="510.5" y="696.9" font-size="27.50" xml:space="preserve" textLength="258.3">Sub AD [CoV-2 (P.1)]</text>
<circle cx="177.1" cy="735.8" r="13.00" fill="#169B62" stroke="#000" stroke-width="2.20" /><text x="206.1" y="746.4" font-size="27.50" xml:space="preserve" >Vis AD [CoV-2 (B)]</text>
<circle cx="485.6" cy="735.0" r="13.00" fill="#6F0A9A" stroke="#000" stroke-width="2.20" /><text x="513.8" y="748.4" font-size="27.50" xml:space="preserve" textLength="248.6">Vis AD [CoV-2 (P.1)]</text>
<!-- p20_b.py -->
<text x="1046.6" y="24.6" font-size="33.00" xml:space="preserve" class="b">b</text>
<text x="1313.0" y="54.5" font-size="36.60" xml:space="preserve" class="b">Enrichment analysis</text>
<g shape-rendering="crispEdges">
<rect x="1047.30" y="192.40" width="67.65" height="22.40" fill="#D9D9D9" />
<rect x="1114.65" y="192.40" width="67.65" height="22.40" fill="#D9D9D9" />
<rect x="1182.00" y="192.40" width="67.65" height="22.40" fill="#D9D9D9" />
<rect x="1249.35" y="192.40" width="67.65" height="22.40" fill="#FB9A29" />
<rect x="1047.30" y="214.50" width="67.65" height="22.40" fill="#FEE39A" />
<rect x="1114.65" y="214.50" width="67.65" height="22.40" fill="#D9D9D9" />
<rect x="1182.00" y="214.50" width="67.65" height="22.40" fill="#FDAA38" />
<rect x="1249.35" y="214.50" width="67.65" height="22.40" fill="#FDA636" />
<rect x="1047.30" y="236.60" width="67.65" height="22.40" fill="#FB9A2B" />
<rect x="1114.65" y="236.60" width="67.65" height="22.40" fill="#D9D9D9" />
<rect x="1182.00" y="236.60" width="67.65" height="22.40" fill="#D9D9D9" />
<rect x="1249.35" y="236.60" width="67.65" height="22.40" fill="#D9D9D9" />
<rect x="1047.30" y="258.70" width="67.65" height="22.40" fill="#EB7E1E" />
<rect x="1114.65" y="258.70" width="67.65" height="22.40" fill="#FFF5C0" />
<rect x="1182.00" y="258.70" width="67.65" height="22.40" fill="#FEE8A4" />
<rect x="1249.35" y="258.70" width="67.65" height="22.40" fill="#D9D9D9" />
<rect x="1047.30" y="280.80" width="67.65" height="22.40" fill="#FDA636" />
<rect x="1114.65" y="280.80" width="67.65" height="22.40" fill="#FDCA65" />
<rect x="1182.00" y="280.80" width="67.65" height="22.40" fill="#F28C25" />
<rect x="1249.35" y="280.80" width="67.65" height="22.40" fill="#D9D9D9" />
<rect x="1047.30" y="302.90" width="67.65" height="22.40" fill="#D9D9D9" />
<rect x="1114.65" y="302.90" width="67.65" height="22.40" fill="#FDB94A" />
<rect x="1182.00" y="302.90" width="67.65" height="22.40" fill="#FB9528" />
<rect x="1249.35" y="302.90" width="67.65" height="22.40" fill="#D9D9D9" />
<rect x="1047.30" y="325.00" width="67.65" height="22.40" fill="#CC570E" />
<rect x="1114.65" y="325.00" width="67.65" height="22.40" fill="#FDD071" />
<rect x="1182.00" y="325.00" width="67.65" height="22.40" fill="#FDC961" />
<rect x="1249.35" y="325.00" width="67.65" height="22.40" fill="#FDC255" />
<rect x="1047.30" y="347.10" width="67.65" height="22.40" fill="#D45B0D" />
<rect x="1114.65" y="347.10" width="67.65" height="22.40" fill="#FDD074" />
<rect x="1182.00" y="347.10" width="67.65" height="22.40" fill="#FC9E2F" />
<rect x="1249.35" y="347.10" width="67.65" height="22.40" fill="#FDAA38" />
<rect x="1047.30" y="369.20" width="67.65" height="22.40" fill="#D25A0D" />
<rect x="1114.65" y="369.20" width="67.65" height="22.40" fill="#F38C25" />
<rect x="1182.00" y="369.20" width="67.65" height="22.40" fill="#FFF0B5" />
<rect x="1249.35" y="369.20" width="67.65" height="22.40" fill="#FDA738" />
<rect x="1047.30" y="391.30" width="67.65" height="22.40" fill="#DC6514" />
<rect x="1114.65" y="391.30" width="67.65" height="22.40" fill="#FED886" />
<rect x="1182.00" y="391.30" width="67.65" height="22.40" fill="#FDD274" />
<rect x="1249.35" y="391.30" width="67.65" height="22.40" fill="#CC570E" />
<rect x="1047.30" y="413.40" width="67.65" height="22.40" fill="#FDD274" />
<rect x="1114.65" y="413.40" width="67.65" height="22.40" fill="#FC9C2E" />
<rect x="1182.00" y="413.40" width="67.65" height="22.40" fill="#FDD274" />
<rect x="1249.35" y="413.40" width="67.65" height="22.40" fill="#EA7C1D" />
<rect x="1047.30" y="435.50" width="67.65" height="22.40" fill="#FDBC4E" />
<rect x="1114.65" y="435.50" width="67.65" height="22.40" fill="#D45B0D" />
<rect x="1182.00" y="435.50" width="67.65" height="22.40" fill="#FDCB66" />
<rect x="1249.35" y="435.50" width="67.65" height="22.40" fill="#FDAA39" />
<rect x="1047.30" y="457.60" width="67.65" height="22.40" fill="#FDC55A" />
<rect x="1114.65" y="457.60" width="67.65" height="22.40" fill="#CF590E" />
<rect x="1182.00" y="457.60" width="67.65" height="22.40" fill="#FC9A2C" />
<rect x="1249.35" y="457.60" width="67.65" height="22.40" fill="#FDB445" />
<rect x="1047.30" y="479.70" width="67.65" height="22.40" fill="#D25A10" />
<rect x="1114.65" y="479.70" width="67.65" height="22.40" fill="#EB7E1E" />
<rect x="1182.00" y="479.70" width="67.65" height="22.40" fill="#FDBF52" />
<rect x="1249.35" y="479.70" width="67.65" height="22.40" fill="#FDAE3D" />
<rect x="1047.30" y="501.80" width="67.65" height="22.40" fill="#F38B25" />
<rect x="1114.65" y="501.80" width="67.65" height="22.40" fill="#B1460B" />
<rect x="1182.00" y="501.80" width="67.65" height="22.40" fill="#E8771A" />
<rect x="1249.35" y="501.80" width="67.65" height="22.40" fill="#FC9B2C" />
<rect x="1047.30" y="523.90" width="67.65" height="22.40" fill="#CC570E" />
<rect x="1114.65" y="523.90" width="67.65" height="22.40" fill="#A13C08" />
<rect x="1182.00" y="523.90" width="67.65" height="22.40" fill="#B1460B" />
<rect x="1249.35" y="523.90" width="67.65" height="22.40" fill="#94340A" />
<rect x="1047.30" y="546.00" width="67.65" height="22.40" fill="#D9D9D9" />
<rect x="1114.65" y="546.00" width="67.65" height="22.40" fill="#F99326" />
<rect x="1182.00" y="546.00" width="67.65" height="22.40" fill="#D9D9D9" />
<rect x="1249.35" y="546.00" width="67.65" height="22.40" fill="#D9D9D9" />
<rect x="1047.30" y="568.10" width="67.65" height="22.40" fill="#FDA636" />
<rect x="1114.65" y="568.10" width="67.65" height="22.40" fill="#F89226" />
<rect x="1182.00" y="568.10" width="67.65" height="22.40" fill="#D9D9D9" />
<rect x="1249.35" y="568.10" width="67.65" height="22.40" fill="#D9D9D9" />
<rect x="1047.30" y="590.20" width="67.65" height="22.40" fill="#D9D9D9" />
<rect x="1114.65" y="590.20" width="67.65" height="22.40" fill="#D9600F" />
<rect x="1182.00" y="590.20" width="67.65" height="22.40" fill="#FDD071" />
<rect x="1249.35" y="590.20" width="67.65" height="22.40" fill="#FDCF6E" />
<rect x="1047.30" y="612.30" width="67.65" height="18.30" fill="#D9D9D9" />
<rect x="1114.65" y="612.30" width="67.65" height="18.30" fill="#EE8220" />
<rect x="1182.00" y="612.30" width="67.65" height="18.30" fill="#D9D9D9" />
<rect x="1249.35" y="612.30" width="67.65" height="18.30" fill="#FDB748" />
<rect x="1312.70" y="630.60" width="4.00" height="4.00" fill="#FDB748" />
</g>
<text transform="translate(1323.3 209.9) scale(0.903 1)" font-size="21.7" fill="#000">GO:0006172: ADP biosynthetic process</text>
<text transform="translate(1323.3 232.0) scale(0.903 1)" font-size="21.7" fill="#000">GO:0043200: response to amino acid</text>
<text transform="translate(1323.3 254.1) scale(0.903 1)" font-size="21.7" fill="#000">GO:0006414: translational elongation</text>
<text transform="translate(1323.3 276.2) scale(0.903 1)" font-size="21.7" fill="#000">GO:0051017: actin filament bundle assembly</text>
<text transform="translate(1323.3 298.3) scale(0.903 1)" font-size="21.7" fill="#000">GO:0070934: CRD-mediated mRNA stabilization</text>
<text transform="translate(1323.3 320.4) scale(0.903 1)" font-size="21.7" fill="#000">R-HSA-75205: Dissolution of Fibrin Clot</text>
<text transform="translate(1323.3 342.5) scale(0.903 1)" font-size="21.7" fill="#000">R-HSA-9613829: Chaperone Mediated Autophagy</text>
<text transform="translate(1323.3 364.6) scale(0.903 1)" font-size="21.7" fill="#000">R-HSA-174824: Plasma lipoprotein assembly, remodeling, and clearance</text>
<text transform="translate(1323.3 386.7) scale(0.903 1)" font-size="21.7" fill="#000">GO:0006458: 'de novo' protein folding</text>
<text transform="translate(1323.3 408.8) scale(0.903 1)" font-size="21.7" fill="#000">GO:0032482: Rab protein signal transduction</text>
<text transform="translate(1323.3 430.9) scale(0.903 1)" font-size="21.7" fill="#000">R-HSA-162658: Golgi Cisternae Pericentriolar Stack Reorganization</text>
<text transform="translate(1323.3 453.0) scale(0.903 1)" font-size="21.7" fill="#000">R-HSA-8978868: Fatty acid metabolism</text>
<text transform="translate(1323.3 475.1) scale(0.903 1)" font-size="21.7" fill="#000">GO:0030705: cytoskeleton-dependent intracellular transport</text>
<text transform="translate(1323.3 497.2) scale(0.903 1)" font-size="21.7" fill="#000">hsa04611: Platelet activation</text>
<text transform="translate(1323.3 519.3) scale(0.903 1)" font-size="21.7" fill="#000">GO:0051129: negative regulation of cellular component organization</text>
<text transform="translate(1323.3 541.4) scale(0.903 1)" font-size="21.7" fill="#000">GO:0006163: purine nucleotide metabolic process</text>
<text transform="translate(1323.3 563.5) scale(0.903 1)" font-size="21.7" fill="#000">CORUM:1231: FIB-associated protein complex</text>
<text transform="translate(1323.3 585.6) scale(0.903 1)" font-size="21.7" fill="#000">GO:0075522: IRES-dependent viral translational initiation</text>
<text transform="translate(1323.3 607.7) scale(0.903 1)" font-size="21.7" fill="#000">CORUM:5615: Emerin complex 52</text>
<text transform="translate(1323.3 629.8) scale(0.903 1)" font-size="21.7" fill="#000">CORUM:5183: DNA-PK-Ku-eIF2-NF90-NF45 complex</text>
<path d="M1216.2 188.4V71.6H1283.6V188.4M1148.7 188.4V61.0H1249.9V71.6M1081.3 188.4V55.7H1199.3V61.0" fill="none" stroke="#111" stroke-width="1.4"/>
<path d="M1043.8 203.5H954.8V225.6H1043.8M954.8 214.6H932.1V247.7H1043.8M1043.8 269.9H1003.0V292.0H1043.8M1003.0 280.9H958.6V314.1H1043.8M1043.8 336.2H1026.5V358.3H1043.8M1026.5 347.3H1011.6V380.5H1043.8M1043.8 402.6H1013.7V424.7H1043.8M1011.6 363.9H1004.2V413.6H1013.7M1043.8 446.8H1016.0V468.9H1043.8M1043.8 491.1H1022.6V513.2H1043.8M1016.0 457.9H1013.1V502.1H1022.6M1004.2 388.8H1001.8V480.0H1013.1M1001.8 434.4H987.8V535.3H1043.8M958.6 297.5H942.6V484.8H987.8M1043.8 557.4H970.8V579.5H1043.8M1043.8 601.7H981.2V623.8H1043.8M970.8 568.5H949.1V612.7H981.2M942.6 391.2H932.1V590.6H949.1M932.1 231.2H921.7V490.9H932.1" fill="none" stroke="#111" stroke-width="1.4"/>
<defs><linearGradient id="cbar" x1="0" x2="1" y1="0" y2="0"><stop offset="0" stop-color="#D9D9D9"/><stop offset="0.05" stop-color="#E6E4D4"/><stop offset="0.10" stop-color="#FFFBD0"/><stop offset="0.15" stop-color="#FEE99F"/><stop offset="0.20" stop-color="#FED571"/><stop offset="0.30" stop-color="#FDA737"/><stop offset="0.40" stop-color="#EF8621"/><stop offset="0.50" stop-color="#DE6A13"/><stop offset="0.75" stop-color="#B74A0A"/><stop offset="1" stop-color="#8F3008"/></linearGradient></defs>
<rect x="1320.60" y="81.50" width="128.40" height="37.50" fill="url(#cbar)" />
<text x="1384.5" y="75.0" font-size="10.90" xml:space="preserve" text-anchor="middle" fill="#222" style="font-family:'DejaVu Sans',sans-serif">-log10(P)</text>
<line x1="1320.6" y1="119.0" x2="1320.6" y2="122.5" stroke="#333" stroke-width="0.80" />
<text x="1320.6" y="133.6" font-size="8.60" xml:space="preserve" text-anchor="middle" fill="#222" style="font-family:'DejaVu Sans',sans-serif">0</text>
<line x1="1333.4" y1="119.0" x2="1333.4" y2="122.5" stroke="#333" stroke-width="0.80" />
<text x="1333.4" y="133.6" font-size="8.60" xml:space="preserve" text-anchor="middle" fill="#222" style="font-family:'DejaVu Sans',sans-serif">2</text>
<line x1="1339.9" y1="119.0" x2="1339.9" y2="122.5" stroke="#333" stroke-width="0.80" />
<text x="1339.9" y="133.6" font-size="8.60" xml:space="preserve" text-anchor="middle" fill="#222" style="font-family:'DejaVu Sans',sans-serif">3</text>
<line x1="1346.3" y1="119.0" x2="1346.3" y2="122.5" stroke="#333" stroke-width="0.80" />
<text x="1346.3" y="133.6" font-size="8.60" xml:space="preserve" text-anchor="middle" fill="#222" style="font-family:'DejaVu Sans',sans-serif">4</text>
<line x1="1359.1" y1="119.0" x2="1359.1" y2="122.5" stroke="#333" stroke-width="0.80" />
<text x="1359.1" y="133.6" font-size="8.60" xml:space="preserve" text-anchor="middle" fill="#222" style="font-family:'DejaVu Sans',sans-serif">6</text>
<line x1="1384.8" y1="119.0" x2="1384.8" y2="122.5" stroke="#333" stroke-width="0.80" />
<text x="1384.8" y="133.6" font-size="8.60" xml:space="preserve" text-anchor="middle" fill="#222" style="font-family:'DejaVu Sans',sans-serif">10</text>
<line x1="1449.0" y1="119.0" x2="1449.0" y2="122.5" stroke="#333" stroke-width="0.80" />
<text x="1449.0" y="133.6" font-size="8.60" xml:space="preserve" text-anchor="middle" fill="#222" style="font-family:'DejaVu Sans',sans-serif">20</text>
<text transform="translate(1072.0 645.0) rotate(48.6)" font-size="15.55" class="b" fill="#000" xml:space="preserve" dominant-baseline="middle">Vis AD [CoV-2 (P.1)]</text>
<text transform="translate(1142.8 645.0) rotate(48.6)" font-size="15.55" class="b" fill="#000" xml:space="preserve" dominant-baseline="middle">Vis AD [CoV-2 (B)]</text>
<text transform="translate(1211.5 647.0) rotate(48.6)" font-size="15.55" class="b" fill="#000" xml:space="preserve" dominant-baseline="middle">Sub AD [CoV-2 (B)]</text>
<text transform="translate(1273.5 638.0) rotate(48.6)" font-size="15.55" class="b" fill="#000" xml:space="preserve" dominant-baseline="middle">Sub AD [CoV  -2 (P.1)]</text>
<!-- p30_c.py -->
<text x="0.0" y="829.8" font-size="33.00" xml:space="preserve" class="b">c</text>
<text x="127.7" y="829.8" font-size="37.00" xml:space="preserve" class="b">HSL  abundance (Proteomics)</text>
<rect x="185.00" y="913.90" width="422.10" height="420.70" fill="none" stroke="#000" stroke-width="3.60" />
<line x1="167.0" y1="913.9" x2="185.0" y2="913.9" stroke="#000" stroke-width="3.60" />
<text x="162.0" y="925.4" font-size="31.60" xml:space="preserve" class="b" text-anchor="end">30000</text>
<line x1="167.0" y1="1053.9" x2="185.0" y2="1053.9" stroke="#000" stroke-width="3.60" />
<text x="162.0" y="1065.4" font-size="31.60" xml:space="preserve" class="b" text-anchor="end">20000</text>
<line x1="167.0" y1="1194.3" x2="185.0" y2="1194.3" stroke="#000" stroke-width="3.60" />
<text x="162.0" y="1205.8" font-size="31.60" xml:space="preserve" class="b" text-anchor="end">10000</text>
<line x1="167.0" y1="1334.6" x2="185.0" y2="1334.6" stroke="#000" stroke-width="3.60" />
<text x="162.0" y="1346.1" font-size="31.60" xml:space="preserve" class="b" text-anchor="end">0</text>
<text transform="translate(57.0 1123) rotate(-90)" text-anchor="middle" font-size="34.6" class="b">Normalized abundance</text>
<line x1="395.7" y1="913.9" x2="395.7" y2="1334.6" stroke="#000" stroke-width="2.00" stroke-dasharray="5.2 3.8"/>
<text x="347.5" y="981.5" font-size="25.50" xml:space="preserve" text-anchor="middle">a</text>
<path d="M232.0 944.0C225.5 944.5 231.1 945.6 231.0 947.0C230.9 948.4 230.6 949.3 231.5 952.0C232.4 954.7 233.8 957.9 236.0 962.0C238.2 966.1 242.0 970.3 244.0 975.0C246.0 979.7 247.2 983.3 247.0 988.0C246.8 992.7 245.9 996.3 243.0 1001.0C240.1 1005.7 235.0 1009.5 231.0 1014.0C227.0 1018.5 223.3 1022.0 221.0 1026.0C218.7 1030.0 217.8 1032.4 218.0 1036.0C218.2 1039.6 219.2 1042.2 222.0 1046.0C224.8 1049.8 226.2 1055.0 233.6 1057.0C241.0 1059.0 255.5 1059.0 263.3 1057.0C271.1 1055.0 273.8 1049.8 277.0 1046.0C280.2 1042.2 281.0 1039.6 281.0 1036.0C281.0 1032.4 279.5 1030.0 277.0 1026.0C274.5 1022.0 271.0 1018.5 267.0 1014.0C263.0 1009.5 257.9 1005.7 255.0 1001.0C252.1 996.3 251.2 992.7 251.0 988.0C250.8 983.3 252.0 979.7 254.0 975.0C256.0 970.3 259.6 966.1 262.0 962.0C264.4 957.9 266.4 954.7 267.5 952.0C268.6 949.3 268.1 948.4 268.0 947.0C267.9 945.6 273.5 944.5 267.0 944.0C260.5 943.5 238.5 943.5 232.0 944.0Z" fill="#D3D3D3" stroke="#000" stroke-width="1.9" stroke-linejoin="round"/>
<line x1="224.0" y1="1024.3" x2="276.0" y2="1024.3" stroke="#000" stroke-width="1.60" stroke-dasharray="5 3.5"/>
<line x1="233.0" y1="954.3" x2="266.0" y2="954.3" stroke="#000" stroke-width="1.60" stroke-dasharray="1.5 5"/>
<line x1="221.0" y1="1040.5" x2="279.0" y2="1040.5" stroke="#000" stroke-width="1.60" stroke-dasharray="1.5 5"/>
<circle cx="233.6" cy="944.0" r="6.00" fill="#D3D3D3" stroke="#000" stroke-width="1.90" />
<circle cx="249.5" cy="952.9" r="6.00" fill="#D3D3D3" stroke="#000" stroke-width="1.90" />
<circle cx="266.2" cy="956.4" r="6.00" fill="#D3D3D3" stroke="#000" stroke-width="1.90" />
<path d="M225.2 1018.2L231.2 1029.6L219.2 1029.6Z" fill="#D3D3D3" stroke="#000" stroke-width="1.90" stroke-linejoin="miter"/>
<path d="M274.0 1014.6L280.0 1026.0L268.0 1026.0Z" fill="#D3D3D3" stroke="#000" stroke-width="1.90" stroke-linejoin="miter"/>
<path d="M241.4 1024.9L247.4 1036.3L235.4 1036.3Z" fill="#D3D3D3" stroke="#000" stroke-width="1.90" stroke-linejoin="miter"/>
<rect x="252.1" y="1032.3" width="11.5" height="11.5" fill="#D3D3D3" stroke="#000" stroke-width="1.90"/>
<rect x="235.4" y="1037.5" width="11.5" height="11.5" fill="#D3D3D3" stroke="#000" stroke-width="1.90"/>
<rect x="252.1" y="1052.2" width="11.5" height="11.5" fill="#D3D3D3" stroke="#000" stroke-width="1.90"/>
<path d="M337.0 1030.5C332.5 1031.5 333.1 1033.6 332.0 1036.0C330.9 1038.4 330.3 1041.1 331.0 1044.0C331.7 1046.9 336.5 1049.3 336.0 1052.0C335.5 1054.7 331.6 1056.7 328.0 1059.0C324.4 1061.3 317.1 1063.0 316.0 1065.0C314.9 1067.0 318.8 1068.0 322.0 1070.0C325.2 1072.0 331.1 1074.0 334.0 1076.0C336.9 1078.0 334.0 1080.1 338.0 1081.0C342.0 1081.9 351.7 1081.9 356.0 1081.0C360.3 1080.1 358.4 1078.0 362.0 1076.0C365.6 1074.0 373.0 1072.0 376.0 1070.0C379.0 1068.0 378.3 1067.0 378.5 1065.0C378.7 1063.0 378.7 1061.3 377.0 1059.0C375.3 1056.7 371.3 1054.7 369.0 1052.0C366.7 1049.3 365.6 1046.9 364.0 1044.0C362.4 1041.1 361.3 1038.4 360.0 1036.0C358.7 1033.6 361.1 1031.5 357.0 1030.5C352.9 1029.5 341.5 1029.5 337.0 1030.5Z" fill="#D3D3D3" stroke="#000" stroke-width="1.9" stroke-linejoin="round"/>
<line x1="320.0" y1="1062.0" x2="376.0" y2="1062.0" stroke="#000" stroke-width="1.60" stroke-dasharray="5 3.5"/>
<rect x="339.7" y="1024.0" width="14.0" height="14.0" fill="#000" stroke="#000" stroke-width="1.00"/>
<rect x="352.0" y="1037.0" width="14.0" height="14.0" fill="#000" stroke="#000" stroke-width="1.00"/>
<circle cx="334.8" cy="1056.0" r="7.00" fill="#000" stroke="#000" stroke-width="0.50" />
<circle cx="334.3" cy="1066.7" r="7.00" fill="#000" stroke="#000" stroke-width="0.50" />
<circle cx="371.2" cy="1081.0" r="7.00" fill="#000" stroke="#000" stroke-width="0.50" />
<path d="M322.1 1056.6L328.9 1069.4L315.4 1069.4Z" fill="#000" stroke="#000" stroke-width="1.00" stroke-linejoin="miter"/>
<path d="M346.7 1060.2L353.4 1073.0L339.9 1073.0Z" fill="#000" stroke="#000" stroke-width="1.00" stroke-linejoin="miter"/>
<path d="M359.0 1060.2L365.8 1073.0L352.2 1073.0Z" fill="#000" stroke="#000" stroke-width="1.00" stroke-linejoin="miter"/>
<path d="M414.5 1142.9C403.5 1143.4 413.3 1143.9 413.3 1145.5C413.3 1147.1 412.9 1149.8 414.5 1152.0C416.1 1154.2 419.6 1155.7 422.0 1158.0C424.4 1160.3 428.0 1162.1 428.0 1165.0C428.0 1167.9 423.8 1170.9 422.0 1174.0C420.2 1177.1 417.3 1179.1 418.0 1182.0C418.7 1184.9 422.8 1187.1 426.0 1190.0C429.2 1192.9 434.0 1194.9 436.0 1198.0C438.0 1201.1 434.1 1205.4 437.0 1207.0C439.9 1208.6 449.1 1208.6 452.0 1207.0C454.9 1205.4 451.0 1201.1 453.0 1198.0C455.0 1194.9 459.8 1192.9 463.0 1190.0C466.2 1187.1 470.1 1184.9 471.0 1182.0C471.9 1179.1 469.6 1177.1 468.0 1174.0C466.4 1170.9 462.0 1167.9 462.0 1165.0C462.0 1162.1 465.8 1160.3 468.0 1158.0C470.2 1155.7 473.1 1154.2 474.5 1152.0C475.9 1149.8 475.7 1147.1 475.7 1145.5C475.7 1143.9 485.5 1143.4 474.5 1142.9C463.5 1142.4 425.5 1142.4 414.5 1142.9Z" fill="#D3D3D3" stroke="#000" stroke-width="1.9" stroke-linejoin="round"/>
<line x1="426.0" y1="1166.7" x2="462.0" y2="1166.7" stroke="#000" stroke-width="1.60" stroke-dasharray="5 3.5"/>
<line x1="421.0" y1="1183.3" x2="470.0" y2="1183.3" stroke="#000" stroke-width="1.60" stroke-dasharray="1.5 5"/>
<rect x="430.6" y="1136.3" width="11.5" height="11.5" fill="#F2B880" stroke="#000" stroke-width="1.90"/>
<rect x="463.1" y="1144.8" width="11.5" height="11.5" fill="#F2B880" stroke="#000" stroke-width="1.90"/>
<rect x="463.1" y="1178.2" width="11.5" height="11.5" fill="#F2B880" stroke="#000" stroke-width="1.90"/>
<circle cx="452.6" cy="1145.2" r="6.00" fill="#F2B880" stroke="#000" stroke-width="1.90" />
<circle cx="420.0" cy="1151.2" r="6.00" fill="#F2B880" stroke="#000" stroke-width="1.90" />
<circle cx="420.0" cy="1166.7" r="6.00" fill="#F2B880" stroke="#000" stroke-width="1.90" />
<path d="M436.4 1171.3L442.4 1182.7L430.4 1182.7Z" fill="#F2B880" stroke="#000" stroke-width="1.90" stroke-linejoin="miter"/>
<path d="M452.6 1176.5L458.6 1187.9L446.6 1187.9Z" fill="#F2B880" stroke="#000" stroke-width="1.90" stroke-linejoin="miter"/>
<path d="M444.3 1201.5L450.3 1212.9L438.3 1212.9Z" fill="#F2B880" stroke="#000" stroke-width="1.90" stroke-linejoin="miter"/>
<path d="M525.0 1147.6C518.9 1148.4 523.6 1149.8 524.5 1152.0C525.4 1154.2 530.8 1156.9 530.0 1160.0C529.2 1163.1 523.4 1165.8 520.0 1169.0C516.6 1172.2 510.3 1174.6 511.0 1177.5C511.7 1180.4 519.7 1182.0 524.0 1185.0C528.3 1188.0 533.6 1191.1 535.0 1194.0C536.4 1196.9 533.6 1198.2 532.0 1201.0C530.4 1203.8 521.3 1208.0 526.0 1209.5C530.7 1211.0 553.1 1211.0 558.0 1209.5C562.9 1208.0 554.4 1203.8 553.0 1201.0C551.6 1198.2 548.2 1196.9 550.0 1194.0C551.8 1191.1 558.9 1188.0 563.0 1185.0C567.1 1182.0 572.5 1180.4 573.0 1177.5C573.5 1174.6 569.1 1172.2 566.0 1169.0C562.9 1165.8 557.3 1163.1 556.0 1160.0C554.7 1156.9 558.5 1154.2 559.0 1152.0C559.5 1149.8 564.7 1148.4 558.6 1147.6C552.5 1146.8 531.1 1146.8 525.0 1147.6Z" fill="#D3D3D3" stroke="#000" stroke-width="1.9" stroke-linejoin="round"/>
<line x1="528.0" y1="1154.5" x2="556.0" y2="1154.5" stroke="#000" stroke-width="1.60" stroke-dasharray="1.5 5"/>
<line x1="515.0" y1="1177.4" x2="571.0" y2="1177.4" stroke="#000" stroke-width="1.60" stroke-dasharray="5 3.5"/>
<line x1="536.0" y1="1196.0" x2="550.0" y2="1196.0" stroke="#000" stroke-width="1.60" stroke-dasharray="1.5 5"/>
<rect x="530.2" y="1140.2" width="11.5" height="11.5" fill="#FF0000" stroke="#000" stroke-width="1.90"/>
<rect x="542.1" y="1143.8" width="11.5" height="11.5" fill="#FF0000" stroke="#000" stroke-width="1.90"/>
<rect x="523.8" y="1173.2" width="11.5" height="11.5" fill="#FF0000" stroke="#000" stroke-width="1.90"/>
<circle cx="566.2" cy="1165.5" r="6.00" fill="#FF0000" stroke="#000" stroke-width="1.90" />
<circle cx="553.8" cy="1172.6" r="6.00" fill="#FF0000" stroke="#000" stroke-width="1.90" />
<circle cx="547.9" cy="1208.3" r="6.00" fill="#FF0000" stroke="#000" stroke-width="1.90" />
<path d="M516.9 1171.8L522.9 1183.2L510.9 1183.2Z" fill="#FF0000" stroke="#000" stroke-width="1.90" stroke-linejoin="miter"/>
<path d="M541.4 1177.2L547.4 1188.6L535.4 1188.6Z" fill="#FF0000" stroke="#000" stroke-width="1.90" stroke-linejoin="miter"/>
<path d="M536.0 1199.2L542.0 1210.6L530.0 1210.6Z" fill="#FF0000" stroke="#000" stroke-width="1.90" stroke-linejoin="miter"/>
<circle cx="629.5" cy="985.5" r="12.00" fill="#D3D3D3" stroke="#000" stroke-width="2.00" />
<text x="652.5" y="998.1" font-size="30.90" xml:space="preserve" >MOCK [CoV-2 (B)]</text>
<circle cx="629.5" cy="1081.1" r="12.00" fill="#F2B880" stroke="#000" stroke-width="2.00" />
<text x="652.5" y="1093.8" font-size="30.90" xml:space="preserve" textLength="277">MOCK [CoV-2 (P.1)]</text>
<circle cx="628.6" cy="1180.1" r="13.60" fill="#000" />
<text x="647.5" y="1193.6" font-size="30.90" xml:space="preserve" >INFEC [(CoV-2 (B)]</text>
<circle cx="629.9" cy="1275.5" r="12.60" fill="#FF0000" stroke="#000" stroke-width="2.00" />
<text x="650.0" y="1289.9" font-size="30.90" xml:space="preserve" textLength="278.5">INFEC [CoV-2 (P.1)]</text>
<!-- p40_d.py -->
<defs><linearGradient id="blotbg" x1="0" x2="1" y1="0" y2="0"><stop offset="0" stop-color="#F1EFEF"/><stop offset="0.1" stop-color="#EFEDED"/><stop offset="0.2" stop-color="#F7F5F5"/><stop offset="1" stop-color="#F8F6F6"/></linearGradient></defs>
<text x="1027.7" y="827.9" font-size="33.00" xml:space="preserve" class="b">d</text>
<text x="1112.9" y="827.9" font-size="37.20" xml:space="preserve" class="b">HSL  and ATGL abundance  (Western blotting)</text>
<text x="1290.2" y="909.9" font-size="23.60" xml:space="preserve" class="b">MOCK</text>
<text x="1467.5" y="909.9" font-size="24.00" xml:space="preserve" class="b">INFEC [CoV-2 (B)]</text>
<clipPath id="bc1"><rect x="1191.8" y="936.3" width="492.4" height="72.3"/></clipPath>
<rect x="1191.80" y="936.30" width="492.40" height="72.30" fill="url(#blotbg)" />
<g clip-path="url(#bc1)">
<rect x="1214.8" y="962.0" width="37.4" height="20.5" rx="8" fill="#8E8E8E" filter="url(#bl3)"/>
<rect x="1267.0" y="974.0" width="55.3" height="10.1" rx="5.1" fill="#141414" fill-opacity="1.00" filter="url(#bl15)"/>
<rect x="1341.0" y="974.0" width="47.4" height="10.1" rx="5.1" fill="#141414" fill-opacity="1.00" filter="url(#bl15)"/>
<rect x="1407.7" y="973.1" width="48.2" height="9.6" rx="4.8" fill="#141414" fill-opacity="1.00" filter="url(#bl15)"/>
<rect x="1471.0" y="974.5" width="48.2" height="7.9" rx="3.9" fill="#2a2a2a" fill-opacity="0.90" filter="url(#bl15)"/>
<rect x="1540.0" y="972.8" width="48.2" height="8.4" rx="4.2" fill="#141414" fill-opacity="0.95" filter="url(#bl15)"/>
<rect x="1607.5" y="973.4" width="56.7" height="6.2" rx="3.1" fill="#444" fill-opacity="0.80" filter="url(#bl15)"/>
</g>
<rect x="1193.30" y="937.80" width="489.40" height="69.30" fill="none" stroke="#000" stroke-width="3.10" />
<clipPath id="bc2"><rect x="1191.8" y="1047.4" width="492.4" height="76.5"/></clipPath>
<rect x="1191.80" y="1047.40" width="492.40" height="76.50" fill="url(#blotbg)" />
<g clip-path="url(#bc2)">
<rect x="1212.5" y="1074.6" width="37.4" height="20.5" rx="8" fill="#999" filter="url(#bl3)"/>
<rect x="1265.6" y="1086.8" width="55.3" height="10.7" rx="5.3" fill="#141414" fill-opacity="1.00" filter="url(#bl15)"/>
<rect x="1340.2" y="1086.8" width="48.2" height="10.7" rx="5.3" fill="#141414" fill-opacity="1.00" filter="url(#bl15)"/>
<rect x="1407.7" y="1084.8" width="48.2" height="10.1" rx="5.1" fill="#141414" fill-opacity="1.00" filter="url(#bl15)"/>
<rect x="1471.0" y="1086.2" width="48.2" height="9.6" rx="4.8" fill="#141414" fill-opacity="1.00" filter="url(#bl15)"/>
<rect x="1541.4" y="1084.8" width="48.2" height="9.6" rx="4.8" fill="#141414" fill-opacity="1.00" filter="url(#bl15)"/>
<rect x="1608.9" y="1084.0" width="58.1" height="8.4" rx="4.2" fill="#141414" fill-opacity="1.00" filter="url(#bl15)"/>
</g>
<rect x="1193.30" y="1048.90" width="489.40" height="73.50" fill="none" stroke="#000" stroke-width="3.10" />
<clipPath id="bc3"><rect x="1191.8" y="1171.4" width="492.4" height="61.6"/></clipPath>
<rect x="1191.80" y="1171.40" width="492.40" height="61.60" fill="url(#blotbg)" />
<g clip-path="url(#bc3)">
<rect x="1212.5" y="1199.4" width="41.9" height="21.1" rx="8" fill="#777" filter="url(#bl3)"/>
<rect x="1269.0" y="1191.6" width="53.9" height="6.8" rx="3.4" fill="#333" fill-opacity="0.90" filter="url(#bl15)"/>
<rect x="1345.2" y="1191.6" width="44.6" height="6.8" rx="3.4" fill="#333" fill-opacity="0.90" filter="url(#bl15)"/>
<rect x="1411.4" y="1191.1" width="44.6" height="6.8" rx="3.4" fill="#333" fill-opacity="0.90" filter="url(#bl15)"/>
<rect x="1475.2" y="1191.9" width="47.4" height="6.2" rx="3.1" fill="#888" fill-opacity="0.80" filter="url(#bl15)"/>
<rect x="1545.6" y="1191.1" width="48.2" height="5.6" rx="2.8" fill="#999" fill-opacity="0.70" filter="url(#bl15)"/>
<rect x="1615.9" y="1192.2" width="53.9" height="5.6" rx="2.8" fill="#888" fill-opacity="0.75" filter="url(#bl15)"/>
</g>
<rect x="1193.30" y="1172.90" width="489.40" height="58.60" fill="none" stroke="#000" stroke-width="3.10" />
<clipPath id="bc4"><rect x="1191.8" y="1280.3" width="492.4" height="54.6"/></clipPath>
<rect x="1191.80" y="1280.30" width="492.40" height="54.60" fill="url(#blotbg)" />
<g clip-path="url(#bc4)">
<rect x="1215.3" y="1292.2" width="39.1" height="23.3" rx="8" fill="#888" filter="url(#bl3)"/>
<rect x="1265.6" y="1297.4" width="56.7" height="10.1" rx="5.1" fill="#141414" fill-opacity="1.00" filter="url(#bl15)"/>
<rect x="1341.0" y="1296.9" width="47.4" height="10.1" rx="5.1" fill="#141414" fill-opacity="1.00" filter="url(#bl15)"/>
<rect x="1408.5" y="1296.6" width="44.6" height="9.6" rx="4.8" fill="#141414" fill-opacity="1.00" filter="url(#bl15)"/>
<rect x="1471.0" y="1298.0" width="48.2" height="10.7" rx="5.3" fill="#141414" fill-opacity="1.00" filter="url(#bl15)"/>
<rect x="1541.4" y="1295.8" width="48.2" height="11.3" rx="5.6" fill="#141414" fill-opacity="1.00" filter="url(#bl15)"/>
<rect x="1608.3" y="1298.0" width="58.7" height="12.4" rx="6.2" fill="#141414" fill-opacity="1.00" filter="url(#bl15)"/>
</g>
<rect x="1193.30" y="1281.80" width="489.40" height="51.60" fill="none" stroke="#000" stroke-width="3.10" />
<text x="1020.2" y="972.8" font-size="29.60" xml:space="preserve" >~100 kda</text><line x1="1144.8" y1="966.4" x2="1189.0" y2="966.4" stroke="#000" stroke-width="3.00" />
<text x="1010.6" y="1087.9" font-size="29.60" xml:space="preserve" >~100 kda</text><line x1="1137.4" y1="1079.9" x2="1181.0" y2="1079.9" stroke="#000" stroke-width="3.00" />
<text x="1026.8" y="1210.4" font-size="29.60" xml:space="preserve" textLength="103.5">~55 kda</text><line x1="1139.5" y1="1204.0" x2="1178.4" y2="1204.0" stroke="#000" stroke-width="3.00" />
<text x="1027.7" y="1306.2" font-size="29.60" xml:space="preserve" >~55 kda</text><line x1="1139.5" y1="1299.3" x2="1178.4" y2="1299.3" stroke="#000" stroke-width="3.00" />
<line x1="1691.2" y1="976.5" x2="1725.2" y2="976.5" stroke="#000" stroke-width="3.00" />
<text x="1740.2" y="986.6" font-size="29.80" xml:space="preserve" >p-HSL ~ 83 kda</text>
<line x1="1691.2" y1="1090.0" x2="1725.2" y2="1090.0" stroke="#000" stroke-width="3.00" />
<text x="1740.2" y="1098.6" font-size="29.80" xml:space="preserve" >HSL ~ 83 kda</text>
<line x1="1694.9" y1="1200.8" x2="1729.5" y2="1200.8" stroke="#000" stroke-width="3.00" />
<text x="1745.5" y="1208.0" font-size="29.80" xml:space="preserve" >ATGL</text>
<text x="1829.0" y="1210.6" font-size="29.80" xml:space="preserve" >~ 54 kda</text>
<line x1="1697.6" y1="1303.0" x2="1732.2" y2="1303.0" stroke="#000" stroke-width="3.00" />
<text x="1740.2" y="1312.6" font-size="29.40" xml:space="preserve" >ß-tubulin  ~ 52 kda</text>
<line x1="1272.9" y1="1013.6" x2="1455.2" y2="1013.6" stroke="#555" stroke-width="1.00" />
<line x1="1474.9" y1="1013.6" x2="1657.8" y2="1013.6" stroke="#555" stroke-width="1.00" />
<line x1="1272.9" y1="1127.0" x2="1455.2" y2="1127.0" stroke="#555" stroke-width="1.00" />
<line x1="1474.9" y1="1127.0" x2="1657.8" y2="1127.0" stroke="#555" stroke-width="1.00" />
<line x1="1275.7" y1="1234.4" x2="1458.0" y2="1234.4" stroke="#555" stroke-width="1.00" />
<line x1="1477.7" y1="1234.4" x2="1660.0" y2="1234.4" stroke="#555" stroke-width="1.00" />
<text x="1303.2" y="1041.8" font-size="23.1" class="b" xml:space="preserve">1.00 ± 0.03</text>
<text x="1504.4" y="1041.8" font-size="23.1" class="b" xml:space="preserve">0.57 ± 0.02<tspan font-size="15" font-weight="400" dy="-6.5" dx="0.5">a</tspan></text>
<text x="1303.5" y="1155.6" font-size="23.1" class="b" xml:space="preserve">1.00 ± 0.03</text>
<text x="1504.8" y="1155.6" font-size="23.1" class="b" xml:space="preserve">0.65 ± 0.03<tspan font-size="15" font-weight="400" dy="-6.5" dx="0.5">a</tspan></text>
<text x="1305.8" y="1263.1" font-size="23.1" class="b" xml:space="preserve">1.00 ± 0.05</text>
<text x="1507.2" y="1263.1" font-size="23.1" class="b" xml:space="preserve">0.33 ± 0.02<tspan font-size="15" font-weight="400" dy="-6.5" dx="0.5">a</tspan></text>
<!-- p50_ef.py -->
<text x="0.0" y="1510.5" font-size="33.00" xml:space="preserve" class="b">e</text>
<text x="124.3" y="1510.5" font-size="36.50" xml:space="preserve" class="b">Glycerol levels</text>
<rect x="193.10" y="1776.00" width="68.20" height="196.70" fill="#D3D3D3" stroke="#000" stroke-width="1.50" />
<rect x="297.70" y="1890.20" width="68.20" height="82.50" fill="#D3D3D3" stroke="#000" stroke-width="1.50" />
<line x1="156.8" y1="1603.6" x2="156.8" y2="1974.5" stroke="#000" stroke-width="3.60" />
<line x1="141.7" y1="1972.7" x2="403.9" y2="1972.7" stroke="#000" stroke-width="3.60" />
<line x1="141.7" y1="1605.4" x2="156.8" y2="1605.4" stroke="#000" stroke-width="3.60" />
<text x="136.9" y="1615.6" font-size="26.80" xml:space="preserve" class="b" text-anchor="end">50</text>
<line x1="141.7" y1="1678.9" x2="156.8" y2="1678.9" stroke="#000" stroke-width="3.60" />
<text x="136.9" y="1689.1" font-size="26.80" xml:space="preserve" class="b" text-anchor="end">40</text>
<line x1="141.7" y1="1752.6" x2="156.8" y2="1752.6" stroke="#000" stroke-width="3.60" />
<text x="136.9" y="1762.8" font-size="26.80" xml:space="preserve" class="b" text-anchor="end">30</text>
<line x1="141.7" y1="1826.1" x2="156.8" y2="1826.1" stroke="#000" stroke-width="3.60" />
<text x="136.9" y="1836.3" font-size="26.80" xml:space="preserve" class="b" text-anchor="end">20</text>
<line x1="141.7" y1="1899.8" x2="156.8" y2="1899.8" stroke="#000" stroke-width="3.60" />
<text x="136.9" y="1910.0" font-size="26.80" xml:space="preserve" class="b" text-anchor="end">10</text>
<line x1="141.7" y1="1972.7" x2="156.8" y2="1972.7" stroke="#000" stroke-width="3.60" />
<text x="136.9" y="1982.9" font-size="26.80" xml:space="preserve" class="b" text-anchor="end">0</text>
<text transform="translate(53.5 1790.5) rotate(-90)" text-anchor="middle" font-size="30.4" class="b">Glycerol µM/µg protein</text>
<line x1="227.0" y1="1748.5" x2="227.0" y2="1801.6" stroke="#000" stroke-width="1.50" /><line x1="210.0" y1="1748.5" x2="244.0" y2="1748.5" stroke="#000" stroke-width="1.50" /><line x1="210.0" y1="1801.6" x2="244.0" y2="1801.6" stroke="#000" stroke-width="1.50" />
<line x1="332.0" y1="1873.1" x2="332.0" y2="1905.3" stroke="#000" stroke-width="1.50" /><line x1="315.0" y1="1873.1" x2="349.0" y2="1873.1" stroke="#000" stroke-width="1.50" /><line x1="315.0" y1="1905.3" x2="349.0" y2="1905.3" stroke="#000" stroke-width="1.50" />
<path d="M215.4 1659.1L220.9 1669.6L209.9 1669.6Z" fill="#D3D3D3" stroke="#000" stroke-width="1.40" stroke-linejoin="miter"/>
<path d="M238.5 1665.4L244.0 1675.9L233.0 1675.9Z" fill="#D3D3D3" stroke="#000" stroke-width="1.40" stroke-linejoin="miter"/>
<path d="M227.0 1777.4L232.5 1787.9L221.5 1787.9Z" fill="#D3D3D3" stroke="#000" stroke-width="1.40" stroke-linejoin="miter"/>
<rect x="221.8" y="1759.8" width="10.5" height="10.5" fill="#D3D3D3" stroke="#000" stroke-width="1.40"/>
<rect x="221.8" y="1807.3" width="10.5" height="10.5" fill="#D3D3D3" stroke="#000" stroke-width="1.40"/>
<rect x="221.8" y="1883.5" width="10.5" height="10.5" fill="#D3D3D3" stroke="#000" stroke-width="1.40"/>
<circle cx="203.6" cy="1799.9" r="5.20" fill="#D3D3D3" stroke="#000" stroke-width="1.40" />
<circle cx="250.3" cy="1815.1" r="5.20" fill="#D3D3D3" stroke="#000" stroke-width="1.40" />
<rect x="314.2" y="1813.2" width="12.5" height="12.5" fill="#000" stroke="#000" stroke-width="0.00"/>
<rect x="325.8" y="1888.5" width="12.5" height="12.5" fill="#000" stroke="#000" stroke-width="0.00"/>
<rect x="349.4" y="1880.7" width="12.5" height="12.5" fill="#000" stroke="#000" stroke-width="0.00"/>
<path d="M343.9 1828.6L350.1 1840.5L337.6 1840.5Z" fill="#000" stroke="#000" stroke-width="0.50" stroke-linejoin="miter"/>
<path d="M320.5 1915.3L326.8 1927.2L314.2 1927.2Z" fill="#000" stroke="#000" stroke-width="0.50" stroke-linejoin="miter"/>
<path d="M332.0 1965.6L338.2 1977.5L325.8 1977.5Z" fill="#000" stroke="#000" stroke-width="0.50" stroke-linejoin="miter"/>
<circle cx="332.0" cy="1855.0" r="6.40" fill="#000" />
<circle cx="308.7" cy="1892.1" r="6.40" fill="#000" />
<circle cx="343.9" cy="1925.9" r="6.40" fill="#000" />
<text x="332.9" y="1772.5" font-size="21.50" xml:space="preserve" text-anchor="middle">a</text>
<text x="489.8" y="1512.0" font-size="33.00" xml:space="preserve" class="b">f</text>
<text x="582.7" y="1512.0" font-size="37.10" xml:space="preserve" class="b">SARS-CoV-2 RNA</text>
<rect x="704.00" y="1696.30" width="47.30" height="186.20" fill="#D3D3D3" stroke="#000" stroke-width="1.50" />
<rect x="777.60" y="1657.50" width="47.70" height="225.00" fill="#D3D3D3" stroke="#000" stroke-width="1.50" />
<line x1="605.2" y1="1605.4" x2="605.2" y2="1976.6" stroke="#000" stroke-width="3.60" />
<line x1="589.2" y1="1974.8" x2="851.6" y2="1974.8" stroke="#000" stroke-width="3.60" />
<line x1="589.2" y1="1882.5" x2="850.1" y2="1882.5" stroke="#000" stroke-width="3.60" />
<line x1="589.2" y1="1607.2" x2="605.2" y2="1607.2" stroke="#000" stroke-width="3.60" />
<text x="586.0" y="1617.4" font-size="26.80" xml:space="preserve" class="b" text-anchor="end">15</text>
<line x1="589.2" y1="1699.3" x2="605.2" y2="1699.3" stroke="#000" stroke-width="3.60" />
<text x="586.0" y="1709.5" font-size="26.80" xml:space="preserve" class="b" text-anchor="end">10</text>
<line x1="589.2" y1="1791.0" x2="605.2" y2="1791.0" stroke="#000" stroke-width="3.60" />
<text x="586.0" y="1801.2" font-size="26.80" xml:space="preserve" class="b" text-anchor="end">5</text>
<line x1="589.2" y1="1882.5" x2="605.2" y2="1882.5" stroke="#000" stroke-width="3.60" />
<text x="586.0" y="1892.7" font-size="26.80" xml:space="preserve" class="b" text-anchor="end">0</text>
<line x1="589.2" y1="1974.8" x2="605.2" y2="1974.8" stroke="#000" stroke-width="3.60" />
<text x="586.0" y="1985.0" font-size="26.80" xml:space="preserve" class="b" text-anchor="end">-5</text>
<text transform="translate(533 1790.5) rotate(-90)" text-anchor="middle" font-size="30.0" class="b">Fold change (Log<tspan font-size="19" dy="5">2</tspan><tspan dy="-5">)</tspan></text>
<line x1="727.7" y1="1682.3" x2="727.7" y2="1708.6" stroke="#000" stroke-width="1.50" /><line x1="715.4" y1="1682.3" x2="740.0" y2="1682.3" stroke="#000" stroke-width="1.50" /><line x1="715.4" y1="1708.6" x2="740.0" y2="1708.6" stroke="#000" stroke-width="1.50" />
<line x1="801.3" y1="1642.9" x2="801.3" y2="1669.7" stroke="#000" stroke-width="1.50" /><line x1="789.0" y1="1642.9" x2="813.6" y2="1642.9" stroke="#000" stroke-width="1.50" /><line x1="789.0" y1="1669.7" x2="813.6" y2="1669.7" stroke="#000" stroke-width="1.50" />
<rect x="722.5" y="1647.2" width="10.5" height="10.5" fill="#333333" stroke="#000" stroke-width="1.50"/>
<rect x="714.0" y="1668.3" width="10.5" height="10.5" fill="#333333" stroke="#000" stroke-width="1.50"/>
<rect x="730.6" y="1669.2" width="10.5" height="10.5" fill="#333333" stroke="#000" stroke-width="1.50"/>
<circle cx="711.3" cy="1721.8" r="5.60" fill="#333333" stroke="#000" stroke-width="1.50" />
<circle cx="728.0" cy="1725.3" r="5.60" fill="#333333" stroke="#000" stroke-width="1.50" />
<circle cx="744.3" cy="1726.2" r="5.60" fill="#333333" stroke="#000" stroke-width="1.50" />
<rect x="787.9" y="1616.2" width="10.5" height="10.5" fill="#C8C800" stroke="#000" stroke-width="1.50"/>
<rect x="804.2" y="1619.5" width="10.5" height="10.5" fill="#C8C800" stroke="#000" stroke-width="1.50"/>
<circle cx="785.0" cy="1676.8" r="5.60" fill="#C8C800" stroke="#000" stroke-width="1.50" />
<circle cx="801.3" cy="1680.0" r="5.60" fill="#C8C800" stroke="#000" stroke-width="1.50" />
<circle cx="817.7" cy="1680.0" r="5.60" fill="#C8C800" stroke="#000" stroke-width="1.50" />
<circle cx="658.7" cy="1867.3" r="5.40" fill="#D3D3D3" stroke="#000" stroke-width="1.40" />
<circle cx="643.5" cy="1882.5" r="5.40" fill="#D3D3D3" stroke="#000" stroke-width="1.40" />
<circle cx="664.6" cy="1881.0" r="5.40" fill="#D3D3D3" stroke="#000" stroke-width="1.40" />
<circle cx="671.9" cy="1881.0" r="5.40" fill="#D3D3D3" stroke="#000" stroke-width="1.40" />
<line x1="654.3" y1="1884.5" x2="654.3" y2="1890.5" stroke="#000" stroke-width="1.40" /><line x1="642.3" y1="1884.5" x2="666.3" y2="1884.5" stroke="#000" stroke-width="1.40" /><line x1="642.3" y1="1890.5" x2="666.3" y2="1890.5" stroke="#000" stroke-width="1.40" />
<line x1="640.0" y1="1887.5" x2="668.0" y2="1887.5" stroke="#000" stroke-width="1.40" />
<rect x="645.4" y="1861.3" width="10.2" height="10.2" fill="#D3D3D3" stroke="#000" stroke-width="1.40"/>
<rect x="653.0" y="1874.5" width="10.2" height="10.2" fill="#D3D3D3" stroke="#000" stroke-width="1.40"/>
<rect x="631.1" y="1883.2" width="10.2" height="10.2" fill="#D3D3D3" stroke="#000" stroke-width="1.40"/>
<rect x="638.4" y="1897.0" width="10.2" height="10.2" fill="#D3D3D3" stroke="#000" stroke-width="1.40"/>
<rect x="650.7" y="1898.4" width="10.2" height="10.2" fill="#D3D3D3" stroke="#000" stroke-width="1.40"/>
<rect x="659.5" y="1902.8" width="10.2" height="10.2" fill="#D3D3D3" stroke="#000" stroke-width="1.40"/>
<text x="726.5" y="1628.5" font-size="21.50" xml:space="preserve" text-anchor="middle">a</text>
<text x="802.3" y="1605.5" font-size="21.50" xml:space="preserve" text-anchor="middle" letter-spacing="1">a,b</text>
<circle cx="21.8" cy="2091.4" r="12.00" fill="#D3D3D3" stroke="#000" stroke-width="2.00" />
<text x="44.7" y="2103.4" font-size="30.90" xml:space="preserve" >MOCK [CoV-2 (B)]</text>
<circle cx="346.4" cy="2091.4" r="13.60" fill="#000" />
<text x="375.7" y="2103.4" font-size="30.90" xml:space="preserve" >INFEC [CoV-2 (B)]</text>
<circle cx="675.7" cy="2091.4" r="12.00" fill="#BFBF00" stroke="#000" stroke-width="2.00" />
<text x="700.5" y="2103.4" font-size="30.9" xml:space="preserve">INFEC [CoV-2 (B)] + I<tspan dx="-3">S</tspan><tspan dx="-5.5">O</tspan></text>
<!-- p60_g.py -->
<text x="1025.0" y="1508.0" font-size="33.00" xml:space="preserve" class="b">g</text>
<text x="1230.6" y="1505.9" font-size="37.00" xml:space="preserve" class="b">Interferon signaling alterations</text>
<text x="1095.8" y="1575.1" font-size="30.90" xml:space="preserve" class="b" textLength="283.3">INFEC [CoV-2 (P.1)]</text>
<text x="1621.4" y="1575.1" font-size="30.80" xml:space="preserve" class="b">INFEC [CoV-2 (B)]</text>
<g filter="url(#bl1)">
<line x1="1271.3" y1="1824.0" x2="1213.2" y2="1653.0" stroke="#9A9A9A" stroke-width="1.50" />
<line x1="1271.3" y1="1824.0" x2="1362.0" y2="1667.1" stroke="#9A9A9A" stroke-width="1.50" />
<line x1="1271.3" y1="1824.0" x2="1100.1" y2="1753.7" stroke="#9A9A9A" stroke-width="1.50" />
<line x1="1271.3" y1="1824.0" x2="1455.3" y2="1804.3" stroke="#9A9A9A" stroke-width="1.50" />
<line x1="1271.3" y1="1824.0" x2="1103.0" y2="1901.1" stroke="#9A9A9A" stroke-width="1.50" />
<line x1="1271.3" y1="1824.0" x2="1398.8" y2="1954.4" stroke="#9A9A9A" stroke-width="1.50" />
<line x1="1271.3" y1="1824.0" x2="1240.2" y2="2001.8" stroke="#9A9A9A" stroke-width="1.50" />
<circle cx="1213.2" cy="1653.0" r="18.50" fill="#F5A7A7" />
<circle cx="1362.0" cy="1667.1" r="18.50" fill="#F7DCDC" />
<circle cx="1100.1" cy="1753.7" r="18.50" fill="#0C3BF7" />
<circle cx="1455.3" cy="1804.3" r="18.50" fill="#F5A1A1" />
<circle cx="1103.0" cy="1901.1" r="18.50" fill="#CCD7F8" />
<circle cx="1398.8" cy="1954.4" r="18.50" fill="#F5A3A3" />
<circle cx="1240.2" cy="2001.8" r="18.50" fill="#F7BFBF" />
<circle cx="1271.3" cy="1824.0" r="18.50" fill="#7FCDB6" />
</g>
<g filter="url(#bl08)">
<text x="1213.2" y="1658.4" font-size="15.30" xml:space="preserve" text-anchor="middle" fill="#444">IRF1</text>
<text x="1362.0" y="1672.5" font-size="15.30" xml:space="preserve" text-anchor="middle" fill="#444">TRIM28</text>
<text x="1100.1" y="1759.1" font-size="15.30" xml:space="preserve" text-anchor="middle" fill="#444">TRIM25</text>
<text x="1455.3" y="1809.7" font-size="15.30" xml:space="preserve" text-anchor="middle" fill="#444">HLA-C</text>
<text x="1103.0" y="1906.5" font-size="15.30" xml:space="preserve" text-anchor="middle" fill="#444">HLA-A</text>
<text x="1398.8" y="1959.8" font-size="15.30" xml:space="preserve" text-anchor="middle" fill="#444">TPR</text>
<text x="1240.2" y="2007.2" font-size="15.30" xml:space="preserve" text-anchor="middle" fill="#444">EIF4G1</text>
<text x="1269.3" y="1829.0" font-size="15.30" xml:space="preserve" text-anchor="middle" fill="#444">Interferon Signaling</text>
</g>
<g filter="url(#bl1)">
<line x1="1758.0" y1="1849.3" x2="1745.0" y2="1676.6" stroke="#9A9A9A" stroke-width="1.50" />
<line x1="1758.0" y1="1849.3" x2="1908.1" y2="1752.6" stroke="#9A9A9A" stroke-width="1.50" />
<line x1="1758.0" y1="1849.3" x2="1596.6" y2="1774.0" stroke="#9A9A9A" stroke-width="1.50" />
<line x1="1758.0" y1="1849.3" x2="1919.7" y2="1924.4" stroke="#9A9A9A" stroke-width="1.50" />
<line x1="1758.0" y1="1849.3" x2="1610.9" y2="1947.7" stroke="#9A9A9A" stroke-width="1.50" />
<line x1="1758.0" y1="1849.3" x2="1772.3" y2="2021.0" stroke="#9A9A9A" stroke-width="1.50" />
<circle cx="1745.0" cy="1676.6" r="18.00" fill="#2050FF" />
<circle cx="1908.1" cy="1752.6" r="18.00" fill="#2050FF" />
<circle cx="1596.6" cy="1774.0" r="18.00" fill="#D2DBF9" />
<circle cx="1919.7" cy="1924.4" r="18.00" fill="#F5A3A3" />
<circle cx="1610.9" cy="1947.7" r="18.00" fill="#A4B7FA" />
<circle cx="1772.3" cy="2021.0" r="18.00" fill="#A4B7FA" />
<circle cx="1758.0" cy="1849.3" r="18.00" fill="#7FCDB6" />
</g>
<g filter="url(#bl08)">
<text x="1745.0" y="1682.0" font-size="15.30" xml:space="preserve" text-anchor="middle" fill="#444">STAT1</text>
<text x="1908.1" y="1758.0" font-size="15.30" xml:space="preserve" text-anchor="middle" fill="#444">HLA-E</text>
<text x="1596.6" y="1779.4" font-size="15.30" xml:space="preserve" text-anchor="middle" fill="#444">TRIM28</text>
<text x="1919.7" y="1929.8" font-size="15.30" xml:space="preserve" text-anchor="middle" fill="#444">EIF4G1</text>
<text x="1610.9" y="1953.1" font-size="15.30" xml:space="preserve" text-anchor="middle" fill="#444">TPR</text>
<text x="1772.3" y="2026.4" font-size="15.30" xml:space="preserve" text-anchor="middle" fill="#444">TRIM25</text>
<text x="1756.0" y="1854.3" font-size="15.30" xml:space="preserve" text-anchor="middle" fill="#444">Interferon Siganling</text>
</g>
<defs><linearGradient id="cbg" x1="0" x2="1" y1="0" y2="0"><stop offset="0" stop-color="#0033FF"/><stop offset="0.15" stop-color="#3A60FF"/><stop offset="0.5" stop-color="#F8F6F8"/><stop offset="0.85" stop-color="#FF4A4A"/><stop offset="1" stop-color="#FF0000"/></linearGradient></defs>
<g filter="url(#bl1)">
<rect x="1445.20" y="2050.00" width="147.70" height="57.60" fill="url(#cbg)" />
</g><g filter="url(#bl08)">
<text x="1448.5" y="2117.5" font-size="9.60" xml:space="preserve" class="ser" text-anchor="middle" fill="#222">-0.5</text>
<text x="1519.5" y="2121.0" font-size="9.60" xml:space="preserve" class="ser" text-anchor="middle" fill="#222">0</text>
<text x="1591.0" y="2117.5" font-size="9.60" xml:space="preserve" class="ser" text-anchor="middle" fill="#222">0.5</text>
<text x="1514.8" y="2141.5" font-size="12.10" xml:space="preserve" class="ser" text-anchor="middle" fill="#222">Log2 Fold Change</text>
</g>
</svg>
</body></html>
